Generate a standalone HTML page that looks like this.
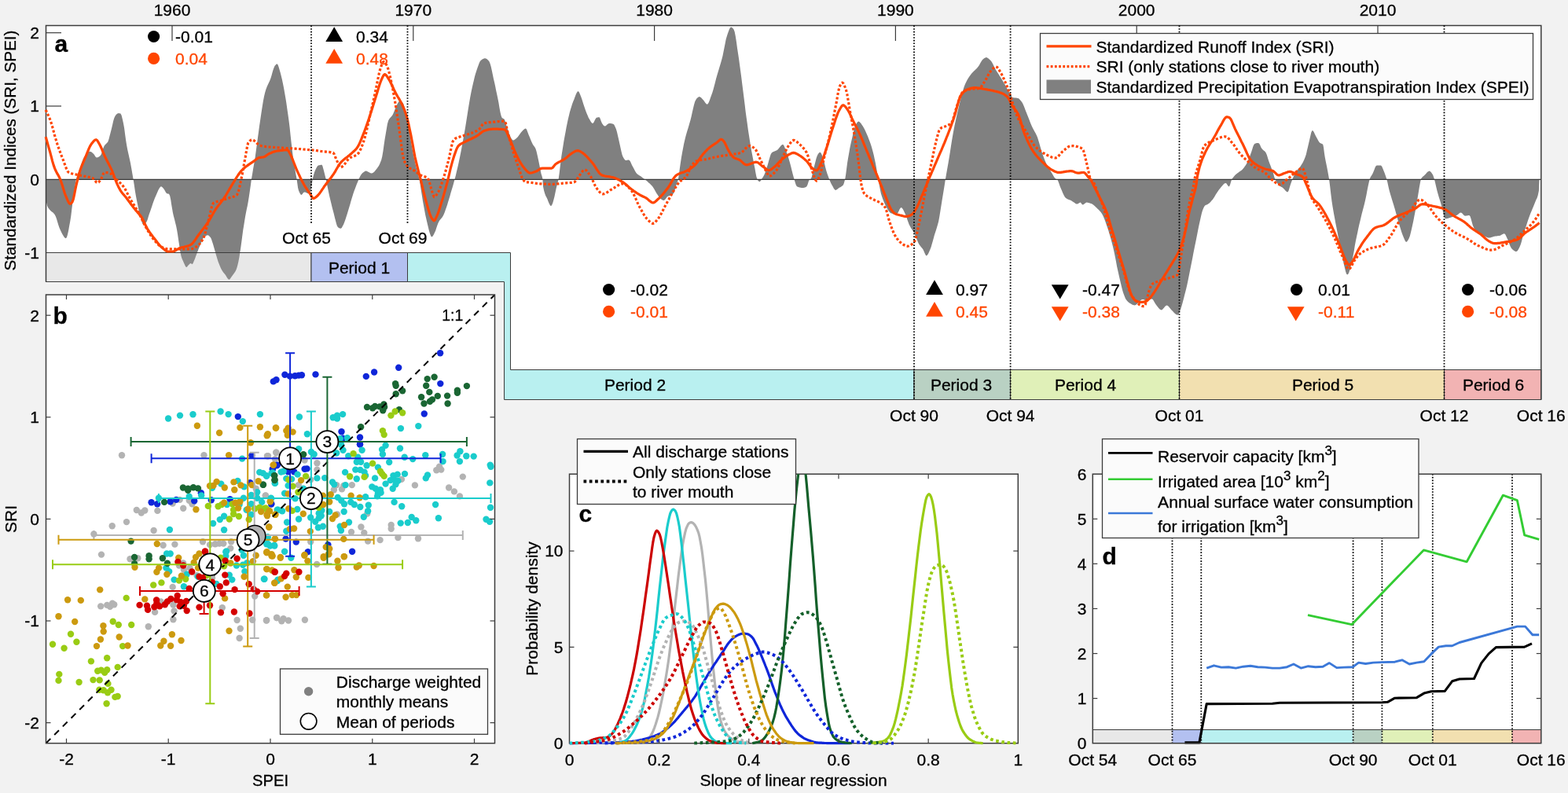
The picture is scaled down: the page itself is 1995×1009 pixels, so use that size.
<!DOCTYPE html>
<html lang="en">
<head>
<meta charset="utf-8">
<title>Standardized indices (SRI, SPEI) figure</title>
<style>
html,body{margin:0;padding:0;background:#f2f2f2;}
body{width:1995px;height:1009px;overflow:hidden;font-family:"Liberation Sans", "DejaVu Sans", sans-serif;}
svg text{white-space:pre;fill:#000;stroke:#000;stroke-width:0.3px;}
svg text.o{fill:#ff4500;stroke:#ff4500;}
</style>
</head>
<body>
<svg width="1995" height="1009" viewBox="0 0 1995 1009" font-family='"Liberation Sans", "DejaVu Sans", sans-serif' style="display:block">
<rect x="0" y="0" width="1995" height="1009" fill="#f2f2f2" stroke="none" stroke-width="1"/>
<g id="panel-a">
<polygon points="58.5,32.5 1960.8,32.5 1960.8,470.5 649.5,470.5 649.5,321.5 58.5,321.5" fill="#fff"/>
<polygon points="58.5,228.3 58.2,227.6 58.9,256.9 60.1,261.9 61.2,264.2 62.4,265.8 63.6,267.3 64.8,268.5 66.0,269.4 67.2,270.3 68.4,271.4 69.6,272.9 70.8,275.3 72.0,278.5 73.1,282.3 74.3,286.2 75.5,289.7 76.7,292.6 77.9,295.0 79.1,297.4 80.3,299.6 81.5,301.5 82.7,302.8 83.8,303.3 84.9,301.9 86.0,298.4 87.1,293.5 88.1,287.7 89.2,281.9 90.3,275.0 91.3,266.6 92.4,257.8 93.5,249.7 94.7,241.5 95.9,233.7 97.0,227.6 98.2,223.5 99.4,220.1 100.5,217.1 101.7,214.1 102.8,210.9 103.8,207.7 104.9,204.5 106.0,201.8 107.0,199.8 108.2,198.0 109.4,196.4 110.6,194.9 111.8,193.7 113.0,192.9 114.2,192.7 115.3,192.9 116.5,193.6 117.6,194.5 118.8,195.5 119.9,196.8 120.9,198.4 122.0,199.9 123.1,200.5 124.2,200.3 125.4,199.8 126.6,199.0 127.7,198.0 128.7,196.4 129.7,193.7 130.7,190.6 131.7,187.7 132.7,185.5 133.9,184.0 135.0,183.0 136.2,181.8 137.4,180.2 138.5,176.9 139.7,172.3 140.9,167.7 142.0,163.4 143.1,158.8 144.1,154.2 145.2,150.5 146.3,148.1 147.3,146.6 148.4,145.3 149.5,144.5 150.6,144.1 151.5,144.2 152.5,144.3 153.4,144.5 154.6,146.7 155.8,151.4 157.0,157.0 158.1,163.1 159.1,170.8 160.2,178.7 161.3,185.5 162.4,191.3 163.6,196.4 164.7,201.4 165.9,206.9 167.1,213.4 168.3,220.5 169.5,227.6 170.7,235.1 171.8,242.8 173.0,249.7 174.1,255.4 175.2,260.8 176.2,265.9 177.3,270.6 178.4,274.7 179.6,279.4 180.8,283.6 182.0,285.4 183.1,285.2 184.3,284.5 185.5,283.6 186.6,282.1 187.7,279.4 188.7,276.1 189.8,272.6 190.9,269.4 192.1,266.0 193.3,262.6 194.4,259.1 195.6,255.7 196.8,252.5 198.0,249.7 199.2,247.1 200.4,244.2 201.6,241.6 202.8,239.4 204.0,237.8 205.1,237.3 206.3,237.9 207.5,239.3 208.7,240.8 209.9,242.7 211.1,244.9 212.3,246.2 213.2,246.4 214.2,246.6 215.1,246.9 216.2,249.3 217.3,254.6 218.3,261.2 219.4,267.6 219.8,270.0 220.9,274.9 222.0,279.1 223.0,283.2 224.1,287.5 225.1,292.6 226.1,298.6 227.1,305.4 228.1,312.1 229.2,319.6 230.4,325.6 231.4,328.7 232.4,331.1 233.4,333.2 234.3,335.3 235.3,337.5 236.2,339.2 237.1,339.9 238.1,339.4 239.1,338.1 240.2,336.9 241.3,335.7 242.4,335.0 243.5,335.6 244.7,336.2 245.8,334.5 246.9,331.7 247.9,329.4 248.8,326.9 249.7,324.4 250.7,321.9 251.8,319.0 252.9,316.1 254.1,313.2 255.2,310.6 256.3,308.0 257.4,305.3 258.6,303.0 259.7,301.6 260.8,300.7 262.0,300.0 263.1,299.5 264.2,299.3 265.2,299.6 266.1,300.2 267.0,301.2 268.0,302.3 269.0,304.4 270.0,307.4 271.0,310.6 272.0,314.0 273.0,317.6 274.0,321.1 274.9,324.3 275.9,327.4 276.8,330.4 277.7,333.2 278.9,336.2 280.0,339.0 281.1,341.5 282.3,343.7 283.4,345.4 284.5,346.9 285.6,348.3 286.8,349.7 287.9,351.5 289.0,353.5 290.2,355.1 291.3,355.7 292.4,355.2 293.5,353.8 294.7,352.1 295.8,350.5 296.9,349.0 298.0,347.5 299.2,345.8 300.3,343.7 301.3,341.0 302.3,337.4 303.3,333.2 304.3,328.0 305.3,321.8 306.3,315.1 307.3,307.8 308.3,299.9 309.3,292.6 310.3,286.4 311.2,280.7 312.1,275.2 313.1,270.0 314.0,265.6 314.9,261.5 315.7,256.9 316.8,250.2 317.9,242.7 319.0,234.9 320.0,227.6 321.2,220.5 322.3,213.8 323.5,207.0 324.7,199.8 325.7,192.3 326.8,184.3 327.9,176.1 329.0,168.0 330.0,160.6 331.2,152.5 332.4,144.3 333.6,136.4 334.8,129.1 336.0,122.7 337.2,117.7 338.3,114.0 339.5,110.8 340.7,108.1 341.9,105.6 343.1,102.9 344.3,99.9 345.4,96.6 346.4,92.8 347.5,89.1 348.6,85.9 349.6,83.8 350.6,82.7 351.5,81.7 352.5,81.3 353.6,82.5 354.6,85.3 355.7,89.0 356.8,92.8 357.8,96.7 358.9,101.3 360.0,106.4 361.1,112.0 362.1,117.7 363.2,123.9 364.3,130.7 365.3,137.9 366.4,145.5 367.5,153.4 368.6,162.2 369.6,171.9 370.7,181.9 371.8,191.4 372.8,199.8 374.0,207.4 375.2,214.3 376.3,220.9 377.5,227.6 378.3,233.3 379.1,238.9 380.0,242.6 381.2,245.3 382.3,247.2 383.5,248.0 384.7,247.0 385.9,245.3 387.1,244.4 388.2,244.6 389.2,245.0 390.3,245.5 391.4,246.0 392.5,246.2 393.4,245.7 394.4,244.4 395.3,242.6 396.1,238.7 397.0,232.7 397.8,227.6 399.0,222.8 400.2,218.8 401.4,215.9 402.6,213.5 403.8,211.5 404.9,210.5 406.1,210.2 407.3,210.0 408.4,209.8 409.6,209.8 410.4,211.2 411.2,214.3 412.1,217.6 412.9,220.7 413.7,224.1 414.6,227.6 415.7,232.9 416.9,238.7 418.1,244.4 419.2,249.7 420.3,254.3 421.4,258.8 422.4,263.1 423.5,267.2 424.6,271.2 425.6,275.4 426.7,279.8 427.8,283.9 428.8,287.2 429.9,289.0 431.1,289.9 432.3,290.5 433.5,290.8 434.7,289.9 435.9,287.8 437.1,285.4 438.2,282.8 439.4,279.5 440.6,275.8 441.8,271.9 443.0,267.9 444.2,264.0 445.3,260.5 446.3,256.8 447.4,253.1 448.5,249.5 449.5,246.2 450.6,243.1 451.7,240.2 452.8,237.3 453.8,234.6 454.9,231.9 455.8,229.7 456.7,227.6 457.9,225.1 459.1,222.8 460.2,221.2 461.3,220.1 462.4,219.2 463.5,218.4 464.5,217.8 465.6,217.6 466.8,217.8 468.0,218.4 469.2,219.1 470.4,219.7 471.5,220.3 472.7,220.5 473.9,220.2 475.1,219.5 476.3,218.4 477.5,217.1 478.7,215.6 479.9,214.1 480.9,212.6 482.0,210.9 483.1,208.8 484.1,206.3 485.2,203.4 486.3,198.9 487.4,192.5 488.4,185.2 489.5,177.8 490.6,171.3 491.8,164.3 492.9,157.8 494.1,153.4 495.2,151.5 496.3,150.1 497.3,149.0 498.4,147.8 499.5,146.3 500.6,144.1 501.6,141.5 502.7,138.7 503.8,136.0 504.8,133.8 506.0,131.5 507.2,129.4 508.4,128.4 509.6,128.7 510.8,129.3 512.0,130.2 513.2,132.1 514.4,135.3 515.5,139.1 516.7,144.1 517.9,150.4 519.1,157.0 520.2,163.1 521.3,169.8 522.3,176.5 523.4,183.1 524.5,189.1 525.5,194.6 526.6,199.8 527.7,204.8 528.7,209.5 529.8,214.1 531.0,218.5 532.2,222.7 533.4,227.6 534.6,234.3 535.8,242.2 537.0,249.7 538.0,256.0 539.1,262.1 540.2,268.1 541.2,273.5 542.3,278.3 543.5,283.4 544.7,288.6 545.9,293.5 547.1,297.6 548.3,300.4 549.4,301.5 550.6,300.6 551.8,298.5 553.0,296.1 554.1,293.7 555.1,290.6 556.2,287.3 557.3,284.2 558.4,281.9 559.4,280.2 560.5,278.9 561.6,277.7 562.6,276.4 563.7,274.7 564.8,272.5 565.9,269.8 566.9,266.8 568.0,263.7 569.1,260.4 570.1,257.1 571.2,253.6 572.3,250.0 573.3,246.3 574.4,242.6 575.5,239.0 576.6,235.3 577.6,231.6 578.7,227.6 579.8,223.4 580.8,219.1 581.9,214.5 583.0,209.8 584.0,204.9 585.1,199.8 586.3,193.8 587.5,187.5 588.7,181.0 589.9,174.2 591.1,167.4 592.3,160.6 593.4,153.4 594.6,145.9 595.8,138.3 597.0,130.9 598.2,123.9 599.4,117.7 600.6,112.1 601.8,106.8 603.0,101.8 604.1,97.1 605.3,92.9 606.5,89.2 607.6,86.0 608.7,83.0 609.7,80.2 610.8,78.0 611.9,76.7 612.9,75.9 614.0,75.2 615.1,74.7 616.2,74.3 617.2,74.2 618.3,74.4 619.4,75.0 620.4,76.0 621.5,77.1 622.6,78.5 623.6,80.9 624.7,84.8 625.8,89.7 626.9,94.9 627.9,99.9 629.0,104.6 630.1,109.6 631.1,114.7 632.2,119.8 633.3,124.9 634.4,130.5 635.4,136.7 636.5,142.7 637.6,147.3 638.6,149.8 639.6,150.5 640.5,151.0 641.5,151.6 642.6,153.7 643.6,157.1 644.7,160.9 645.8,164.1 647.0,167.2 648.1,170.4 649.3,173.4 650.5,176.0 651.7,177.7 652.9,178.4 654.0,178.2 655.0,177.6 656.1,176.8 657.2,175.8 658.3,174.8 659.3,173.6 660.4,172.1 661.5,170.5 662.5,169.0 663.6,167.7 664.7,166.6 665.7,165.4 666.8,164.4 667.9,163.7 669.0,163.4 670.1,164.8 671.3,168.0 672.5,171.3 673.6,173.8 674.7,176.5 675.7,179.1 676.8,181.6 677.9,183.7 679.1,185.5 680.3,187.0 681.4,189.1 682.6,192.8 683.8,197.9 685.0,203.4 686.2,209.3 687.4,215.6 688.6,221.2 689.5,223.9 690.4,227.6 691.0,237.3 692.1,242.6 693.2,246.3 694.2,248.9 695.3,251.1 696.4,253.3 697.5,256.2 698.7,259.1 699.9,261.3 701.0,262.2 702.1,261.1 703.2,258.4 704.2,255.1 705.4,250.5 706.6,244.7 707.8,239.0 708.7,235.4 709.7,231.9 710.7,227.6 711.8,219.5 713.0,209.2 714.2,199.8 715.3,192.7 716.4,185.9 717.4,179.5 718.5,173.5 719.6,167.7 720.6,162.1 721.7,156.7 722.8,151.6 723.9,146.9 724.9,142.7 726.0,139.0 727.1,135.5 728.1,132.3 729.2,129.3 730.3,126.7 731.3,123.9 732.4,121.0 733.5,118.5 734.6,116.7 735.6,116.0 736.8,117.2 738.0,120.0 739.2,123.1 740.3,125.9 741.3,129.2 742.4,132.7 743.5,136.1 744.5,139.1 745.6,142.0 746.7,144.7 747.8,147.3 748.8,149.7 749.9,151.6 751.0,153.4 752.0,155.2 753.1,156.5 754.2,157.0 755.3,155.9 756.5,153.6 757.7,151.2 758.8,149.8 760.0,149.5 761.2,149.2 762.4,149.1 763.6,150.8 764.8,154.2 766.0,157.0 767.1,158.6 768.3,160.0 769.5,160.6 770.6,160.2 771.7,159.3 772.7,158.2 773.8,157.4 774.9,157.0 775.9,157.0 777.0,157.1 778.1,157.2 779.2,157.4 780.2,157.7 781.4,158.8 782.6,161.2 783.8,164.1 785.0,168.1 786.2,173.2 787.4,178.4 788.4,183.1 789.5,188.1 790.6,192.9 791.6,197.0 792.7,199.8 793.9,201.8 795.1,203.4 796.3,204.1 797.5,203.9 798.7,203.5 799.8,203.4 800.9,204.0 802.0,205.6 803.1,207.9 804.1,210.2 805.2,212.3 806.3,214.2 807.3,216.2 808.4,218.2 809.5,219.9 810.6,221.2 811.6,222.1 812.7,222.8 813.8,223.4 814.8,224.1 815.9,224.8 817.1,225.7 818.3,226.7 819.5,227.6 820.5,228.5 821.6,229.3 822.7,230.1 823.8,231.0 824.8,231.9 825.9,232.9 827.0,233.8 828.0,234.9 829.1,236.0 830.2,237.3 831.2,238.8 832.3,240.6 833.4,242.5 834.5,244.4 835.5,246.2 836.6,247.8 837.7,249.5 838.7,251.0 839.8,252.3 840.9,253.3 842.1,254.1 843.3,254.8 844.4,255.1 845.5,254.6 846.6,253.4 847.7,252.0 848.7,250.6 849.8,249.7 851.0,249.3 852.2,249.1 853.4,248.7 854.6,248.1 855.7,247.3 856.9,246.2 858.1,243.6 859.3,239.6 860.5,235.5 861.3,233.1 862.2,230.7 863.0,227.6 863.9,221.7 864.9,214.0 865.9,206.9 866.9,200.4 868.0,194.3 869.1,188.5 870.1,183.2 871.2,178.4 872.4,173.6 873.6,169.3 874.8,165.3 876.0,161.5 877.1,157.6 878.3,153.4 879.5,148.7 880.7,143.3 881.9,138.0 883.1,133.0 884.3,129.1 885.5,126.7 886.5,125.3 887.6,124.2 888.7,123.4 889.8,123.1 890.9,123.4 892.1,124.3 893.2,125.5 894.4,126.7 895.5,127.9 896.5,129.5 897.6,131.1 898.7,132.2 899.7,132.7 900.8,132.0 901.9,130.0 903.0,127.3 904.0,124.3 905.1,121.3 906.3,117.9 907.5,113.9 908.7,109.6 909.9,105.1 911.0,100.6 912.2,96.3 913.4,92.3 914.6,88.3 915.8,84.3 917.0,80.2 918.2,76.0 919.4,71.4 920.4,66.5 921.5,61.0 922.6,55.4 923.6,50.3 924.7,46.4 925.8,43.1 926.9,39.9 927.9,37.2 929.0,35.3 930.1,34.6 931.3,35.0 932.4,36.0 933.6,37.5 934.7,40.4 935.8,45.9 936.9,52.9 937.9,60.5 939.0,67.8 940.1,74.9 941.1,82.6 942.2,90.6 943.3,98.8 944.3,107.0 945.4,115.5 946.5,124.3 947.6,133.1 948.6,141.7 949.7,149.8 950.8,157.5 951.8,165.0 952.9,172.1 954.0,179.0 955.0,185.5 956.1,191.7 957.2,197.6 958.3,203.2 959.3,208.7 960.4,214.1 961.3,219.3 962.3,224.4 963.3,227.6 964.3,229.4 965.4,230.7 966.5,231.2 967.4,230.6 968.4,229.2 969.3,227.6 970.5,225.8 971.7,223.7 972.9,221.2 974.1,218.0 975.3,214.3 976.5,210.5 977.5,206.9 978.6,203.0 979.7,199.2 980.7,196.2 981.8,194.4 983.0,193.6 984.2,192.9 985.4,192.5 986.6,192.0 987.8,191.5 988.9,190.9 990.1,189.8 991.3,188.3 992.5,186.7 993.7,185.2 994.9,184.2 996.1,183.7 997.3,185.0 998.5,187.8 999.6,190.9 1000.7,193.6 1001.8,196.6 1002.9,199.8 1003.9,203.3 1005.0,206.9 1006.2,211.5 1007.4,216.4 1008.6,221.2 1009.5,224.6 1010.3,227.6 1011.5,231.6 1012.7,235.3 1013.9,237.3 1015.1,237.8 1016.3,238.3 1017.5,238.6 1018.7,238.8 1019.9,239.0 1021.0,239.0 1022.1,239.0 1023.2,238.7 1024.3,238.4 1025.3,237.9 1026.4,237.3 1027.6,234.8 1028.8,230.8 1030.0,228.3 1030.9,228.0 1031.8,227.6 1032.9,224.7 1034.1,219.3 1035.3,214.1 1036.4,210.0 1037.5,205.7 1038.5,201.7 1039.6,198.4 1040.7,196.2 1041.6,195.0 1042.6,194.1 1043.5,193.7 1044.6,194.7 1045.7,197.0 1046.7,200.1 1047.8,203.4 1049.0,207.7 1050.2,213.0 1051.4,217.6 1052.6,221.3 1053.8,224.6 1054.9,227.6 1056.1,230.5 1057.3,233.2 1058.5,235.5 1059.7,237.6 1060.8,239.7 1062.0,241.3 1063.1,241.9 1064.2,241.6 1065.3,240.8 1066.4,239.9 1067.4,239.0 1068.5,238.4 1069.6,237.9 1070.6,237.3 1071.7,236.5 1072.8,235.5 1073.6,233.8 1074.4,231.0 1075.3,227.6 1076.2,221.7 1077.2,214.0 1078.1,206.9 1079.2,200.4 1080.3,194.3 1081.3,188.6 1082.4,183.3 1083.5,178.4 1084.6,173.7 1085.6,169.0 1086.7,164.8 1087.8,161.3 1088.8,158.8 1090.0,156.7 1091.2,155.1 1092.4,154.5 1093.5,154.9 1094.5,155.9 1095.6,157.3 1096.7,158.9 1097.8,160.6 1098.8,162.3 1099.9,164.3 1101.0,166.5 1102.0,168.8 1103.1,171.3 1104.2,173.8 1105.2,176.4 1106.3,179.2 1107.4,182.2 1108.5,185.5 1109.5,189.1 1110.6,193.1 1111.7,197.3 1112.7,202.0 1113.8,206.9 1115.0,213.4 1116.2,220.6 1117.4,227.6 1118.6,234.4 1119.8,240.9 1120.9,246.2 1122.0,249.8 1123.1,253.0 1124.2,255.8 1125.2,258.2 1126.3,260.4 1127.5,262.8 1128.7,265.1 1129.9,267.2 1131.1,269.0 1132.2,270.3 1133.4,271.2 1134.6,271.6 1135.8,272.1 1137.0,272.4 1138.2,272.7 1139.4,272.9 1140.6,272.9 1141.6,272.3 1142.6,270.6 1143.6,268.5 1144.6,266.3 1145.6,264.7 1146.6,264.0 1147.8,264.7 1149.0,266.5 1150.1,268.8 1151.3,271.2 1152.3,273.6 1153.4,276.6 1154.5,279.8 1155.6,282.8 1156.6,285.4 1157.8,287.8 1159.0,289.9 1160.2,291.8 1161.4,293.7 1162.6,295.7 1163.8,297.9 1164.8,300.3 1165.9,303.0 1167.0,305.7 1168.0,308.3 1169.1,310.4 1170.2,312.0 1171.3,313.4 1172.3,314.7 1173.4,316.0 1174.5,317.5 1175.5,319.7 1176.6,322.3 1177.7,324.5 1178.7,325.4 1179.9,324.6 1181.1,322.7 1182.2,320.2 1183.4,317.5 1184.5,314.7 1185.5,311.2 1186.6,307.4 1187.7,303.5 1188.7,299.7 1189.8,296.3 1190.9,293.1 1191.9,289.8 1193.0,286.1 1194.1,281.9 1195.3,275.6 1196.5,268.0 1197.7,260.4 1198.8,253.4 1200.0,246.3 1201.2,239.0 1202.1,233.3 1203.0,227.6 1204.2,220.6 1205.4,213.8 1206.6,206.9 1207.8,199.7 1209.0,192.3 1210.1,184.9 1211.3,177.5 1212.5,170.6 1213.7,164.1 1214.9,158.1 1216.1,152.4 1217.3,147.0 1218.5,141.8 1219.7,136.8 1220.8,132.0 1222.0,127.3 1223.2,122.5 1224.4,118.0 1225.6,113.8 1226.8,110.1 1228.0,107.0 1229.1,104.7 1230.2,102.5 1231.3,100.6 1232.4,98.8 1233.6,97.1 1234.7,95.6 1235.8,94.1 1236.9,92.8 1238.1,91.4 1239.3,90.3 1240.5,89.2 1241.7,88.1 1242.8,86.9 1244.0,85.6 1245.2,84.0 1246.4,82.0 1247.6,79.8 1248.8,77.8 1250.0,76.1 1251.2,74.9 1252.4,74.1 1253.6,73.4 1254.7,73.1 1255.8,73.3 1256.9,73.9 1258.0,74.7 1259.0,75.7 1260.1,76.7 1261.3,78.1 1262.5,80.1 1263.7,82.3 1264.8,84.7 1266.0,87.0 1267.2,89.2 1268.3,91.0 1269.5,92.8 1270.6,94.6 1271.7,96.3 1272.8,98.1 1273.9,99.8 1275.0,101.6 1276.1,103.5 1277.3,105.5 1278.5,107.6 1279.7,109.7 1280.9,111.9 1282.1,114.0 1283.3,116.0 1284.4,117.9 1285.4,120.0 1286.5,121.9 1287.6,123.4 1288.6,124.2 1289.7,124.3 1290.8,124.4 1291.8,124.5 1292.9,124.6 1293.9,124.7 1295.0,124.9 1296.1,125.3 1297.1,126.2 1298.2,127.4 1299.3,128.7 1300.4,130.2 1301.4,132.1 1302.5,134.5 1303.6,137.2 1304.6,140.0 1305.7,142.7 1306.9,145.7 1308.1,148.7 1309.3,151.8 1310.5,154.9 1311.6,157.8 1312.8,160.6 1314.0,163.0 1315.2,165.3 1316.4,167.4 1317.6,169.6 1318.8,172.0 1320.0,174.8 1321.0,177.9 1322.1,181.5 1323.2,185.4 1324.3,189.2 1325.3,192.7 1326.4,195.8 1327.5,198.9 1328.5,201.8 1329.6,204.5 1330.7,206.9 1331.9,209.4 1333.1,211.6 1334.2,213.6 1335.4,215.6 1336.6,217.5 1337.8,219.4 1338.9,221.3 1340.0,223.3 1341.0,225.1 1342.1,226.6 1343.2,227.6 1344.0,228.0 1344.9,228.3 1345.9,229.6 1346.8,231.8 1347.8,234.5 1348.8,237.4 1349.8,239.8 1351.0,242.5 1352.2,245.4 1353.4,248.0 1354.6,250.3 1355.8,251.7 1356.9,252.5 1358.0,253.2 1359.2,253.7 1360.3,254.2 1361.4,254.6 1362.6,255.1 1363.7,255.7 1364.8,256.4 1366.0,257.2 1367.2,258.1 1368.3,258.9 1369.5,259.4 1370.6,259.6 1371.6,259.3 1372.6,258.6 1373.6,258.0 1374.6,257.6 1375.6,258.4 1376.6,259.9 1377.6,260.6 1378.5,260.3 1379.5,259.6 1380.5,258.7 1381.5,258.0 1382.5,257.6 1383.7,257.7 1384.8,257.9 1386.0,258.3 1387.1,258.7 1388.3,259.1 1389.4,259.6 1390.6,260.3 1391.8,261.2 1393.0,262.3 1394.2,263.4 1395.4,264.6 1396.5,265.7 1397.7,266.8 1398.9,268.0 1400.0,269.3 1401.2,270.8 1402.3,272.5 1403.5,274.7 1404.7,277.5 1405.9,280.6 1407.1,284.0 1408.3,287.4 1409.3,290.2 1410.3,293.3 1411.2,296.4 1412.2,299.8 1413.2,303.2 1414.2,306.9 1415.2,310.7 1416.2,314.8 1417.2,319.1 1418.2,323.8 1419.2,328.8 1420.2,334.0 1421.1,338.9 1422.1,343.5 1423.1,348.1 1424.1,352.5 1425.1,356.7 1426.1,361.0 1427.1,365.3 1428.1,369.3 1429.1,372.6 1430.1,375.3 1431.1,377.8 1432.0,379.9 1433.0,381.5 1434.0,382.7 1435.0,383.8 1436.0,384.7 1437.0,385.4 1438.0,386.1 1439.2,386.7 1440.4,387.4 1441.6,387.9 1442.7,388.3 1443.9,388.4 1444.9,388.1 1445.9,387.4 1446.9,386.4 1447.9,385.4 1448.9,384.5 1449.9,383.6 1450.9,382.7 1451.9,381.8 1452.9,381.1 1453.8,380.9 1454.8,381.1 1455.8,381.5 1456.8,381.9 1457.8,382.3 1458.8,382.5 1460.0,382.3 1461.1,382.0 1462.3,381.5 1463.4,381.0 1464.6,380.6 1465.7,380.5 1466.7,381.0 1467.7,382.4 1468.7,384.2 1469.7,386.0 1470.7,387.4 1471.8,388.9 1473.0,390.4 1474.2,391.9 1475.3,393.2 1476.5,394.0 1477.6,394.4 1478.8,393.9 1479.9,392.8 1481.1,391.4 1482.2,390.0 1483.4,388.9 1484.6,388.4 1485.7,388.9 1486.9,390.0 1488.1,391.5 1489.3,393.1 1490.5,394.4 1491.6,395.5 1492.8,396.7 1493.9,397.9 1495.0,399.0 1496.2,399.9 1497.3,400.5 1498.4,400.7 1499.4,399.9 1500.4,397.9 1501.4,395.2 1502.4,392.4 1503.4,389.5 1504.4,386.0 1505.4,382.3 1506.4,378.5 1507.3,374.8 1508.3,370.9 1509.3,366.9 1510.3,362.7 1511.3,358.0 1512.3,353.0 1513.3,347.9 1514.3,342.9 1515.3,337.9 1516.3,332.9 1517.3,328.0 1518.2,323.0 1519.2,318.1 1520.2,313.1 1521.2,308.2 1522.2,303.2 1523.2,298.2 1524.2,293.0 1525.2,288.1 1526.2,283.4 1527.2,278.9 1528.2,274.6 1529.1,270.7 1530.1,267.6 1531.1,265.0 1532.1,262.9 1533.1,261.6 1534.1,261.0 1535.1,260.5 1536.1,260.2 1537.1,259.6 1538.3,258.8 1539.4,257.7 1540.6,256.5 1541.8,255.1 1543.0,253.7 1544.0,252.3 1545.0,250.7 1546.0,249.0 1547.0,247.3 1548.0,245.8 1549.2,244.0 1550.3,242.3 1551.5,240.7 1552.7,239.2 1553.9,237.8 1555.0,236.6 1556.1,235.2 1557.2,234.1 1558.3,233.2 1559.5,232.9 1560.5,233.6 1561.6,235.2 1562.7,236.7 1563.8,237.4 1564.9,235.5 1566.1,231.5 1567.2,228.3 1568.2,226.7 1569.2,225.4 1570.2,224.2 1571.3,223.1 1572.3,222.1 1573.3,221.2 1574.5,220.2 1575.7,219.4 1576.9,218.6 1578.0,217.8 1579.2,216.9 1580.4,215.9 1581.5,214.7 1582.6,213.5 1583.6,212.0 1584.7,210.5 1585.8,208.7 1586.8,206.7 1587.9,204.3 1589.0,201.6 1590.1,198.9 1591.1,196.2 1592.2,193.2 1593.3,189.7 1594.3,186.4 1595.4,183.9 1596.5,182.7 1597.6,182.4 1598.8,182.1 1600.0,182.0 1601.1,182.0 1602.2,182.8 1603.3,184.8 1604.3,187.2 1605.4,189.1 1606.5,190.2 1607.5,191.2 1608.6,192.0 1609.7,193.0 1610.7,194.4 1611.9,197.3 1613.1,201.3 1614.3,205.1 1615.4,208.1 1616.5,210.8 1617.5,213.6 1618.6,216.4 1619.7,219.4 1620.5,222.2 1621.3,225.2 1622.2,227.6 1623.3,230.1 1624.5,232.3 1625.6,234.1 1626.8,235.5 1627.9,236.4 1628.9,237.1 1630.0,237.7 1631.1,238.3 1632.2,239.0 1633.2,240.0 1634.2,241.1 1635.2,242.3 1636.2,243.3 1637.2,244.1 1638.2,244.4 1639.4,243.0 1640.5,239.6 1641.7,235.5 1642.9,231.9 1643.8,229.7 1644.6,227.6 1645.8,224.7 1647.0,221.8 1648.2,219.4 1649.4,217.6 1650.6,216.2 1651.8,214.9 1653.0,213.6 1654.2,212.2 1655.3,210.5 1656.4,208.8 1657.5,206.9 1658.6,204.8 1659.6,202.5 1660.7,199.8 1661.8,196.4 1662.8,192.1 1663.9,187.4 1665.0,182.7 1666.0,178.4 1667.2,173.2 1668.4,168.2 1669.6,165.9 1670.7,166.6 1671.8,168.2 1672.8,170.5 1673.9,172.8 1675.0,174.8 1676.1,176.8 1677.3,178.9 1678.4,180.7 1679.6,182.0 1680.8,182.6 1682.0,183.0 1683.2,183.7 1684.0,187.2 1684.8,193.7 1685.7,199.8 1686.9,206.0 1688.1,211.7 1689.2,217.6 1690.1,222.4 1691.0,227.6 1692.2,236.9 1693.4,247.5 1694.6,256.9 1695.8,264.5 1697.0,271.4 1698.2,277.8 1699.3,284.0 1700.5,290.0 1701.7,296.1 1702.9,302.4 1704.1,308.8 1705.3,315.1 1706.5,321.1 1707.7,326.8 1708.9,331.8 1709.9,336.4 1711.0,341.1 1712.1,345.4 1713.1,348.5 1714.2,349.6 1715.3,348.8 1716.4,346.4 1717.4,343.1 1718.5,339.3 1719.6,335.4 1720.6,330.8 1721.7,325.1 1722.8,318.9 1723.8,312.6 1724.9,306.8 1726.0,301.6 1727.1,296.4 1728.1,291.4 1729.2,286.6 1730.3,281.9 1731.5,276.9 1732.6,272.3 1733.8,267.7 1735.0,263.2 1736.2,258.4 1737.4,253.3 1738.5,248.1 1739.5,242.5 1740.6,237.0 1741.7,231.9 1742.8,227.6 1743.9,225.1 1745.1,223.2 1746.3,221.2 1747.4,218.8 1748.5,216.0 1749.5,213.3 1750.6,211.3 1751.7,210.5 1752.7,210.5 1753.8,210.5 1754.9,210.5 1756.0,210.5 1757.0,210.5 1758.2,211.7 1759.4,214.6 1760.6,217.6 1761.8,220.6 1763.0,223.9 1764.2,227.6 1765.4,232.3 1766.5,237.6 1767.7,242.6 1768.8,246.4 1769.9,250.0 1770.9,253.5 1772.0,256.9 1773.1,260.4 1774.3,264.6 1775.5,268.8 1776.7,273.1 1777.8,277.3 1779.0,281.5 1780.2,285.4 1781.3,288.9 1782.4,292.4 1783.4,295.8 1784.5,298.8 1785.6,301.5 1786.8,304.3 1787.9,306.8 1789.1,307.9 1790.3,307.2 1791.5,305.5 1792.7,303.3 1793.8,300.5 1794.8,296.6 1795.9,291.9 1797.0,286.9 1798.1,281.9 1799.1,276.7 1800.2,271.2 1801.3,265.4 1802.3,259.4 1803.4,253.3 1804.6,246.0 1805.8,238.4 1807.0,231.9 1808.0,227.6 1809.1,225.9 1810.2,224.8 1811.3,223.9 1812.3,223.0 1813.4,221.9 1814.5,220.7 1815.5,219.5 1816.6,218.6 1817.7,217.9 1818.8,217.6 1819.9,218.2 1821.1,219.5 1822.3,221.2 1823.2,222.8 1824.0,225.1 1824.8,227.6 1826.0,232.2 1827.2,237.6 1828.4,242.6 1829.5,246.5 1830.5,250.1 1831.6,253.5 1832.7,257.0 1833.7,260.4 1834.8,264.6 1835.9,269.3 1836.9,273.7 1838.0,277.0 1839.1,278.3 1840.3,278.2 1841.5,278.0 1842.7,277.7 1843.8,277.3 1845.0,276.9 1846.2,276.5 1847.4,276.2 1848.6,275.8 1849.8,275.4 1851.0,275.0 1852.2,274.5 1853.4,274.0 1854.4,273.3 1855.5,272.4 1856.6,271.5 1857.6,270.7 1858.7,270.4 1859.8,270.9 1860.9,271.9 1861.9,273.2 1863.0,274.3 1864.1,274.7 1865.1,274.6 1866.2,274.5 1867.3,274.3 1868.3,274.1 1869.4,274.0 1870.5,275.3 1871.6,278.4 1872.6,282.3 1873.7,286.2 1874.8,289.0 1875.8,290.8 1876.9,292.5 1878.0,294.0 1879.0,295.2 1880.1,296.1 1881.3,296.9 1882.5,297.6 1883.7,298.2 1884.9,298.7 1886.1,299.2 1887.3,299.7 1888.4,300.3 1889.6,300.9 1890.8,301.5 1892.0,302.0 1893.2,302.4 1894.4,302.5 1895.6,302.4 1896.8,302.2 1898.0,301.8 1899.1,301.4 1900.3,301.1 1901.5,300.8 1902.7,300.6 1903.9,300.4 1905.1,300.3 1906.3,300.1 1907.5,299.9 1908.7,299.7 1909.7,299.3 1910.8,298.6 1911.9,298.0 1912.9,297.4 1914.0,297.2 1915.2,298.3 1916.4,300.7 1917.6,303.3 1918.6,305.7 1919.7,308.6 1920.8,311.5 1921.9,314.1 1922.9,315.7 1924.0,316.9 1925.1,317.9 1926.1,318.7 1927.2,319.4 1928.3,319.9 1929.4,320.0 1930.4,319.5 1931.5,318.0 1932.6,316.1 1933.6,314.0 1934.7,311.3 1935.8,307.8 1936.8,303.8 1937.9,299.8 1939.0,296.1 1940.2,292.4 1941.4,288.7 1942.6,285.0 1943.7,281.5 1944.9,278.0 1946.1,274.7 1947.3,271.6 1948.5,268.7 1949.7,265.8 1950.9,263.0 1952.1,260.0 1953.3,256.9 1954.4,254.3 1955.6,251.9 1956.7,248.5 1957.9,242.6 1958.6,227.6 1959.8,228.3" fill="#808080"/>
<rect x="58.5" y="321.5" width="337.5" height="37.0" fill="#e8e8e8" stroke="none" stroke-width="1"/>
<clipPath id="clipbar"><rect x="58.5" y="321.5" width="337.5" height="37.0"/></clipPath>
<polygon points="58.5,228.3 58.2,227.6 58.9,256.9 60.1,261.9 61.2,264.2 62.4,265.8 63.6,267.3 64.8,268.5 66.0,269.4 67.2,270.3 68.4,271.4 69.6,272.9 70.8,275.3 72.0,278.5 73.1,282.3 74.3,286.2 75.5,289.7 76.7,292.6 77.9,295.0 79.1,297.4 80.3,299.6 81.5,301.5 82.7,302.8 83.8,303.3 84.9,301.9 86.0,298.4 87.1,293.5 88.1,287.7 89.2,281.9 90.3,275.0 91.3,266.6 92.4,257.8 93.5,249.7 94.7,241.5 95.9,233.7 97.0,227.6 98.2,223.5 99.4,220.1 100.5,217.1 101.7,214.1 102.8,210.9 103.8,207.7 104.9,204.5 106.0,201.8 107.0,199.8 108.2,198.0 109.4,196.4 110.6,194.9 111.8,193.7 113.0,192.9 114.2,192.7 115.3,192.9 116.5,193.6 117.6,194.5 118.8,195.5 119.9,196.8 120.9,198.4 122.0,199.9 123.1,200.5 124.2,200.3 125.4,199.8 126.6,199.0 127.7,198.0 128.7,196.4 129.7,193.7 130.7,190.6 131.7,187.7 132.7,185.5 133.9,184.0 135.0,183.0 136.2,181.8 137.4,180.2 138.5,176.9 139.7,172.3 140.9,167.7 142.0,163.4 143.1,158.8 144.1,154.2 145.2,150.5 146.3,148.1 147.3,146.6 148.4,145.3 149.5,144.5 150.6,144.1 151.5,144.2 152.5,144.3 153.4,144.5 154.6,146.7 155.8,151.4 157.0,157.0 158.1,163.1 159.1,170.8 160.2,178.7 161.3,185.5 162.4,191.3 163.6,196.4 164.7,201.4 165.9,206.9 167.1,213.4 168.3,220.5 169.5,227.6 170.7,235.1 171.8,242.8 173.0,249.7 174.1,255.4 175.2,260.8 176.2,265.9 177.3,270.6 178.4,274.7 179.6,279.4 180.8,283.6 182.0,285.4 183.1,285.2 184.3,284.5 185.5,283.6 186.6,282.1 187.7,279.4 188.7,276.1 189.8,272.6 190.9,269.4 192.1,266.0 193.3,262.6 194.4,259.1 195.6,255.7 196.8,252.5 198.0,249.7 199.2,247.1 200.4,244.2 201.6,241.6 202.8,239.4 204.0,237.8 205.1,237.3 206.3,237.9 207.5,239.3 208.7,240.8 209.9,242.7 211.1,244.9 212.3,246.2 213.2,246.4 214.2,246.6 215.1,246.9 216.2,249.3 217.3,254.6 218.3,261.2 219.4,267.6 219.8,270.0 220.9,274.9 222.0,279.1 223.0,283.2 224.1,287.5 225.1,292.6 226.1,298.6 227.1,305.4 228.1,312.1 229.2,319.6 230.4,325.6 231.4,328.7 232.4,331.1 233.4,333.2 234.3,335.3 235.3,337.5 236.2,339.2 237.1,339.9 238.1,339.4 239.1,338.1 240.2,336.9 241.3,335.7 242.4,335.0 243.5,335.6 244.7,336.2 245.8,334.5 246.9,331.7 247.9,329.4 248.8,326.9 249.7,324.4 250.7,321.9 251.8,319.0 252.9,316.1 254.1,313.2 255.2,310.6 256.3,308.0 257.4,305.3 258.6,303.0 259.7,301.6 260.8,300.7 262.0,300.0 263.1,299.5 264.2,299.3 265.2,299.6 266.1,300.2 267.0,301.2 268.0,302.3 269.0,304.4 270.0,307.4 271.0,310.6 272.0,314.0 273.0,317.6 274.0,321.1 274.9,324.3 275.9,327.4 276.8,330.4 277.7,333.2 278.9,336.2 280.0,339.0 281.1,341.5 282.3,343.7 283.4,345.4 284.5,346.9 285.6,348.3 286.8,349.7 287.9,351.5 289.0,353.5 290.2,355.1 291.3,355.7 292.4,355.2 293.5,353.8 294.7,352.1 295.8,350.5 296.9,349.0 298.0,347.5 299.2,345.8 300.3,343.7 301.3,341.0 302.3,337.4 303.3,333.2 304.3,328.0 305.3,321.8 306.3,315.1 307.3,307.8 308.3,299.9 309.3,292.6 310.3,286.4 311.2,280.7 312.1,275.2 313.1,270.0 314.0,265.6 314.9,261.5 315.7,256.9 316.8,250.2 317.9,242.7 319.0,234.9 320.0,227.6 321.2,220.5 322.3,213.8 323.5,207.0 324.7,199.8 325.7,192.3 326.8,184.3 327.9,176.1 329.0,168.0 330.0,160.6 331.2,152.5 332.4,144.3 333.6,136.4 334.8,129.1 336.0,122.7 337.2,117.7 338.3,114.0 339.5,110.8 340.7,108.1 341.9,105.6 343.1,102.9 344.3,99.9 345.4,96.6 346.4,92.8 347.5,89.1 348.6,85.9 349.6,83.8 350.6,82.7 351.5,81.7 352.5,81.3 353.6,82.5 354.6,85.3 355.7,89.0 356.8,92.8 357.8,96.7 358.9,101.3 360.0,106.4 361.1,112.0 362.1,117.7 363.2,123.9 364.3,130.7 365.3,137.9 366.4,145.5 367.5,153.4 368.6,162.2 369.6,171.9 370.7,181.9 371.8,191.4 372.8,199.8 374.0,207.4 375.2,214.3 376.3,220.9 377.5,227.6 378.3,233.3 379.1,238.9 380.0,242.6 381.2,245.3 382.3,247.2 383.5,248.0 384.7,247.0 385.9,245.3 387.1,244.4 388.2,244.6 389.2,245.0 390.3,245.5 391.4,246.0 392.5,246.2 393.4,245.7 394.4,244.4 395.3,242.6 396.1,238.7 397.0,232.7 397.8,227.6 399.0,222.8 400.2,218.8 401.4,215.9 402.6,213.5 403.8,211.5 404.9,210.5 406.1,210.2 407.3,210.0 408.4,209.8 409.6,209.8 410.4,211.2 411.2,214.3 412.1,217.6 412.9,220.7 413.7,224.1 414.6,227.6 415.7,232.9 416.9,238.7 418.1,244.4 419.2,249.7 420.3,254.3 421.4,258.8 422.4,263.1 423.5,267.2 424.6,271.2 425.6,275.4 426.7,279.8 427.8,283.9 428.8,287.2 429.9,289.0 431.1,289.9 432.3,290.5 433.5,290.8 434.7,289.9 435.9,287.8 437.1,285.4 438.2,282.8 439.4,279.5 440.6,275.8 441.8,271.9 443.0,267.9 444.2,264.0 445.3,260.5 446.3,256.8 447.4,253.1 448.5,249.5 449.5,246.2 450.6,243.1 451.7,240.2 452.8,237.3 453.8,234.6 454.9,231.9 455.8,229.7 456.7,227.6 457.9,225.1 459.1,222.8 460.2,221.2 461.3,220.1 462.4,219.2 463.5,218.4 464.5,217.8 465.6,217.6 466.8,217.8 468.0,218.4 469.2,219.1 470.4,219.7 471.5,220.3 472.7,220.5 473.9,220.2 475.1,219.5 476.3,218.4 477.5,217.1 478.7,215.6 479.9,214.1 480.9,212.6 482.0,210.9 483.1,208.8 484.1,206.3 485.2,203.4 486.3,198.9 487.4,192.5 488.4,185.2 489.5,177.8 490.6,171.3 491.8,164.3 492.9,157.8 494.1,153.4 495.2,151.5 496.3,150.1 497.3,149.0 498.4,147.8 499.5,146.3 500.6,144.1 501.6,141.5 502.7,138.7 503.8,136.0 504.8,133.8 506.0,131.5 507.2,129.4 508.4,128.4 509.6,128.7 510.8,129.3 512.0,130.2 513.2,132.1 514.4,135.3 515.5,139.1 516.7,144.1 517.9,150.4 519.1,157.0 520.2,163.1 521.3,169.8 522.3,176.5 523.4,183.1 524.5,189.1 525.5,194.6 526.6,199.8 527.7,204.8 528.7,209.5 529.8,214.1 531.0,218.5 532.2,222.7 533.4,227.6 534.6,234.3 535.8,242.2 537.0,249.7 538.0,256.0 539.1,262.1 540.2,268.1 541.2,273.5 542.3,278.3 543.5,283.4 544.7,288.6 545.9,293.5 547.1,297.6 548.3,300.4 549.4,301.5 550.6,300.6 551.8,298.5 553.0,296.1 554.1,293.7 555.1,290.6 556.2,287.3 557.3,284.2 558.4,281.9 559.4,280.2 560.5,278.9 561.6,277.7 562.6,276.4 563.7,274.7 564.8,272.5 565.9,269.8 566.9,266.8 568.0,263.7 569.1,260.4 570.1,257.1 571.2,253.6 572.3,250.0 573.3,246.3 574.4,242.6 575.5,239.0 576.6,235.3 577.6,231.6 578.7,227.6 579.8,223.4 580.8,219.1 581.9,214.5 583.0,209.8 584.0,204.9 585.1,199.8 586.3,193.8 587.5,187.5 588.7,181.0 589.9,174.2 591.1,167.4 592.3,160.6 593.4,153.4 594.6,145.9 595.8,138.3 597.0,130.9 598.2,123.9 599.4,117.7 600.6,112.1 601.8,106.8 603.0,101.8 604.1,97.1 605.3,92.9 606.5,89.2 607.6,86.0 608.7,83.0 609.7,80.2 610.8,78.0 611.9,76.7 612.9,75.9 614.0,75.2 615.1,74.7 616.2,74.3 617.2,74.2 618.3,74.4 619.4,75.0 620.4,76.0 621.5,77.1 622.6,78.5 623.6,80.9 624.7,84.8 625.8,89.7 626.9,94.9 627.9,99.9 629.0,104.6 630.1,109.6 631.1,114.7 632.2,119.8 633.3,124.9 634.4,130.5 635.4,136.7 636.5,142.7 637.6,147.3 638.6,149.8 639.6,150.5 640.5,151.0 641.5,151.6 642.6,153.7 643.6,157.1 644.7,160.9 645.8,164.1 647.0,167.2 648.1,170.4 649.3,173.4 650.5,176.0 651.7,177.7 652.9,178.4 654.0,178.2 655.0,177.6 656.1,176.8 657.2,175.8 658.3,174.8 659.3,173.6 660.4,172.1 661.5,170.5 662.5,169.0 663.6,167.7 664.7,166.6 665.7,165.4 666.8,164.4 667.9,163.7 669.0,163.4 670.1,164.8 671.3,168.0 672.5,171.3 673.6,173.8 674.7,176.5 675.7,179.1 676.8,181.6 677.9,183.7 679.1,185.5 680.3,187.0 681.4,189.1 682.6,192.8 683.8,197.9 685.0,203.4 686.2,209.3 687.4,215.6 688.6,221.2 689.5,223.9 690.4,227.6 691.0,237.3 692.1,242.6 693.2,246.3 694.2,248.9 695.3,251.1 696.4,253.3 697.5,256.2 698.7,259.1 699.9,261.3 701.0,262.2 702.1,261.1 703.2,258.4 704.2,255.1 705.4,250.5 706.6,244.7 707.8,239.0 708.7,235.4 709.7,231.9 710.7,227.6 711.8,219.5 713.0,209.2 714.2,199.8 715.3,192.7 716.4,185.9 717.4,179.5 718.5,173.5 719.6,167.7 720.6,162.1 721.7,156.7 722.8,151.6 723.9,146.9 724.9,142.7 726.0,139.0 727.1,135.5 728.1,132.3 729.2,129.3 730.3,126.7 731.3,123.9 732.4,121.0 733.5,118.5 734.6,116.7 735.6,116.0 736.8,117.2 738.0,120.0 739.2,123.1 740.3,125.9 741.3,129.2 742.4,132.7 743.5,136.1 744.5,139.1 745.6,142.0 746.7,144.7 747.8,147.3 748.8,149.7 749.9,151.6 751.0,153.4 752.0,155.2 753.1,156.5 754.2,157.0 755.3,155.9 756.5,153.6 757.7,151.2 758.8,149.8 760.0,149.5 761.2,149.2 762.4,149.1 763.6,150.8 764.8,154.2 766.0,157.0 767.1,158.6 768.3,160.0 769.5,160.6 770.6,160.2 771.7,159.3 772.7,158.2 773.8,157.4 774.9,157.0 775.9,157.0 777.0,157.1 778.1,157.2 779.2,157.4 780.2,157.7 781.4,158.8 782.6,161.2 783.8,164.1 785.0,168.1 786.2,173.2 787.4,178.4 788.4,183.1 789.5,188.1 790.6,192.9 791.6,197.0 792.7,199.8 793.9,201.8 795.1,203.4 796.3,204.1 797.5,203.9 798.7,203.5 799.8,203.4 800.9,204.0 802.0,205.6 803.1,207.9 804.1,210.2 805.2,212.3 806.3,214.2 807.3,216.2 808.4,218.2 809.5,219.9 810.6,221.2 811.6,222.1 812.7,222.8 813.8,223.4 814.8,224.1 815.9,224.8 817.1,225.7 818.3,226.7 819.5,227.6 820.5,228.5 821.6,229.3 822.7,230.1 823.8,231.0 824.8,231.9 825.9,232.9 827.0,233.8 828.0,234.9 829.1,236.0 830.2,237.3 831.2,238.8 832.3,240.6 833.4,242.5 834.5,244.4 835.5,246.2 836.6,247.8 837.7,249.5 838.7,251.0 839.8,252.3 840.9,253.3 842.1,254.1 843.3,254.8 844.4,255.1 845.5,254.6 846.6,253.4 847.7,252.0 848.7,250.6 849.8,249.7 851.0,249.3 852.2,249.1 853.4,248.7 854.6,248.1 855.7,247.3 856.9,246.2 858.1,243.6 859.3,239.6 860.5,235.5 861.3,233.1 862.2,230.7 863.0,227.6 863.9,221.7 864.9,214.0 865.9,206.9 866.9,200.4 868.0,194.3 869.1,188.5 870.1,183.2 871.2,178.4 872.4,173.6 873.6,169.3 874.8,165.3 876.0,161.5 877.1,157.6 878.3,153.4 879.5,148.7 880.7,143.3 881.9,138.0 883.1,133.0 884.3,129.1 885.5,126.7 886.5,125.3 887.6,124.2 888.7,123.4 889.8,123.1 890.9,123.4 892.1,124.3 893.2,125.5 894.4,126.7 895.5,127.9 896.5,129.5 897.6,131.1 898.7,132.2 899.7,132.7 900.8,132.0 901.9,130.0 903.0,127.3 904.0,124.3 905.1,121.3 906.3,117.9 907.5,113.9 908.7,109.6 909.9,105.1 911.0,100.6 912.2,96.3 913.4,92.3 914.6,88.3 915.8,84.3 917.0,80.2 918.2,76.0 919.4,71.4 920.4,66.5 921.5,61.0 922.6,55.4 923.6,50.3 924.7,46.4 925.8,43.1 926.9,39.9 927.9,37.2 929.0,35.3 930.1,34.6 931.3,35.0 932.4,36.0 933.6,37.5 934.7,40.4 935.8,45.9 936.9,52.9 937.9,60.5 939.0,67.8 940.1,74.9 941.1,82.6 942.2,90.6 943.3,98.8 944.3,107.0 945.4,115.5 946.5,124.3 947.6,133.1 948.6,141.7 949.7,149.8 950.8,157.5 951.8,165.0 952.9,172.1 954.0,179.0 955.0,185.5 956.1,191.7 957.2,197.6 958.3,203.2 959.3,208.7 960.4,214.1 961.3,219.3 962.3,224.4 963.3,227.6 964.3,229.4 965.4,230.7 966.5,231.2 967.4,230.6 968.4,229.2 969.3,227.6 970.5,225.8 971.7,223.7 972.9,221.2 974.1,218.0 975.3,214.3 976.5,210.5 977.5,206.9 978.6,203.0 979.7,199.2 980.7,196.2 981.8,194.4 983.0,193.6 984.2,192.9 985.4,192.5 986.6,192.0 987.8,191.5 988.9,190.9 990.1,189.8 991.3,188.3 992.5,186.7 993.7,185.2 994.9,184.2 996.1,183.7 997.3,185.0 998.5,187.8 999.6,190.9 1000.7,193.6 1001.8,196.6 1002.9,199.8 1003.9,203.3 1005.0,206.9 1006.2,211.5 1007.4,216.4 1008.6,221.2 1009.5,224.6 1010.3,227.6 1011.5,231.6 1012.7,235.3 1013.9,237.3 1015.1,237.8 1016.3,238.3 1017.5,238.6 1018.7,238.8 1019.9,239.0 1021.0,239.0 1022.1,239.0 1023.2,238.7 1024.3,238.4 1025.3,237.9 1026.4,237.3 1027.6,234.8 1028.8,230.8 1030.0,228.3 1030.9,228.0 1031.8,227.6 1032.9,224.7 1034.1,219.3 1035.3,214.1 1036.4,210.0 1037.5,205.7 1038.5,201.7 1039.6,198.4 1040.7,196.2 1041.6,195.0 1042.6,194.1 1043.5,193.7 1044.6,194.7 1045.7,197.0 1046.7,200.1 1047.8,203.4 1049.0,207.7 1050.2,213.0 1051.4,217.6 1052.6,221.3 1053.8,224.6 1054.9,227.6 1056.1,230.5 1057.3,233.2 1058.5,235.5 1059.7,237.6 1060.8,239.7 1062.0,241.3 1063.1,241.9 1064.2,241.6 1065.3,240.8 1066.4,239.9 1067.4,239.0 1068.5,238.4 1069.6,237.9 1070.6,237.3 1071.7,236.5 1072.8,235.5 1073.6,233.8 1074.4,231.0 1075.3,227.6 1076.2,221.7 1077.2,214.0 1078.1,206.9 1079.2,200.4 1080.3,194.3 1081.3,188.6 1082.4,183.3 1083.5,178.4 1084.6,173.7 1085.6,169.0 1086.7,164.8 1087.8,161.3 1088.8,158.8 1090.0,156.7 1091.2,155.1 1092.4,154.5 1093.5,154.9 1094.5,155.9 1095.6,157.3 1096.7,158.9 1097.8,160.6 1098.8,162.3 1099.9,164.3 1101.0,166.5 1102.0,168.8 1103.1,171.3 1104.2,173.8 1105.2,176.4 1106.3,179.2 1107.4,182.2 1108.5,185.5 1109.5,189.1 1110.6,193.1 1111.7,197.3 1112.7,202.0 1113.8,206.9 1115.0,213.4 1116.2,220.6 1117.4,227.6 1118.6,234.4 1119.8,240.9 1120.9,246.2 1122.0,249.8 1123.1,253.0 1124.2,255.8 1125.2,258.2 1126.3,260.4 1127.5,262.8 1128.7,265.1 1129.9,267.2 1131.1,269.0 1132.2,270.3 1133.4,271.2 1134.6,271.6 1135.8,272.1 1137.0,272.4 1138.2,272.7 1139.4,272.9 1140.6,272.9 1141.6,272.3 1142.6,270.6 1143.6,268.5 1144.6,266.3 1145.6,264.7 1146.6,264.0 1147.8,264.7 1149.0,266.5 1150.1,268.8 1151.3,271.2 1152.3,273.6 1153.4,276.6 1154.5,279.8 1155.6,282.8 1156.6,285.4 1157.8,287.8 1159.0,289.9 1160.2,291.8 1161.4,293.7 1162.6,295.7 1163.8,297.9 1164.8,300.3 1165.9,303.0 1167.0,305.7 1168.0,308.3 1169.1,310.4 1170.2,312.0 1171.3,313.4 1172.3,314.7 1173.4,316.0 1174.5,317.5 1175.5,319.7 1176.6,322.3 1177.7,324.5 1178.7,325.4 1179.9,324.6 1181.1,322.7 1182.2,320.2 1183.4,317.5 1184.5,314.7 1185.5,311.2 1186.6,307.4 1187.7,303.5 1188.7,299.7 1189.8,296.3 1190.9,293.1 1191.9,289.8 1193.0,286.1 1194.1,281.9 1195.3,275.6 1196.5,268.0 1197.7,260.4 1198.8,253.4 1200.0,246.3 1201.2,239.0 1202.1,233.3 1203.0,227.6 1204.2,220.6 1205.4,213.8 1206.6,206.9 1207.8,199.7 1209.0,192.3 1210.1,184.9 1211.3,177.5 1212.5,170.6 1213.7,164.1 1214.9,158.1 1216.1,152.4 1217.3,147.0 1218.5,141.8 1219.7,136.8 1220.8,132.0 1222.0,127.3 1223.2,122.5 1224.4,118.0 1225.6,113.8 1226.8,110.1 1228.0,107.0 1229.1,104.7 1230.2,102.5 1231.3,100.6 1232.4,98.8 1233.6,97.1 1234.7,95.6 1235.8,94.1 1236.9,92.8 1238.1,91.4 1239.3,90.3 1240.5,89.2 1241.7,88.1 1242.8,86.9 1244.0,85.6 1245.2,84.0 1246.4,82.0 1247.6,79.8 1248.8,77.8 1250.0,76.1 1251.2,74.9 1252.4,74.1 1253.6,73.4 1254.7,73.1 1255.8,73.3 1256.9,73.9 1258.0,74.7 1259.0,75.7 1260.1,76.7 1261.3,78.1 1262.5,80.1 1263.7,82.3 1264.8,84.7 1266.0,87.0 1267.2,89.2 1268.3,91.0 1269.5,92.8 1270.6,94.6 1271.7,96.3 1272.8,98.1 1273.9,99.8 1275.0,101.6 1276.1,103.5 1277.3,105.5 1278.5,107.6 1279.7,109.7 1280.9,111.9 1282.1,114.0 1283.3,116.0 1284.4,117.9 1285.4,120.0 1286.5,121.9 1287.6,123.4 1288.6,124.2 1289.7,124.3 1290.8,124.4 1291.8,124.5 1292.9,124.6 1293.9,124.7 1295.0,124.9 1296.1,125.3 1297.1,126.2 1298.2,127.4 1299.3,128.7 1300.4,130.2 1301.4,132.1 1302.5,134.5 1303.6,137.2 1304.6,140.0 1305.7,142.7 1306.9,145.7 1308.1,148.7 1309.3,151.8 1310.5,154.9 1311.6,157.8 1312.8,160.6 1314.0,163.0 1315.2,165.3 1316.4,167.4 1317.6,169.6 1318.8,172.0 1320.0,174.8 1321.0,177.9 1322.1,181.5 1323.2,185.4 1324.3,189.2 1325.3,192.7 1326.4,195.8 1327.5,198.9 1328.5,201.8 1329.6,204.5 1330.7,206.9 1331.9,209.4 1333.1,211.6 1334.2,213.6 1335.4,215.6 1336.6,217.5 1337.8,219.4 1338.9,221.3 1340.0,223.3 1341.0,225.1 1342.1,226.6 1343.2,227.6 1344.0,228.0 1344.9,228.3 1345.9,229.6 1346.8,231.8 1347.8,234.5 1348.8,237.4 1349.8,239.8 1351.0,242.5 1352.2,245.4 1353.4,248.0 1354.6,250.3 1355.8,251.7 1356.9,252.5 1358.0,253.2 1359.2,253.7 1360.3,254.2 1361.4,254.6 1362.6,255.1 1363.7,255.7 1364.8,256.4 1366.0,257.2 1367.2,258.1 1368.3,258.9 1369.5,259.4 1370.6,259.6 1371.6,259.3 1372.6,258.6 1373.6,258.0 1374.6,257.6 1375.6,258.4 1376.6,259.9 1377.6,260.6 1378.5,260.3 1379.5,259.6 1380.5,258.7 1381.5,258.0 1382.5,257.6 1383.7,257.7 1384.8,257.9 1386.0,258.3 1387.1,258.7 1388.3,259.1 1389.4,259.6 1390.6,260.3 1391.8,261.2 1393.0,262.3 1394.2,263.4 1395.4,264.6 1396.5,265.7 1397.7,266.8 1398.9,268.0 1400.0,269.3 1401.2,270.8 1402.3,272.5 1403.5,274.7 1404.7,277.5 1405.9,280.6 1407.1,284.0 1408.3,287.4 1409.3,290.2 1410.3,293.3 1411.2,296.4 1412.2,299.8 1413.2,303.2 1414.2,306.9 1415.2,310.7 1416.2,314.8 1417.2,319.1 1418.2,323.8 1419.2,328.8 1420.2,334.0 1421.1,338.9 1422.1,343.5 1423.1,348.1 1424.1,352.5 1425.1,356.7 1426.1,361.0 1427.1,365.3 1428.1,369.3 1429.1,372.6 1430.1,375.3 1431.1,377.8 1432.0,379.9 1433.0,381.5 1434.0,382.7 1435.0,383.8 1436.0,384.7 1437.0,385.4 1438.0,386.1 1439.2,386.7 1440.4,387.4 1441.6,387.9 1442.7,388.3 1443.9,388.4 1444.9,388.1 1445.9,387.4 1446.9,386.4 1447.9,385.4 1448.9,384.5 1449.9,383.6 1450.9,382.7 1451.9,381.8 1452.9,381.1 1453.8,380.9 1454.8,381.1 1455.8,381.5 1456.8,381.9 1457.8,382.3 1458.8,382.5 1460.0,382.3 1461.1,382.0 1462.3,381.5 1463.4,381.0 1464.6,380.6 1465.7,380.5 1466.7,381.0 1467.7,382.4 1468.7,384.2 1469.7,386.0 1470.7,387.4 1471.8,388.9 1473.0,390.4 1474.2,391.9 1475.3,393.2 1476.5,394.0 1477.6,394.4 1478.8,393.9 1479.9,392.8 1481.1,391.4 1482.2,390.0 1483.4,388.9 1484.6,388.4 1485.7,388.9 1486.9,390.0 1488.1,391.5 1489.3,393.1 1490.5,394.4 1491.6,395.5 1492.8,396.7 1493.9,397.9 1495.0,399.0 1496.2,399.9 1497.3,400.5 1498.4,400.7 1499.4,399.9 1500.4,397.9 1501.4,395.2 1502.4,392.4 1503.4,389.5 1504.4,386.0 1505.4,382.3 1506.4,378.5 1507.3,374.8 1508.3,370.9 1509.3,366.9 1510.3,362.7 1511.3,358.0 1512.3,353.0 1513.3,347.9 1514.3,342.9 1515.3,337.9 1516.3,332.9 1517.3,328.0 1518.2,323.0 1519.2,318.1 1520.2,313.1 1521.2,308.2 1522.2,303.2 1523.2,298.2 1524.2,293.0 1525.2,288.1 1526.2,283.4 1527.2,278.9 1528.2,274.6 1529.1,270.7 1530.1,267.6 1531.1,265.0 1532.1,262.9 1533.1,261.6 1534.1,261.0 1535.1,260.5 1536.1,260.2 1537.1,259.6 1538.3,258.8 1539.4,257.7 1540.6,256.5 1541.8,255.1 1543.0,253.7 1544.0,252.3 1545.0,250.7 1546.0,249.0 1547.0,247.3 1548.0,245.8 1549.2,244.0 1550.3,242.3 1551.5,240.7 1552.7,239.2 1553.9,237.8 1555.0,236.6 1556.1,235.2 1557.2,234.1 1558.3,233.2 1559.5,232.9 1560.5,233.6 1561.6,235.2 1562.7,236.7 1563.8,237.4 1564.9,235.5 1566.1,231.5 1567.2,228.3 1568.2,226.7 1569.2,225.4 1570.2,224.2 1571.3,223.1 1572.3,222.1 1573.3,221.2 1574.5,220.2 1575.7,219.4 1576.9,218.6 1578.0,217.8 1579.2,216.9 1580.4,215.9 1581.5,214.7 1582.6,213.5 1583.6,212.0 1584.7,210.5 1585.8,208.7 1586.8,206.7 1587.9,204.3 1589.0,201.6 1590.1,198.9 1591.1,196.2 1592.2,193.2 1593.3,189.7 1594.3,186.4 1595.4,183.9 1596.5,182.7 1597.6,182.4 1598.8,182.1 1600.0,182.0 1601.1,182.0 1602.2,182.8 1603.3,184.8 1604.3,187.2 1605.4,189.1 1606.5,190.2 1607.5,191.2 1608.6,192.0 1609.7,193.0 1610.7,194.4 1611.9,197.3 1613.1,201.3 1614.3,205.1 1615.4,208.1 1616.5,210.8 1617.5,213.6 1618.6,216.4 1619.7,219.4 1620.5,222.2 1621.3,225.2 1622.2,227.6 1623.3,230.1 1624.5,232.3 1625.6,234.1 1626.8,235.5 1627.9,236.4 1628.9,237.1 1630.0,237.7 1631.1,238.3 1632.2,239.0 1633.2,240.0 1634.2,241.1 1635.2,242.3 1636.2,243.3 1637.2,244.1 1638.2,244.4 1639.4,243.0 1640.5,239.6 1641.7,235.5 1642.9,231.9 1643.8,229.7 1644.6,227.6 1645.8,224.7 1647.0,221.8 1648.2,219.4 1649.4,217.6 1650.6,216.2 1651.8,214.9 1653.0,213.6 1654.2,212.2 1655.3,210.5 1656.4,208.8 1657.5,206.9 1658.6,204.8 1659.6,202.5 1660.7,199.8 1661.8,196.4 1662.8,192.1 1663.9,187.4 1665.0,182.7 1666.0,178.4 1667.2,173.2 1668.4,168.2 1669.6,165.9 1670.7,166.6 1671.8,168.2 1672.8,170.5 1673.9,172.8 1675.0,174.8 1676.1,176.8 1677.3,178.9 1678.4,180.7 1679.6,182.0 1680.8,182.6 1682.0,183.0 1683.2,183.7 1684.0,187.2 1684.8,193.7 1685.7,199.8 1686.9,206.0 1688.1,211.7 1689.2,217.6 1690.1,222.4 1691.0,227.6 1692.2,236.9 1693.4,247.5 1694.6,256.9 1695.8,264.5 1697.0,271.4 1698.2,277.8 1699.3,284.0 1700.5,290.0 1701.7,296.1 1702.9,302.4 1704.1,308.8 1705.3,315.1 1706.5,321.1 1707.7,326.8 1708.9,331.8 1709.9,336.4 1711.0,341.1 1712.1,345.4 1713.1,348.5 1714.2,349.6 1715.3,348.8 1716.4,346.4 1717.4,343.1 1718.5,339.3 1719.6,335.4 1720.6,330.8 1721.7,325.1 1722.8,318.9 1723.8,312.6 1724.9,306.8 1726.0,301.6 1727.1,296.4 1728.1,291.4 1729.2,286.6 1730.3,281.9 1731.5,276.9 1732.6,272.3 1733.8,267.7 1735.0,263.2 1736.2,258.4 1737.4,253.3 1738.5,248.1 1739.5,242.5 1740.6,237.0 1741.7,231.9 1742.8,227.6 1743.9,225.1 1745.1,223.2 1746.3,221.2 1747.4,218.8 1748.5,216.0 1749.5,213.3 1750.6,211.3 1751.7,210.5 1752.7,210.5 1753.8,210.5 1754.9,210.5 1756.0,210.5 1757.0,210.5 1758.2,211.7 1759.4,214.6 1760.6,217.6 1761.8,220.6 1763.0,223.9 1764.2,227.6 1765.4,232.3 1766.5,237.6 1767.7,242.6 1768.8,246.4 1769.9,250.0 1770.9,253.5 1772.0,256.9 1773.1,260.4 1774.3,264.6 1775.5,268.8 1776.7,273.1 1777.8,277.3 1779.0,281.5 1780.2,285.4 1781.3,288.9 1782.4,292.4 1783.4,295.8 1784.5,298.8 1785.6,301.5 1786.8,304.3 1787.9,306.8 1789.1,307.9 1790.3,307.2 1791.5,305.5 1792.7,303.3 1793.8,300.5 1794.8,296.6 1795.9,291.9 1797.0,286.9 1798.1,281.9 1799.1,276.7 1800.2,271.2 1801.3,265.4 1802.3,259.4 1803.4,253.3 1804.6,246.0 1805.8,238.4 1807.0,231.9 1808.0,227.6 1809.1,225.9 1810.2,224.8 1811.3,223.9 1812.3,223.0 1813.4,221.9 1814.5,220.7 1815.5,219.5 1816.6,218.6 1817.7,217.9 1818.8,217.6 1819.9,218.2 1821.1,219.5 1822.3,221.2 1823.2,222.8 1824.0,225.1 1824.8,227.6 1826.0,232.2 1827.2,237.6 1828.4,242.6 1829.5,246.5 1830.5,250.1 1831.6,253.5 1832.7,257.0 1833.7,260.4 1834.8,264.6 1835.9,269.3 1836.9,273.7 1838.0,277.0 1839.1,278.3 1840.3,278.2 1841.5,278.0 1842.7,277.7 1843.8,277.3 1845.0,276.9 1846.2,276.5 1847.4,276.2 1848.6,275.8 1849.8,275.4 1851.0,275.0 1852.2,274.5 1853.4,274.0 1854.4,273.3 1855.5,272.4 1856.6,271.5 1857.6,270.7 1858.7,270.4 1859.8,270.9 1860.9,271.9 1861.9,273.2 1863.0,274.3 1864.1,274.7 1865.1,274.6 1866.2,274.5 1867.3,274.3 1868.3,274.1 1869.4,274.0 1870.5,275.3 1871.6,278.4 1872.6,282.3 1873.7,286.2 1874.8,289.0 1875.8,290.8 1876.9,292.5 1878.0,294.0 1879.0,295.2 1880.1,296.1 1881.3,296.9 1882.5,297.6 1883.7,298.2 1884.9,298.7 1886.1,299.2 1887.3,299.7 1888.4,300.3 1889.6,300.9 1890.8,301.5 1892.0,302.0 1893.2,302.4 1894.4,302.5 1895.6,302.4 1896.8,302.2 1898.0,301.8 1899.1,301.4 1900.3,301.1 1901.5,300.8 1902.7,300.6 1903.9,300.4 1905.1,300.3 1906.3,300.1 1907.5,299.9 1908.7,299.7 1909.7,299.3 1910.8,298.6 1911.9,298.0 1912.9,297.4 1914.0,297.2 1915.2,298.3 1916.4,300.7 1917.6,303.3 1918.6,305.7 1919.7,308.6 1920.8,311.5 1921.9,314.1 1922.9,315.7 1924.0,316.9 1925.1,317.9 1926.1,318.7 1927.2,319.4 1928.3,319.9 1929.4,320.0 1930.4,319.5 1931.5,318.0 1932.6,316.1 1933.6,314.0 1934.7,311.3 1935.8,307.8 1936.8,303.8 1937.9,299.8 1939.0,296.1 1940.2,292.4 1941.4,288.7 1942.6,285.0 1943.7,281.5 1944.9,278.0 1946.1,274.7 1947.3,271.6 1948.5,268.7 1949.7,265.8 1950.9,263.0 1952.1,260.0 1953.3,256.9 1954.4,254.3 1955.6,251.9 1956.7,248.5 1957.9,242.6 1958.6,227.6 1959.8,228.3" fill="#8b8b8b" clip-path="url(#clipbar)"/>
<rect x="58.5" y="321.5" width="337.5" height="37.0" fill="none" stroke="#3c3c3c" stroke-width="1"/>
<rect x="396.0" y="321.5" width="122.5" height="37.0" fill="#b3c0f0" stroke="#3c3c3c" stroke-width="1"/>
<polygon points="518.5,321.5 649.5,321.5 649.5,470.5 1163.0,470.5 1163.0,508.5 641.5,508.5 641.5,358.5 518.5,358.5" fill="#b9f0f0" stroke="#3c3c3c" stroke-width="1"/>
<rect x="1163.0" y="470.5" width="122.59999999999991" height="38.0" fill="#b9d1c3" stroke="#3c3c3c" stroke-width="1"/>
<rect x="1285.6" y="470.5" width="214.9000000000001" height="38.0" fill="#e0f0b8" stroke="#3c3c3c" stroke-width="1"/>
<rect x="1500.5" y="470.5" width="337.0" height="38.0" fill="#f2e0b0" stroke="#3c3c3c" stroke-width="1"/>
<rect x="1837.5" y="470.5" width="123.29999999999995" height="38.0" fill="#f2b3b3" stroke="#3c3c3c" stroke-width="1"/>
<line x1="58.5" y1="228.3" x2="1960.8" y2="228.3" stroke="#3c3c3c" stroke-width="1.2"/>
<polyline points="58.5,358.5 58.5,32.5 1960.8,32.5 1960.8,508.5" fill="none" stroke="#3c3c3c" stroke-width="1.5"/>
<line x1="58.5" y1="41.70000000000002" x2="78.0" y2="41.70000000000002" stroke="#3c3c3c" stroke-width="1.2"/>
<line x1="58.5" y1="135.0" x2="78.0" y2="135.0" stroke="#3c3c3c" stroke-width="1.2"/>
<line x1="219.0" y1="32.5" x2="219.0" y2="52.0" stroke="#3c3c3c" stroke-width="1.2"/>
<text x="219.0" y="19.8" font-size="21" text-anchor="middle">1960</text>
<line x1="525.8" y1="32.5" x2="525.8" y2="52.0" stroke="#3c3c3c" stroke-width="1.2"/>
<text x="525.8" y="19.8" font-size="21" text-anchor="middle">1970</text>
<line x1="832.6" y1="32.5" x2="832.6" y2="52.0" stroke="#3c3c3c" stroke-width="1.2"/>
<text x="832.6" y="19.8" font-size="21" text-anchor="middle">1980</text>
<line x1="1139.4" y1="32.5" x2="1139.4" y2="52.0" stroke="#3c3c3c" stroke-width="1.2"/>
<text x="1139.4" y="19.8" font-size="21" text-anchor="middle">1990</text>
<line x1="1446.2" y1="32.5" x2="1446.2" y2="52.0" stroke="#3c3c3c" stroke-width="1.2"/>
<text x="1446.2" y="19.8" font-size="21" text-anchor="middle">2000</text>
<line x1="1753.0" y1="32.5" x2="1753.0" y2="52.0" stroke="#3c3c3c" stroke-width="1.2"/>
<text x="1753.0" y="19.8" font-size="21" text-anchor="middle">2010</text>
<text x="50" y="48.90000000000002" font-size="21" text-anchor="end">2</text>
<text x="50" y="142.2" font-size="21" text-anchor="end">1</text>
<text x="50" y="235.5" font-size="21" text-anchor="end">0</text>
<text x="50" y="328.8" font-size="21" text-anchor="end">-1</text>
<text transform="translate(19.6,191.5) rotate(-90)" font-size="21" text-anchor="middle" textLength="306" lengthAdjust="spacingAndGlyphs">Standardized Indices (SRI, SPEI)</text>
<polyline points="58.2,139.9 59.4,142.5 60.6,145.0 61.8,147.6 63.0,150.3 64.2,153.4 65.6,157.8 67.1,162.9 68.5,168.2 69.9,173.6 71.4,178.4 72.8,183.0 74.3,187.4 75.8,191.6 77.3,195.7 78.8,199.6 80.3,203.4 81.7,207.2 83.1,211.2 84.6,214.9 86.0,217.8 87.4,219.4 88.9,220.1 90.4,220.6 91.9,221.0 93.4,221.3 94.8,221.6 96.3,221.9 97.7,222.2 99.0,222.5 100.3,222.8 101.7,223.0 103.0,223.3 104.4,223.5 105.7,223.8 107.0,224.1 108.4,224.3 109.7,224.6 111.0,224.8 112.4,225.1 113.7,225.3 115.1,225.7 116.4,226.1 117.7,226.6 119.0,227.5 120.3,229.1 121.6,230.7 122.9,232.1 124.2,232.6 125.4,232.0 126.7,230.5 127.9,228.6 129.2,226.6 130.3,223.9 131.5,220.9 132.7,219.4 134.0,219.5 135.3,219.6 136.6,219.7 137.9,219.9 139.1,220.1 140.6,220.7 142.1,221.9 143.6,223.4 145.1,225.1 146.6,226.8 148.1,228.3 149.5,229.7 151.0,231.1 152.5,232.4 154.0,233.9 155.5,235.5 157.0,237.3 158.5,239.4 160.0,242.0 161.4,244.8 162.9,247.7 164.4,250.6 165.9,253.3 167.2,255.6 168.6,257.8 169.9,260.0 171.3,262.1 172.6,264.3 173.9,266.5 175.3,268.8 176.6,271.2 178.1,274.0 179.6,277.0 181.1,280.1 182.6,283.2 184.0,286.2 185.5,289.0 187.0,291.6 188.5,294.2 190.0,296.7 191.5,299.1 193.0,301.3 194.4,303.3 195.8,304.9 197.1,306.6 198.5,308.1 199.8,309.6 201.1,311.0 202.5,312.2 203.8,313.2 205.1,314.0 206.6,314.7 208.1,315.3 209.6,315.9 211.1,316.4 212.6,316.7 214.1,316.8 215.5,316.8 216.9,316.8 218.3,316.8 219.8,316.8 221.2,316.8 222.6,316.8 224.1,316.8 225.5,316.8 226.9,316.8 228.3,316.8 229.8,316.8 231.2,316.8 232.6,316.8 234.0,316.8 235.5,316.8 236.9,316.8 238.3,316.8 239.8,316.8 241.2,316.8 242.6,316.8 244.0,316.7 245.5,316.2 246.9,315.6 248.3,314.8 249.7,314.0 251.2,312.9 252.7,311.6 254.2,310.0 255.7,308.1 257.2,305.8 258.7,303.3 260.1,299.8 261.5,295.1 262.9,289.5 264.4,283.7 265.8,278.3 267.1,272.7 268.5,266.5 269.8,261.3 271.2,258.7 272.5,257.9 273.8,257.3 275.2,256.8 276.5,256.4 277.8,256.1 279.2,255.8 280.5,255.5 281.9,255.1 283.2,254.7 284.5,254.2 285.9,253.8 287.2,253.4 288.5,252.9 289.9,252.5 291.2,252.0 292.6,251.5 294.0,251.0 295.5,250.6 297.0,250.2 298.5,249.7 300.0,248.9 301.5,248.0 302.8,245.4 304.2,240.5 305.5,234.5 306.8,228.3 308.2,221.9 309.5,214.6 310.8,207.0 312.2,199.8 313.4,192.8 314.6,186.0 315.7,182.0 317.1,180.2 318.4,178.8 319.8,178.0 321.1,177.7 322.4,178.2 323.8,179.3 325.1,180.7 326.5,182.0 327.8,183.0 329.1,184.1 330.5,185.0 331.8,185.5 333.1,185.8 334.5,186.1 335.8,186.3 337.2,186.4 338.5,186.6 339.8,186.7 341.2,186.8 342.5,187.0 343.9,187.1 345.4,187.2 346.8,187.3 348.2,187.4 349.6,187.5 351.1,187.6 352.5,187.7 353.9,187.8 355.4,187.9 356.8,188.0 358.3,188.1 359.8,188.2 361.2,188.3 362.7,188.4 364.2,188.5 365.7,188.6 367.2,188.6 368.7,188.7 370.2,188.8 371.6,188.9 373.1,189.0 374.6,189.1 376.0,189.2 377.5,189.3 378.9,189.4 380.3,189.5 381.8,189.6 383.2,189.7 384.6,189.8 386.0,190.0 387.5,190.1 388.9,190.2 390.3,190.3 391.7,190.5 393.2,190.6 394.6,190.7 396.0,190.9 397.5,191.0 398.9,191.2 400.3,191.4 401.7,191.5 403.2,191.7 404.6,191.9 406.0,192.1 407.4,192.3 408.9,192.5 410.3,192.7 411.7,192.8 413.0,192.9 414.4,193.1 415.7,193.2 417.1,193.3 418.4,193.4 419.8,193.6 421.1,193.8 422.5,194.1 423.9,194.4 425.3,196.3 426.7,199.9 428.1,203.4 429.5,206.3 430.8,209.5 432.1,212.0 433.5,213.0 434.7,212.6 435.9,211.6 437.1,210.5 438.5,208.9 439.9,207.0 441.3,204.9 442.8,203.0 444.2,201.6 445.5,200.7 446.9,200.1 448.2,199.5 449.5,199.0 450.9,198.5 452.2,197.9 453.6,197.2 454.9,196.2 456.3,194.6 457.7,192.2 459.2,189.1 460.6,185.7 462.0,182.0 463.5,177.5 465.0,172.0 466.5,165.9 468.0,159.4 469.5,152.8 470.9,146.3 472.4,140.1 473.8,133.8 475.2,127.3 476.7,120.7 478.1,114.2 479.4,107.6 480.8,100.7 482.1,94.3 483.4,89.2 484.6,85.5 485.8,82.1 486.9,79.5 488.1,78.5 489.5,79.3 490.9,81.3 492.4,83.8 493.7,87.2 495.0,92.0 496.4,97.6 497.7,103.5 499.0,109.7 500.4,116.7 501.7,124.2 503.1,132.0 504.4,140.4 505.7,149.4 507.1,158.6 508.4,167.7 509.7,177.6 511.1,188.2 512.4,197.5 513.8,203.4 515.1,206.5 516.4,209.0 517.8,210.9 519.1,212.3 520.6,213.5 522.1,214.4 523.6,215.2 525.1,216.0 526.5,216.7 528.0,217.6 529.5,218.7 530.9,219.8 532.3,221.0 533.7,222.1 535.2,223.0 536.7,223.6 538.1,224.1 539.6,224.5 541.1,225.0 542.6,225.6 544.1,226.6 545.4,228.9 546.8,233.2 548.1,238.1 549.4,242.6 550.9,247.6 552.3,250.5 553.7,249.8 555.1,248.2 556.6,246.2 558.0,243.7 559.4,240.5 560.9,236.7 562.3,232.5 563.7,228.3 565.1,223.9 566.6,219.1 568.0,214.0 569.4,208.7 570.8,203.4 572.1,197.8 573.4,191.4 574.7,185.2 576.0,180.3 577.3,177.7 578.6,176.7 579.9,176.0 581.2,175.4 582.5,175.0 583.8,174.6 585.1,174.1 586.5,173.6 588.0,173.1 589.4,172.7 590.8,172.2 592.3,171.8 593.7,171.4 595.1,171.0 596.5,170.5 598.0,170.0 599.4,169.5 600.7,168.9 602.1,168.4 603.4,167.9 604.7,167.3 606.1,166.6 607.4,165.9 608.8,165.1 610.1,164.1 611.4,162.5 612.8,160.2 614.1,158.1 615.4,157.0 616.8,156.6 618.2,156.3 619.6,156.1 621.0,155.9 622.4,155.7 623.8,155.6 625.2,155.5 626.5,155.3 627.9,155.2 629.4,155.1 630.8,154.9 632.2,154.8 633.6,154.6 635.1,154.5 636.5,154.4 637.9,154.3 639.3,154.2 640.8,154.1 642.2,154.1 643.4,156.7 644.6,162.2 645.8,167.7 647.2,172.9 648.6,178.0 650.1,183.1 651.5,187.9 652.9,192.7 654.3,197.2 655.8,201.6 657.2,205.9 658.6,210.0 660.0,214.1 661.4,218.1 662.7,222.2 664.1,225.9 665.4,228.3 666.8,230.1 668.2,231.4 669.6,231.9 670.7,231.9 672.2,231.9 673.7,232.1 675.2,232.2 676.7,232.4 678.2,232.7 679.7,232.9 681.2,233.2 682.7,233.4 684.2,233.6 685.7,233.7 687.1,233.8 688.6,233.9 690.1,234.0 691.5,234.1 693.0,234.1 694.4,234.2 695.9,234.3 697.4,234.3 698.8,234.4 700.3,234.4 701.7,234.4 703.2,234.4 704.7,234.3 706.1,234.2 707.6,234.1 709.0,233.9 710.5,233.8 711.9,233.6 713.4,233.4 714.9,233.3 716.3,233.1 717.8,233.0 719.2,232.9 720.6,232.8 722.0,232.7 723.3,232.6 724.7,232.5 726.1,232.4 727.5,232.3 728.9,232.1 730.3,231.9 731.7,231.1 733.1,229.4 734.6,227.2 736.0,224.9 737.4,223.0 738.7,221.3 740.0,219.4 741.3,217.6 742.5,216.4 743.8,215.9 745.1,216.2 746.4,217.3 747.8,218.9 749.1,220.8 750.4,222.8 751.7,224.8 753.1,227.3 754.5,230.4 756.0,233.7 757.4,236.7 758.8,239.0 760.2,240.9 761.6,242.7 762.9,244.3 764.3,245.6 765.7,246.6 767.0,246.9 768.5,246.7 769.9,246.2 771.3,245.5 772.7,244.6 774.2,243.6 775.6,242.6 777.0,241.6 778.4,240.8 779.9,240.0 781.3,239.1 782.7,238.2 784.1,237.3 785.6,236.3 787.0,235.5 788.4,234.8 789.9,234.2 791.3,233.8 792.7,233.7 794.0,233.9 795.4,234.5 796.7,235.4 798.1,236.6 799.4,237.9 800.7,239.4 802.1,241.0 803.4,242.6 804.8,244.5 806.1,246.8 807.4,249.6 808.8,252.5 810.1,255.6 811.4,258.6 812.8,261.5 814.1,264.0 815.6,266.7 817.1,269.4 818.6,272.0 820.1,274.4 821.6,276.5 823.0,278.3 824.3,279.7 825.7,281.1 827.0,282.3 828.3,283.4 829.6,284.1 830.9,284.4 832.2,284.0 833.5,283.0 834.7,281.5 836.0,279.9 837.3,278.3 838.8,276.2 840.3,273.7 841.8,270.9 843.3,268.0 844.7,265.0 846.2,262.2 847.7,259.5 849.2,256.8 850.7,254.1 852.2,251.4 853.7,248.7 855.1,246.2 856.6,243.6 858.1,240.9 859.6,238.3 861.1,235.9 862.6,233.7 864.1,231.9 865.6,230.5 867.0,229.4 868.5,228.4 870.0,227.5 871.5,226.3 873.0,224.8 874.4,222.5 875.8,219.5 877.3,216.1 878.7,212.9 880.1,210.5 881.5,208.8 882.8,207.2 884.1,205.9 885.5,205.1 886.9,204.7 888.3,204.3 889.8,203.9 891.2,203.7 892.6,203.4 894.0,203.2 895.5,203.0 896.9,202.8 898.3,202.6 899.7,202.3 901.2,202.0 902.6,201.7 904.0,201.3 905.5,201.0 906.9,200.6 908.3,200.3 909.7,200.0 911.2,199.6 912.6,199.4 914.0,199.1 915.4,198.8 916.9,198.6 918.3,198.4 919.7,198.2 921.2,198.0 922.6,197.8 924.0,197.6 925.4,197.4 926.9,197.2 928.3,196.9 929.7,196.7 931.1,196.5 932.6,196.3 934.0,196.1 935.4,195.9 936.9,195.7 938.3,195.5 939.7,195.2 941.1,194.8 942.6,194.4 943.9,193.8 945.2,192.6 946.6,191.2 947.9,189.6 949.2,188.1 950.6,186.8 951.9,185.9 953.3,185.5 954.7,185.7 956.1,186.2 957.5,187.0 959.0,188.0 960.4,189.1 961.8,190.9 963.3,193.6 964.7,196.8 966.1,200.2 967.5,203.4 969.0,206.3 970.4,209.3 971.8,212.2 973.2,215.1 974.7,217.6 976.1,220.4 977.5,222.9 979.0,224.1 980.3,223.8 981.7,223.1 983.1,222.0 984.4,220.7 985.8,219.2 987.2,217.6 988.6,215.6 990.1,212.9 991.6,209.7 993.1,206.3 994.6,203.0 996.1,199.8 997.5,196.8 998.9,193.7 1000.4,190.6 1001.8,187.9 1003.2,185.5 1004.5,183.6 1005.8,181.7 1007.1,180.0 1008.3,178.8 1009.6,178.4 1010.9,178.6 1012.2,179.3 1013.6,180.2 1014.9,181.3 1016.2,182.6 1017.5,183.7 1019.0,185.1 1020.5,186.5 1021.9,188.1 1023.4,189.9 1024.9,192.0 1026.4,194.4 1027.8,197.9 1029.3,202.6 1030.7,207.9 1032.1,213.2 1033.5,217.6 1034.9,221.6 1036.2,225.7 1037.6,228.8 1038.9,230.1 1040.1,229.3 1041.3,227.3 1042.5,224.8 1043.9,220.8 1045.3,215.3 1046.7,209.0 1048.2,202.4 1049.6,196.2 1051.0,190.6 1052.4,185.1 1053.9,179.6 1055.3,173.8 1056.7,167.7 1058.2,161.1 1059.6,154.0 1061.0,146.7 1062.4,139.3 1063.9,132.0 1065.3,124.0 1066.7,116.0 1068.1,110.6 1069.3,108.0 1070.5,106.0 1071.7,105.2 1072.9,106.0 1074.0,108.1 1075.2,111.0 1076.4,114.2 1077.7,119.4 1079.0,126.7 1080.4,134.9 1081.7,142.7 1083.0,149.7 1084.4,156.6 1085.7,163.7 1087.1,171.3 1088.4,179.5 1089.7,188.2 1091.1,197.3 1092.4,206.9 1093.6,217.0 1094.8,227.7 1096.0,235.5 1097.2,240.2 1098.4,243.9 1099.5,246.2 1100.9,247.7 1102.2,248.8 1103.6,249.8 1104.9,250.6 1106.2,251.3 1107.6,252.0 1108.9,252.6 1110.2,253.3 1111.6,254.0 1112.9,254.7 1114.3,255.3 1115.6,255.8 1116.9,256.4 1118.3,257.1 1119.6,257.8 1120.9,258.7 1122.3,259.6 1123.6,260.8 1125.0,262.2 1126.3,264.0 1127.6,267.2 1129.0,272.0 1130.3,277.3 1131.7,281.9 1133.1,286.0 1134.5,289.9 1135.9,293.7 1137.4,297.0 1138.8,299.7 1140.2,302.0 1141.6,304.0 1143.1,305.8 1144.5,307.4 1145.9,308.6 1147.4,309.7 1148.9,310.8 1150.4,311.8 1151.9,312.5 1153.4,313.1 1154.8,313.3 1156.3,313.0 1157.8,312.4 1159.3,311.5 1160.8,310.2 1162.3,308.6 1163.8,306.8 1165.1,303.6 1166.4,298.2 1167.8,291.8 1169.1,285.4 1170.5,278.8 1172.0,271.7 1173.4,264.3 1174.8,256.9 1176.2,249.7 1177.7,242.5 1179.2,235.2 1180.7,228.0 1182.2,220.9 1183.7,213.9 1185.2,206.9 1186.6,200.2 1188.0,193.3 1189.4,186.6 1190.9,180.3 1192.3,174.8 1193.5,170.4 1194.7,166.5 1195.9,164.1 1197.3,163.0 1198.7,162.2 1200.2,161.7 1201.6,161.2 1203.0,160.6 1204.4,159.9 1205.9,159.4 1207.3,158.8 1208.7,158.0 1210.1,157.0 1211.6,154.6 1213.0,150.4 1214.4,145.3 1215.9,140.1 1217.3,135.6 1218.7,131.4 1220.1,127.0 1221.6,122.9 1223.0,119.6 1224.4,117.7 1225.8,116.8 1227.1,116.1 1228.4,115.4 1229.8,114.8 1231.1,114.4 1232.4,114.0 1233.8,113.7 1235.1,113.5 1236.5,113.3 1237.8,113.1 1239.1,113.1 1240.5,113.0 1241.8,112.9 1243.1,112.8 1244.5,112.6 1245.8,112.4 1247.2,111.6 1248.7,110.0 1250.1,108.0 1251.5,105.7 1253.0,103.5 1254.4,101.1 1255.8,98.4 1257.2,95.6 1258.7,93.0 1260.1,91.0 1261.5,89.3 1262.9,87.7 1264.4,86.3 1265.8,85.3 1267.2,84.9 1268.7,85.5 1270.1,87.1 1271.5,89.4 1272.9,92.0 1274.4,94.5 1275.8,97.2 1277.2,100.2 1278.6,103.5 1280.1,107.0 1281.5,110.6 1282.9,114.5 1284.4,118.8 1285.8,123.3 1287.2,127.7 1288.6,132.0 1289.9,135.8 1291.2,139.6 1292.5,143.4 1293.7,146.8 1295.0,149.8 1296.3,152.6 1297.7,155.0 1299.0,157.3 1300.4,159.4 1301.7,161.4 1303.0,163.5 1304.4,165.5 1305.7,167.7 1307.0,170.0 1308.4,172.4 1309.7,174.9 1311.1,177.4 1312.4,179.7 1313.7,181.9 1315.1,183.9 1316.4,185.5 1317.8,187.0 1319.2,188.4 1320.6,189.7 1322.0,190.9 1323.3,192.0 1324.7,193.0 1326.1,193.9 1327.5,194.8 1328.9,195.5 1330.3,196.3 1331.7,197.0 1333.2,197.8 1334.6,198.5 1336.0,199.1 1337.5,199.7 1338.9,200.2 1340.3,200.5 1341.7,200.8 1343.2,200.9 1344.7,200.4 1346.1,199.3 1347.6,197.6 1349.1,195.8 1350.6,194.1 1352.1,192.7 1353.4,191.6 1354.8,190.4 1356.1,189.2 1357.4,188.1 1358.8,187.1 1360.1,186.3 1361.5,185.7 1362.8,185.5 1364.2,185.6 1365.6,185.7 1367.1,185.8 1368.5,186.0 1369.9,186.4 1371.4,186.7 1372.8,187.2 1374.2,187.7 1375.6,188.4 1377.1,189.1 1378.4,191.4 1379.7,195.9 1381.1,201.5 1382.4,206.9 1383.7,212.6 1385.1,219.1 1386.4,224.8 1387.8,228.3 1389.0,229.7 1390.2,230.6 1391.4,231.9 1392.9,234.8 1394.4,239.0 1395.9,243.6 1397.4,247.7 1398.9,251.2 1400.3,254.4 1401.8,257.8 1403.3,261.6 1404.6,265.8 1406.0,270.7 1407.3,275.5 1408.6,280.2 1409.9,284.9 1411.2,289.4 1412.7,294.0 1414.2,298.5 1415.7,302.8 1417.2,307.2 1418.7,311.6 1420.2,316.1 1421.6,320.6 1423.1,325.0 1424.6,329.4 1426.1,333.7 1427.6,338.2 1429.1,342.9 1430.3,347.2 1431.6,351.9 1432.8,356.5 1434.0,360.7 1435.3,364.6 1436.5,368.4 1437.7,371.8 1439.0,374.6 1440.5,377.0 1442.0,379.0 1443.4,380.8 1444.9,382.5 1446.4,384.2 1447.9,386.0 1449.4,387.5 1450.9,388.4 1452.1,388.9 1453.3,389.4 1454.6,389.7 1455.8,389.8 1457.3,387.3 1458.8,382.5 1460.3,376.5 1461.8,370.6 1463.1,366.8 1464.4,363.6 1465.7,361.7 1467.1,360.7 1468.5,359.9 1469.9,359.3 1471.3,358.8 1472.7,358.3 1474.0,357.8 1475.3,357.4 1476.6,356.9 1478.0,356.5 1479.3,356.1 1480.6,355.7 1482.0,355.3 1483.4,354.9 1484.8,354.5 1486.3,354.1 1487.7,353.7 1489.1,353.2 1490.5,352.8 1491.8,352.4 1493.0,352.1 1494.3,351.7 1495.5,351.3 1496.8,350.7 1498.0,349.8 1499.2,346.5 1500.4,340.9 1501.4,334.3 1502.4,327.0 1503.9,318.0 1505.4,309.2 1506.8,299.4 1508.3,289.4 1509.8,279.2 1511.3,269.5 1512.8,261.1 1514.3,253.7 1515.6,248.3 1516.9,243.5 1518.2,237.8 1519.0,233.0 1519.8,228.3 1521.2,222.2 1522.6,217.0 1524.1,212.4 1525.5,208.0 1526.9,203.4 1528.2,198.3 1529.6,192.9 1530.9,188.3 1532.3,185.5 1533.6,184.2 1535.0,183.0 1536.4,182.1 1537.8,181.3 1539.2,180.6 1540.6,180.0 1542.0,179.5 1543.4,178.9 1544.7,178.4 1546.2,177.8 1547.6,177.1 1549.0,176.5 1550.5,175.9 1551.9,175.3 1553.3,174.8 1554.7,174.4 1556.2,174.0 1557.6,173.8 1559.0,173.8 1560.5,174.1 1562.0,175.1 1563.5,176.6 1565.0,178.4 1566.4,180.2 1567.9,182.0 1569.4,183.8 1570.9,185.9 1572.4,188.1 1573.9,190.4 1575.4,192.5 1576.9,194.4 1578.2,196.0 1579.6,197.6 1581.0,199.0 1582.4,200.5 1583.8,201.8 1585.2,203.1 1586.6,204.4 1588.0,205.7 1589.3,206.9 1590.8,208.2 1592.3,209.5 1593.8,210.8 1595.3,212.0 1596.8,213.1 1598.3,214.1 1599.6,214.8 1600.9,215.5 1602.3,216.1 1603.6,216.7 1605.0,217.3 1606.3,217.9 1607.6,218.6 1609.0,219.4 1610.5,220.6 1611.9,222.1 1613.4,223.8 1614.9,225.5 1616.4,227.0 1617.9,228.3 1619.2,229.4 1620.6,230.5 1621.9,231.6 1623.2,232.6 1624.6,233.4 1625.9,234.1 1627.3,234.6 1628.6,234.8 1630.1,234.4 1631.6,233.6 1633.0,232.4 1634.5,231.0 1636.0,229.6 1637.5,228.3 1638.8,227.3 1640.2,226.1 1641.5,225.0 1642.9,223.8 1644.2,222.6 1645.5,221.5 1646.9,220.4 1648.2,219.4 1649.7,218.3 1651.2,217.1 1652.7,216.0 1654.2,215.0 1655.6,214.3 1657.1,214.1 1658.5,215.5 1659.8,219.1 1661.1,223.7 1662.5,228.3 1663.8,233.5 1665.2,239.6 1666.5,245.4 1667.8,249.7 1669.3,252.9 1670.8,255.5 1672.3,257.7 1673.8,259.7 1675.3,261.8 1676.8,264.0 1678.1,266.2 1679.4,268.3 1680.8,270.5 1682.1,272.7 1683.4,274.9 1684.8,277.1 1686.1,279.5 1687.5,281.9 1688.8,284.3 1690.1,286.9 1691.5,289.5 1692.8,292.1 1694.1,294.8 1695.5,297.6 1696.8,300.4 1698.2,303.3 1699.5,306.2 1700.8,309.3 1702.2,312.5 1703.5,315.8 1704.8,319.0 1706.2,322.2 1707.5,325.3 1708.9,328.2 1710.3,331.7 1711.7,335.5 1713.1,339.0 1714.6,341.5 1716.0,342.5 1717.4,341.7 1718.9,339.7 1720.3,337.0 1721.7,334.2 1723.1,331.8 1724.6,329.8 1726.0,327.8 1727.4,325.9 1728.8,324.2 1730.3,322.9 1731.7,321.9 1733.1,320.9 1734.6,320.1 1736.0,319.3 1737.4,318.6 1738.8,317.9 1740.3,317.3 1741.7,316.8 1743.1,316.2 1744.5,315.7 1746.0,315.3 1747.4,315.0 1748.8,314.7 1750.2,314.4 1751.7,314.1 1753.1,313.9 1754.5,313.5 1756.0,313.2 1757.4,312.7 1758.8,312.2 1760.2,311.4 1761.5,310.3 1762.8,308.9 1764.2,307.2 1765.5,305.4 1766.8,303.5 1768.2,301.6 1769.5,299.7 1770.9,297.7 1772.2,295.5 1773.5,293.1 1774.9,290.6 1776.2,288.2 1777.5,285.9 1778.9,283.7 1780.2,281.9 1781.6,280.1 1783.1,278.5 1784.5,277.1 1785.9,275.7 1787.4,274.3 1788.8,273.0 1790.2,271.7 1791.6,270.4 1793.1,269.0 1794.5,267.6 1795.9,266.0 1797.3,264.1 1798.7,262.1 1800.0,260.1 1801.4,258.3 1802.8,256.6 1804.2,255.2 1805.6,254.3 1807.0,254.0 1808.5,254.3 1810.0,255.1 1811.4,256.2 1812.9,257.6 1814.4,259.0 1815.9,260.4 1817.2,261.8 1818.6,263.5 1819.9,265.3 1821.2,267.3 1822.6,269.3 1823.9,271.2 1825.3,273.1 1826.6,274.7 1827.9,276.2 1829.3,277.7 1830.6,279.1 1832.0,280.4 1833.3,281.8 1834.6,283.0 1836.0,284.2 1837.3,285.4 1838.7,286.6 1840.2,287.8 1841.6,289.0 1843.0,290.1 1844.4,291.2 1845.9,292.3 1847.3,293.3 1848.7,294.3 1850.1,295.2 1851.6,296.1 1853.0,296.9 1854.4,297.7 1855.9,298.4 1857.3,299.1 1858.7,299.8 1860.1,300.4 1861.6,301.1 1863.0,301.8 1864.4,302.5 1865.8,303.3 1867.3,304.1 1868.7,305.0 1870.1,306.0 1871.6,306.9 1873.0,307.9 1874.4,308.9 1875.8,309.8 1877.3,310.7 1878.7,311.5 1880.1,312.2 1881.6,312.9 1883.1,313.6 1884.6,314.2 1886.1,314.9 1887.6,315.6 1889.0,316.2 1890.5,316.8 1892.0,317.3 1893.5,317.7 1895.0,318.0 1896.5,318.2 1898.0,318.2 1899.4,318.1 1900.8,317.8 1902.2,317.3 1903.7,316.7 1905.1,316.0 1906.5,315.3 1907.9,314.5 1909.4,313.7 1910.8,312.9 1912.2,312.2 1913.7,311.5 1915.1,310.9 1916.5,310.2 1917.9,309.6 1919.4,308.9 1920.8,308.2 1922.2,307.5 1923.6,306.7 1925.1,305.9 1926.5,305.0 1927.9,304.1 1929.4,303.0 1930.8,301.9 1932.2,300.6 1933.6,299.3 1935.1,298.0 1936.5,296.6 1937.9,295.3 1939.3,293.9 1940.8,292.6 1942.1,291.3 1943.4,290.1 1944.8,288.8 1946.1,287.6 1947.5,286.3 1948.8,284.9 1950.1,283.4 1951.5,281.9 1952.9,280.0 1954.3,277.9 1955.8,275.6 1957.2,273.4 1958.6,271.2" fill="none" stroke="#ff4500" stroke-width="3.2" stroke-dasharray="3.1 2.4" stroke-linejoin="round"/>
<polyline points="58.2,174.1 59.6,179.1 61.0,184.1 62.4,189.1 63.9,194.3 65.3,199.7 66.7,205.1 68.1,209.9 69.6,214.1 71.0,217.3 72.4,220.1 73.9,222.6 75.3,225.2 76.7,228.3 78.1,232.2 79.6,236.8 81.0,241.6 82.4,246.0 83.8,249.7 85.2,252.9 86.5,256.0 87.9,258.4 89.2,259.4 90.6,258.6 92.0,256.9 93.3,253.5 94.5,247.9 95.8,241.3 97.0,235.5 98.2,230.7 99.4,226.0 100.5,221.5 101.7,217.6 103.1,213.5 104.5,209.8 106.0,206.4 107.4,203.1 108.8,199.8 110.2,196.3 111.7,192.6 113.1,189.1 114.5,186.1 116.0,183.7 117.2,182.0 118.5,180.4 119.8,179.0 121.1,178.0 122.4,177.7 123.8,178.7 125.2,181.1 126.7,183.7 128.1,186.5 129.5,189.7 130.9,193.1 132.4,196.6 133.8,199.8 135.3,202.8 136.8,205.7 138.3,208.5 139.7,211.4 141.2,214.4 142.7,217.6 144.0,221.0 145.4,224.8 146.7,228.5 148.1,231.9 149.4,234.9 150.7,237.7 152.1,240.3 153.4,242.6 154.8,244.7 156.3,246.5 157.7,248.1 159.1,249.8 160.6,251.5 161.9,253.3 163.2,255.1 164.6,256.9 165.9,258.7 167.2,260.5 168.6,262.3 169.9,264.1 171.3,265.8 172.7,267.6 174.2,269.2 175.7,270.9 177.2,272.6 178.7,274.4 180.2,276.5 181.6,279.0 183.0,281.9 184.5,285.1 185.9,288.1 187.3,290.8 188.8,293.1 190.3,295.4 191.8,297.4 193.3,299.4 194.7,301.4 196.2,303.3 197.6,305.0 198.9,306.7 200.2,308.5 201.6,310.2 202.9,311.8 204.3,313.3 205.6,314.6 206.9,315.7 208.4,316.9 209.8,318.1 211.2,319.1 212.6,319.8 214.1,320.0 215.4,320.0 216.7,320.0 218.1,320.0 219.4,320.0 220.9,319.8 222.4,319.2 223.9,318.3 225.4,317.4 226.9,316.5 228.3,315.7 229.8,315.3 231.2,314.8 232.6,314.5 234.0,314.2 235.5,313.8 236.9,313.5 238.3,313.1 239.8,312.7 241.2,312.1 242.6,311.5 243.9,310.6 245.3,309.2 246.6,307.6 248.0,305.8 249.3,303.8 250.6,301.7 252.0,299.8 253.3,297.9 254.7,296.2 256.0,294.5 257.3,292.8 258.7,291.0 260.0,289.3 261.3,287.4 262.7,285.6 264.0,283.6 265.4,281.6 266.7,279.4 268.0,277.1 269.4,274.7 270.7,272.4 272.0,270.1 273.4,267.9 274.7,265.8 276.1,263.9 277.4,262.1 278.7,260.4 280.1,258.7 281.4,257.0 282.7,255.2 284.1,253.4 285.4,251.5 286.8,249.5 288.1,247.3 289.4,245.0 290.8,242.7 292.1,240.4 293.5,238.1 294.8,235.9 296.1,233.7 297.5,231.5 298.8,229.4 300.1,227.2 301.5,225.0 302.8,223.0 304.2,221.0 305.5,219.2 306.8,217.6 308.3,216.1 309.7,214.8 311.1,213.5 312.5,212.3 314.0,211.2 315.5,210.1 316.9,209.1 318.4,208.1 319.9,207.1 321.4,206.1 322.9,205.1 324.3,204.1 325.7,203.0 327.2,201.9 328.6,201.0 330.0,200.5 331.4,200.3 332.7,200.2 334.0,200.0 335.4,199.8 336.8,199.3 338.2,198.4 339.7,197.3 341.1,196.3 342.5,195.5 343.8,194.9 345.2,194.4 346.5,193.8 347.9,193.3 349.2,192.9 350.5,192.5 351.9,192.2 353.2,191.9 354.6,191.8 356.0,191.6 357.4,191.4 358.8,191.3 360.1,191.1 361.5,191.0 362.9,190.9 364.3,190.9 365.7,190.9 366.9,191.8 368.1,193.9 369.3,196.2 370.8,199.2 372.2,202.7 373.7,206.5 375.2,210.4 376.7,214.2 378.2,217.6 379.7,220.9 381.2,224.0 382.6,227.1 384.1,230.0 385.6,232.8 387.1,235.5 388.5,237.8 390.0,240.0 391.4,242.1 392.8,244.1 394.2,246.2 395.4,248.1 396.6,250.2 397.7,251.9 398.9,252.6 400.3,252.1 401.7,251.0 403.2,249.7 404.5,248.5 405.8,246.9 407.2,245.2 408.5,243.3 409.8,241.3 411.2,239.3 412.5,237.3 413.9,235.5 415.2,233.7 416.5,232.0 417.9,230.2 419.2,228.5 420.6,226.8 421.9,225.0 423.2,223.1 424.6,221.2 426.1,218.9 427.5,216.3 429.0,213.7 430.5,211.2 432.0,208.9 433.5,206.9 434.9,205.4 436.3,204.1 437.6,202.9 439.0,201.8 440.4,200.7 441.8,199.7 443.2,198.6 444.6,197.5 446.0,196.2 447.5,194.9 448.9,193.6 450.4,192.3 451.9,190.9 453.4,189.2 454.9,187.3 456.3,184.9 457.7,181.9 459.2,178.5 460.6,174.9 462.0,171.3 463.5,167.5 465.0,163.5 466.5,159.3 468.0,155.1 469.5,150.7 470.9,146.3 472.4,141.7 473.9,137.0 475.4,132.1 476.9,127.2 478.4,122.4 479.9,117.7 481.2,113.4 482.5,109.1 483.9,105.0 485.2,101.7 486.6,98.5 488.1,95.7 489.5,94.5 490.7,95.1 491.8,96.4 493.0,98.1 494.1,99.9 495.6,102.3 497.1,105.2 498.6,108.3 500.1,111.5 501.6,114.8 503.1,117.7 504.5,120.4 506.0,123.0 507.5,125.4 509.0,128.0 510.5,130.7 512.0,133.8 513.3,136.8 514.7,140.2 516.0,143.9 517.3,148.1 518.7,153.0 520.0,158.7 521.3,164.9 522.7,171.3 524.0,178.2 525.4,185.6 526.7,193.1 528.0,199.8 529.5,206.1 530.9,211.8 532.3,217.3 533.7,222.8 535.2,228.3 536.6,234.2 538.0,240.1 539.4,246.0 540.9,251.7 542.3,256.9 543.6,261.4 544.9,266.0 546.2,270.2 547.4,273.8 548.7,276.5 549.9,278.5 551.1,280.1 552.3,280.8 553.5,279.8 554.7,277.4 555.9,274.7 557.1,271.8 558.3,268.5 559.5,264.7 560.7,260.8 561.9,256.9 563.4,252.2 564.8,247.4 566.2,242.3 567.6,237.2 569.1,231.9 570.5,226.2 571.9,220.1 573.3,214.0 574.8,208.3 576.2,203.4 577.6,198.9 579.1,194.6 580.5,190.7 581.9,187.6 583.3,185.5 584.8,184.2 586.3,183.2 587.8,182.4 589.3,181.6 590.8,180.9 592.3,180.2 593.7,179.4 595.1,178.7 596.5,178.0 598.0,177.3 599.4,176.7 600.8,176.0 602.2,175.3 603.7,174.6 605.1,173.8 606.5,173.0 607.9,172.2 609.2,171.2 610.5,170.1 611.9,169.1 613.2,168.0 614.6,167.1 615.9,166.4 617.2,165.9 618.6,165.6 619.9,165.2 621.2,164.9 622.6,164.7 623.9,164.4 625.3,164.3 626.6,164.2 627.9,164.1 629.4,164.1 630.8,164.1 632.2,164.2 633.6,164.2 635.1,164.3 636.5,164.3 637.9,164.4 639.3,164.5 640.8,164.7 642.2,164.8 643.5,166.0 644.9,168.5 646.2,171.7 647.6,174.8 648.9,177.7 650.2,180.9 651.6,184.2 652.9,187.5 654.2,190.9 655.6,194.1 656.9,197.1 658.3,199.8 659.7,202.6 661.2,205.3 662.7,207.8 664.2,210.2 665.7,212.3 667.2,214.1 668.6,215.7 670.0,217.3 671.5,218.7 672.9,219.8 674.3,220.1 675.7,220.0 677.2,219.7 678.6,219.3 680.0,218.8 681.4,218.3 682.9,217.7 684.3,216.8 685.7,215.9 687.1,215.0 688.5,214.3 690.0,214.1 690.4,214.1 691.8,214.1 693.2,214.1 694.6,214.1 696.0,214.1 697.5,214.1 698.9,214.1 700.3,214.1 701.7,214.1 703.1,213.4 704.4,211.9 705.7,210.1 707.1,208.7 708.4,207.8 709.8,207.0 711.1,206.2 712.4,205.6 713.8,204.9 715.1,204.2 716.5,203.5 717.8,202.7 719.1,201.7 720.5,200.7 721.8,199.6 723.1,198.4 724.5,197.3 725.8,196.2 727.2,195.3 728.5,194.4 729.8,193.7 731.1,192.9 732.3,192.3 733.6,191.8 734.9,191.6 736.1,191.8 737.3,192.2 738.6,192.9 739.8,193.7 741.0,194.4 742.4,195.4 743.8,196.5 745.1,197.8 746.5,199.2 747.9,200.6 749.3,202.2 750.7,203.8 752.1,205.4 753.5,206.9 754.9,208.7 756.2,210.7 757.6,212.8 759.0,215.1 760.4,217.2 761.8,219.2 763.2,220.9 764.6,222.2 766.0,223.0 767.4,223.4 768.8,223.8 770.2,224.1 771.7,224.3 773.1,224.5 774.5,224.7 775.9,224.9 777.4,225.2 778.8,225.5 780.2,225.8 781.6,226.3 783.0,226.8 784.4,227.4 785.8,228.0 787.2,228.7 788.5,229.5 789.9,230.2 791.3,231.1 792.7,231.9 794.0,232.8 795.4,233.9 796.7,235.0 798.1,236.2 799.4,237.4 800.7,238.6 802.1,239.8 803.4,240.8 804.8,241.8 806.1,242.8 807.4,243.7 808.8,244.6 810.1,245.5 811.4,246.3 812.8,247.2 814.1,248.0 815.6,248.8 817.1,249.5 818.6,250.2 820.1,250.9 821.6,251.7 823.0,252.6 824.5,253.8 825.9,255.1 827.1,256.0 828.4,257.0 829.6,257.7 830.9,258.0 832.2,257.6 833.5,256.9 834.7,255.7 836.0,254.5 837.3,253.3 838.7,252.1 840.1,250.7 841.5,249.2 842.9,247.7 844.2,246.0 845.6,244.4 847.0,242.6 848.4,240.8 849.8,239.0 851.1,237.1 852.5,234.9 853.8,232.6 855.1,230.2 856.5,227.9 857.8,225.9 859.2,224.2 860.5,223.0 861.9,222.1 863.3,221.4 864.7,220.8 866.0,220.3 867.4,219.8 868.8,219.4 870.2,218.9 871.6,218.3 873.0,217.6 874.3,216.9 875.7,216.2 877.0,215.4 878.3,214.6 879.7,213.7 881.0,212.7 882.4,211.6 883.7,210.5 885.0,209.1 886.4,207.5 887.7,205.7 889.0,203.7 890.4,201.7 891.7,199.7 893.1,197.9 894.4,196.2 895.9,194.6 897.4,192.9 898.9,191.4 900.3,189.9 901.8,188.6 903.3,187.3 904.8,186.2 906.3,185.1 907.8,184.2 909.3,183.2 910.7,182.3 912.2,181.2 913.6,180.1 914.9,178.8 916.2,177.8 917.6,177.3 918.8,177.8 920.0,178.8 921.2,180.2 922.5,182.3 923.8,185.2 925.2,188.3 926.5,190.9 927.9,193.2 929.4,195.5 930.8,197.6 932.2,199.3 933.6,200.5 935.1,201.3 936.5,201.8 937.9,202.3 939.3,202.7 940.8,203.4 942.3,204.4 943.7,205.7 945.2,207.1 946.7,208.5 948.2,209.4 949.7,209.8 951.1,209.7 952.5,209.3 953.9,208.9 955.2,208.3 956.6,207.7 958.0,207.1 959.4,206.7 960.8,206.3 962.2,206.2 963.7,206.5 965.2,207.4 966.6,208.5 968.1,209.9 969.6,211.2 971.1,212.3 972.5,213.3 974.0,214.4 975.4,215.5 976.8,216.3 978.2,216.6 979.7,216.3 981.1,215.6 982.5,214.6 983.9,213.4 985.4,212.3 986.9,211.0 988.3,209.5 989.8,207.9 991.3,206.3 992.8,204.7 994.3,203.4 995.8,202.1 997.3,200.9 998.8,199.8 1000.2,198.7 1001.7,197.8 1003.2,196.9 1004.5,196.3 1005.8,195.6 1007.1,195.0 1008.3,194.6 1009.6,194.4 1010.9,194.6 1012.2,195.0 1013.6,195.7 1014.9,196.4 1016.2,197.2 1017.5,198.0 1019.0,198.9 1020.5,200.0 1021.9,201.1 1023.4,202.4 1024.9,203.7 1026.4,205.1 1027.8,206.8 1029.3,208.8 1030.7,210.8 1032.1,212.7 1033.5,214.1 1034.9,215.1 1036.2,216.0 1037.6,216.7 1038.9,216.9 1040.2,216.1 1041.6,214.1 1042.9,211.5 1044.2,208.7 1045.7,205.6 1047.1,201.8 1048.5,197.7 1049.9,193.4 1051.4,189.1 1052.9,184.5 1054.3,179.7 1055.8,174.8 1057.3,169.9 1058.8,165.1 1060.3,160.6 1061.7,156.2 1063.1,151.8 1064.6,147.6 1066.0,143.9 1067.4,140.9 1068.8,138.5 1070.1,136.2 1071.4,134.5 1072.8,133.8 1074.1,134.3 1075.5,135.6 1076.8,137.3 1078.1,139.1 1079.6,141.4 1081.0,144.1 1082.4,147.2 1083.8,150.4 1085.3,153.4 1086.8,156.4 1088.2,159.2 1089.7,162.1 1091.2,165.1 1092.7,168.1 1094.2,171.3 1095.7,174.6 1097.2,178.1 1098.6,181.7 1100.1,185.4 1101.6,189.0 1103.1,192.7 1104.6,196.2 1106.1,199.8 1107.6,203.4 1109.1,206.9 1110.5,210.5 1112.0,214.1 1113.5,217.6 1115.0,221.2 1116.5,224.7 1118.0,228.3 1119.5,231.9 1120.9,235.5 1122.4,239.0 1123.8,242.6 1125.2,246.2 1126.7,249.8 1128.1,253.3 1129.4,256.7 1130.8,260.1 1132.1,263.3 1133.4,265.8 1134.8,267.8 1136.1,269.5 1137.4,270.9 1138.8,271.9 1140.2,272.5 1141.6,273.0 1143.1,273.3 1144.5,273.7 1145.9,274.0 1147.3,274.4 1148.8,274.8 1150.2,275.1 1151.6,275.3 1153.1,275.4 1154.5,275.3 1155.9,274.9 1157.3,274.4 1158.8,273.7 1160.2,272.9 1161.5,271.8 1162.9,270.1 1164.2,268.0 1165.5,265.8 1167.0,263.1 1168.4,260.0 1169.8,256.6 1171.3,253.2 1172.7,249.7 1174.2,246.3 1175.7,242.7 1177.1,239.1 1178.6,235.5 1180.1,231.9 1181.6,228.3 1182.9,225.2 1184.3,222.0 1185.6,218.9 1187.0,215.8 1188.3,212.7 1189.6,209.6 1191.0,206.5 1192.3,203.4 1193.6,200.3 1195.0,197.2 1196.3,194.1 1197.7,191.1 1199.0,188.0 1200.3,184.9 1201.7,181.7 1203.0,178.4 1204.3,175.0 1205.7,171.6 1207.0,168.2 1208.4,164.7 1209.7,161.1 1211.0,157.4 1212.4,153.7 1213.7,149.8 1215.2,145.0 1216.7,139.6 1218.2,134.0 1219.7,128.8 1221.1,124.4 1222.6,121.3 1224.1,119.3 1225.5,117.5 1226.9,116.1 1228.3,114.9 1229.8,114.2 1231.1,113.7 1232.4,113.2 1233.8,112.8 1235.1,112.4 1236.5,112.1 1237.8,111.9 1239.1,111.7 1240.5,111.7 1241.9,111.7 1243.2,111.8 1244.6,112.0 1246.0,112.2 1247.4,112.4 1248.8,112.7 1250.2,113.0 1251.6,113.2 1253.0,113.5 1254.3,113.7 1255.7,113.9 1257.1,114.2 1258.5,114.5 1259.9,114.7 1261.3,115.0 1262.7,115.3 1264.1,115.6 1265.4,116.0 1266.9,116.3 1268.4,116.6 1269.9,117.0 1271.4,117.4 1272.9,117.9 1274.4,118.5 1275.8,119.1 1277.2,119.8 1278.6,120.8 1280.1,121.8 1281.5,123.1 1282.9,124.9 1284.4,127.4 1285.8,130.2 1287.2,133.1 1288.6,135.6 1289.9,137.4 1291.2,139.0 1292.5,140.6 1293.7,142.4 1295.0,144.5 1296.5,147.9 1298.0,152.3 1299.5,157.3 1300.9,162.4 1302.4,167.2 1303.9,171.3 1305.3,174.4 1306.6,177.5 1307.9,180.4 1309.3,183.2 1310.6,185.9 1311.9,188.3 1313.3,190.6 1314.6,192.7 1316.0,194.6 1317.4,196.5 1318.8,198.2 1320.2,199.8 1321.6,201.3 1322.9,202.8 1324.3,204.2 1325.7,205.6 1327.1,206.9 1328.4,208.2 1329.8,209.5 1331.1,210.8 1332.5,212.0 1333.8,213.1 1335.1,214.1 1336.5,215.1 1337.8,215.9 1339.3,216.7 1340.8,217.5 1342.3,218.2 1343.8,218.8 1345.2,219.3 1346.7,219.4 1348.2,219.4 1349.7,219.3 1351.1,219.1 1352.6,218.9 1354.0,218.6 1355.5,218.4 1356.9,218.2 1358.4,218.0 1359.9,217.8 1361.3,217.7 1362.8,217.6 1364.3,217.8 1365.8,218.3 1367.2,218.9 1368.7,219.5 1370.2,219.9 1371.7,220.1 1373.1,220.1 1374.6,219.9 1376.0,219.7 1377.4,219.5 1378.8,219.4 1380.2,220.0 1381.5,221.4 1382.9,223.1 1384.2,224.8 1385.3,225.9 1386.4,227.0 1387.5,228.3 1388.9,230.7 1390.4,233.6 1391.9,236.8 1393.4,239.8 1394.9,242.8 1396.4,245.7 1397.9,248.7 1399.4,251.7 1400.8,254.6 1402.3,257.5 1403.8,260.4 1405.3,263.6 1406.6,266.6 1407.9,269.9 1409.3,273.5 1410.6,277.8 1411.9,282.6 1413.2,287.4 1414.7,292.4 1416.2,297.3 1417.7,302.3 1419.2,307.2 1420.7,312.1 1422.1,317.1 1423.6,322.0 1425.1,327.0 1426.6,331.9 1428.1,336.8 1429.6,341.8 1431.1,346.8 1432.3,351.3 1433.5,355.9 1434.8,360.4 1436.0,364.6 1437.3,369.1 1438.7,373.4 1440.0,376.5 1441.2,378.6 1442.5,380.3 1443.7,381.6 1444.9,382.5 1446.4,383.2 1447.9,383.9 1449.4,384.3 1450.9,384.5 1452.4,384.4 1453.8,384.3 1455.3,384.1 1456.8,383.9 1458.3,383.3 1459.8,382.3 1461.3,380.9 1462.8,379.5 1464.2,377.9 1465.7,375.9 1467.2,373.8 1468.7,371.6 1470.0,369.6 1471.3,367.5 1472.7,365.3 1474.0,363.1 1475.3,360.9 1476.6,358.7 1478.0,356.6 1479.3,354.4 1480.6,352.3 1481.9,350.1 1483.2,348.0 1484.6,345.8 1485.9,343.7 1487.2,341.6 1488.5,339.4 1489.8,337.3 1491.2,335.1 1492.5,332.9 1493.9,330.7 1495.3,328.5 1496.6,326.2 1498.0,323.8 1499.4,321.1 1500.7,318.1 1502.1,314.8 1503.4,311.1 1504.6,307.3 1505.9,303.0 1507.1,298.4 1508.3,293.3 1509.7,287.0 1511.0,280.0 1512.3,273.5 1513.5,268.2 1514.8,263.3 1516.0,258.5 1517.3,253.7 1518.5,249.1 1519.7,244.9 1521.0,240.0 1522.2,233.9 1523.3,224.8 1524.7,218.6 1526.0,213.3 1527.4,208.8 1528.7,204.9 1530.0,201.5 1531.4,198.4 1532.7,195.5 1534.0,192.7 1535.4,190.0 1536.7,187.5 1538.1,185.3 1539.4,183.2 1540.7,181.2 1542.1,179.1 1543.4,177.0 1544.7,174.8 1546.2,172.2 1547.7,169.4 1549.2,166.6 1550.7,163.9 1552.2,161.2 1553.7,158.8 1555.1,156.3 1556.5,153.6 1557.9,151.2 1559.4,149.5 1560.8,148.8 1562.0,148.9 1563.2,149.3 1564.4,149.8 1565.8,151.3 1567.2,154.0 1568.6,157.4 1570.1,160.9 1571.5,164.1 1572.8,166.8 1574.2,169.5 1575.5,172.1 1576.9,174.8 1578.2,177.5 1579.5,180.2 1580.9,182.8 1582.2,185.5 1583.7,188.7 1585.2,192.0 1586.7,195.4 1588.2,198.5 1589.6,201.2 1591.1,203.4 1592.6,204.9 1594.0,206.3 1595.4,207.4 1596.8,208.5 1598.3,209.4 1599.6,210.3 1600.9,211.1 1602.3,211.8 1603.6,212.5 1605.0,213.1 1606.3,213.7 1607.6,214.3 1609.0,214.8 1610.3,215.2 1611.6,215.5 1613.0,215.8 1614.3,216.1 1615.7,216.4 1617.0,216.8 1618.3,217.1 1619.7,217.6 1621.1,218.6 1622.5,219.9 1624.0,221.4 1625.4,222.5 1626.8,223.0 1628.2,222.8 1629.7,222.3 1631.1,221.7 1632.5,221.0 1633.9,220.5 1635.4,220.0 1636.8,219.4 1638.2,218.9 1639.6,218.5 1641.1,218.3 1642.5,218.6 1643.9,219.1 1645.4,219.8 1646.8,220.5 1648.2,221.2 1649.7,221.7 1651.2,222.2 1652.7,222.6 1654.2,223.2 1655.6,223.9 1657.1,224.8 1658.5,226.4 1659.8,229.2 1661.1,232.4 1662.5,235.5 1663.9,238.8 1665.3,242.3 1666.8,245.9 1668.2,249.1 1669.6,251.5 1671.1,253.4 1672.6,254.9 1674.1,256.2 1675.6,257.4 1677.1,258.8 1678.5,260.4 1680.0,262.4 1681.5,264.6 1683.0,267.0 1684.5,269.5 1686.0,272.1 1687.5,274.7 1688.9,277.4 1690.4,280.3 1691.9,283.2 1693.4,286.2 1694.9,289.4 1696.4,292.6 1697.9,295.9 1699.3,299.4 1700.8,303.0 1702.3,306.6 1703.8,310.3 1705.3,314.0 1706.7,317.7 1708.1,321.7 1709.6,325.5 1711.0,329.0 1712.4,331.8 1713.9,334.2 1715.3,336.3 1716.7,337.2 1717.9,336.6 1719.0,335.3 1720.2,333.6 1721.4,331.8 1722.8,329.4 1724.2,326.5 1725.6,323.4 1727.1,320.3 1728.5,317.5 1729.8,315.3 1731.2,313.1 1732.5,310.9 1733.8,308.9 1735.2,306.9 1736.5,305.0 1737.9,303.2 1739.2,301.5 1740.5,299.7 1741.9,298.0 1743.2,296.2 1744.5,294.5 1745.9,293.0 1747.2,291.6 1748.6,290.5 1749.9,289.7 1751.2,289.1 1752.6,288.7 1753.9,288.3 1755.2,288.0 1756.6,287.7 1757.9,287.4 1759.3,287.0 1760.6,286.5 1762.0,285.8 1763.5,284.9 1764.9,283.9 1766.3,282.9 1767.7,281.7 1769.2,280.5 1770.6,279.4 1772.0,278.3 1773.4,277.3 1774.9,276.5 1776.3,275.8 1777.6,275.1 1779.0,274.5 1780.4,274.0 1781.8,273.4 1783.2,272.8 1784.6,272.3 1786.0,271.7 1787.4,271.2 1788.7,270.6 1790.1,270.0 1791.5,269.4 1792.9,268.9 1794.3,268.3 1795.7,267.7 1797.1,267.1 1798.5,266.5 1799.8,265.8 1801.3,264.9 1802.7,263.9 1804.1,262.7 1805.6,261.6 1807.0,260.6 1808.4,260.0 1809.8,259.7 1811.3,259.8 1812.8,259.9 1814.2,260.2 1815.7,260.5 1817.2,260.8 1818.6,261.2 1820.1,261.5 1821.6,261.9 1823.0,262.2 1824.5,262.5 1825.9,262.8 1827.3,263.1 1828.7,263.4 1830.2,263.7 1831.6,264.1 1833.0,264.4 1834.4,264.8 1835.9,265.3 1837.3,265.8 1838.7,266.4 1840.1,267.2 1841.5,268.2 1842.9,269.3 1844.2,270.4 1845.6,271.6 1847.0,272.7 1848.4,273.8 1849.8,274.7 1851.2,275.6 1852.6,276.4 1854.0,277.1 1855.3,277.8 1856.7,278.6 1858.1,279.3 1859.5,280.1 1860.9,281.0 1862.3,281.9 1863.6,282.8 1865.0,283.9 1866.3,285.0 1867.6,286.2 1869.0,287.4 1870.3,288.6 1871.6,289.7 1873.0,290.8 1874.3,291.7 1875.7,292.6 1877.0,293.5 1878.3,294.3 1879.7,295.2 1881.0,296.1 1882.3,297.0 1883.7,297.9 1885.0,299.0 1886.4,300.2 1887.7,301.4 1889.0,302.7 1890.4,303.9 1891.7,305.0 1893.1,306.0 1894.4,306.8 1895.8,307.6 1897.2,308.4 1898.7,309.0 1900.1,309.5 1901.5,309.7 1903.0,309.7 1904.4,309.6 1905.8,309.4 1907.2,309.3 1908.7,309.1 1910.1,308.8 1911.5,308.6 1912.9,308.4 1914.4,308.1 1915.8,307.9 1917.2,307.7 1918.6,307.5 1920.1,307.3 1921.5,307.0 1922.9,306.8 1924.4,306.5 1925.8,306.2 1927.2,305.9 1928.6,305.5 1930.1,305.0 1931.4,304.4 1932.7,303.5 1934.1,302.4 1935.4,301.1 1936.8,299.8 1938.1,298.5 1939.4,297.2 1940.8,296.1 1942.1,295.2 1943.4,294.3 1944.8,293.4 1946.1,292.5 1947.5,291.7 1948.8,290.8 1950.1,289.9 1951.5,289.0 1952.9,288.0 1954.3,286.9 1955.8,285.8 1957.2,284.7 1958.6,283.6" fill="none" stroke="#ff4500" stroke-width="3.2" stroke-linejoin="round"/>
<line x1="396.0" y1="32.5" x2="396.0" y2="285" stroke="#000" stroke-width="1.8" stroke-dasharray="1.6 2.07"/>
<line x1="518.5" y1="32.5" x2="518.5" y2="285" stroke="#000" stroke-width="1.8" stroke-dasharray="1.6 2.07"/>
<line x1="1163.0" y1="32.5" x2="1163.0" y2="508.5" stroke="#000" stroke-width="1.8" stroke-dasharray="1.6 2.07"/>
<line x1="1285.6" y1="32.5" x2="1285.6" y2="508.5" stroke="#000" stroke-width="1.8" stroke-dasharray="1.6 2.07"/>
<line x1="1500.5" y1="32.5" x2="1500.5" y2="508.5" stroke="#000" stroke-width="1.8" stroke-dasharray="1.6 2.07"/>
<line x1="1837.5" y1="32.5" x2="1837.5" y2="508.5" stroke="#000" stroke-width="1.8" stroke-dasharray="1.6 2.07"/>
<text x="69.5" y="66.3" font-size="30" font-weight="bold">a</text>
<text x="390.0" y="309.9" font-size="21" text-anchor="middle">Oct 65</text>
<text x="512.5" y="309.9" font-size="21" text-anchor="middle">Oct 69</text>
<text x="1163.0" y="535.5" font-size="21" text-anchor="middle">Oct 90</text>
<text x="1285.6" y="535.5" font-size="21" text-anchor="middle">Oct 94</text>
<text x="1500.5" y="535.5" font-size="21" text-anchor="middle">Oct 01</text>
<text x="1837.5" y="535.5" font-size="21" text-anchor="middle">Oct 12</text>
<text x="1960.8" y="535.5" font-size="21" text-anchor="middle">Oct 16</text>
<text x="457" y="347.5" font-size="21" text-anchor="middle">Period 1</text>
<text x="808" y="497" font-size="21" text-anchor="middle">Period 2</text>
<text x="1223" y="497" font-size="21" text-anchor="middle">Period 3</text>
<text x="1381" y="497" font-size="21" text-anchor="middle">Period 4</text>
<text x="1683" y="497" font-size="21" text-anchor="middle">Period 5</text>
<text x="1900" y="497" font-size="21" text-anchor="middle">Period 6</text>
<circle cx="195.6" cy="46.5" r="7.6" fill="#000"/>
<circle cx="195.6" cy="74.4" r="7.6" fill="#ff4500"/>
<text x="223" y="54.0" font-size="21">-0.01</text>
<text x="223" y="82.0" font-size="21" class="o">0.04</text>
<polygon points="414.3,52.9 436.09999999999997,52.9 425.2,34.2" fill="#000"/>
<polygon points="414.3,80.80000000000001 436.09999999999997,80.80000000000001 425.2,62.10000000000001" fill="#ff4500"/>
<text x="453" y="54.0" font-size="21">0.34</text>
<text x="453" y="82.0" font-size="21" class="o">0.48</text>
<circle cx="774.6" cy="368.5" r="7.6" fill="#000"/>
<circle cx="774.6" cy="396.4" r="7.6" fill="#ff4500"/>
<text x="802" y="376.0" font-size="21">-0.02</text>
<text x="802" y="404.0" font-size="21" class="o">-0.01</text>
<polygon points="1178.1,374.9 1199.9,374.9 1189.0,356.2" fill="#000"/>
<polygon points="1178.1,402.79999999999995 1199.9,402.79999999999995 1189.0,384.09999999999997" fill="#ff4500"/>
<text x="1216" y="376.0" font-size="21">0.97</text>
<text x="1216" y="404.0" font-size="21" class="o">0.45</text>
<polygon points="1337.8,362.3 1359.6000000000001,362.3 1348.7,380.6" fill="#000"/>
<polygon points="1337.8,390.2 1359.6000000000001,390.2 1348.7,408.5" fill="#ff4500"/>
<text x="1377" y="376.0" font-size="21">-0.47</text>
<text x="1377" y="404.0" font-size="21" class="o">-0.38</text>
<circle cx="1649.6" cy="368.5" r="7.6" fill="#000"/>
<polygon points="1637.8,390.2 1659.6000000000001,390.2 1648.7,408.5" fill="#ff4500"/>
<text x="1677" y="376.0" font-size="21">0.01</text>
<text x="1677" y="404.0" font-size="21" class="o">-0.11</text>
<circle cx="1867.6" cy="368.5" r="7.6" fill="#000"/>
<circle cx="1867.6" cy="396.4" r="7.6" fill="#ff4500"/>
<text x="1895" y="376.0" font-size="21">-0.06</text>
<text x="1895" y="404.0" font-size="21" class="o">-0.08</text>
<rect x="1323.5" y="42.5" width="627" height="84" fill="#fbfbfb" stroke="#3c3c3c" stroke-width="1.3"/>
<line x1="1331.5" y1="58.8" x2="1388.5" y2="58.8" stroke="#ff4500" stroke-width="3.3"/>
<line x1="1331.5" y1="84.6" x2="1388.5" y2="84.6" stroke="#ff4500" stroke-width="3.2" stroke-dasharray="2.8 2.4"/>
<rect x="1331.5" y="101.5" width="56.5" height="17.5" fill="#808080" stroke="none" stroke-width="1"/>
<text x="1394.5" y="66.5" font-size="21">Standardized Runoff Index (SRI)</text>
<text x="1394.5" y="92" font-size="21">SRI (only stations close to river mouth)</text>
<text x="1394.5" y="118" font-size="21">Standardized Precipitation Evapotranspiration Index (SPEI)</text>
</g>
<g id="panel-b">
<rect x="58.5" y="375.0" width="571.0" height="570.7" fill="#fff" stroke="none" stroke-width="1"/>
<clipPath id="clipb"><rect x="58.5" y="375.0" width="571.0" height="570.7"/></clipPath>
<g clip-path="url(#clipb)">
<g fill="#b3b3b3">
<circle cx="155.0" cy="579.2" r="4.2"/><circle cx="259.5" cy="579.2" r="4.2"/><circle cx="340.0" cy="580.3" r="4.2"/><circle cx="351.2" cy="575.8" r="4.2"/><circle cx="173.8" cy="649.0" r="4.2"/><circle cx="179.8" cy="652.5" r="4.2"/><circle cx="184.3" cy="649.5" r="4.2"/><circle cx="200.4" cy="649.9" r="4.2"/><circle cx="233.2" cy="646.8" r="4.2"/><circle cx="219.7" cy="640.5" r="4.2"/><circle cx="228.7" cy="635.9" r="4.2"/><circle cx="240.7" cy="636.7" r="4.2"/><circle cx="244.5" cy="641.2" r="4.2"/><circle cx="161.0" cy="664.1" r="4.2"/><circle cx="142.7" cy="669.3" r="4.2"/><circle cx="195.6" cy="675.0" r="4.2"/><circle cx="119.4" cy="679.5" r="4.2"/><circle cx="337.7" cy="630.7" r="4.2"/><circle cx="258.0" cy="689.3" r="4.2"/><circle cx="267.0" cy="693.1" r="4.2"/><circle cx="273.8" cy="692.3" r="4.2"/><circle cx="279.1" cy="691.6" r="4.2"/><circle cx="284.3" cy="691.6" r="4.2"/><circle cx="294.1" cy="689.3" r="4.2"/><circle cx="207.6" cy="693.8" r="4.2"/><circle cx="222.4" cy="692.6" r="4.2"/><circle cx="293.3" cy="697.6" r="4.2"/><circle cx="325.7" cy="621.7" r="4.2"/><circle cx="351.5" cy="575.8" r="4.2"/><circle cx="341.0" cy="580.3" r="4.2"/><circle cx="350.0" cy="584.1" r="4.2"/><circle cx="387.6" cy="585.6" r="4.2"/><circle cx="403.4" cy="589.3" r="4.2"/><circle cx="403.4" cy="597.6" r="4.2"/><circle cx="559.1" cy="593.8" r="4.2"/><circle cx="555.3" cy="598.3" r="4.2"/><circle cx="561.3" cy="597.6" r="4.2"/><circle cx="588.8" cy="606.6" r="4.2"/><circle cx="510.9" cy="609.9" r="4.2"/><circle cx="527.9" cy="617.4" r="4.2"/><circle cx="428.2" cy="617.1" r="4.2"/><circle cx="447.8" cy="617.1" r="4.2"/><circle cx="437.3" cy="617.9" r="4.2"/><circle cx="424.9" cy="623.2" r="4.2"/><circle cx="435.0" cy="622.4" r="4.2"/><circle cx="571.1" cy="620.5" r="4.2"/><circle cx="577.9" cy="625.4" r="4.2"/><circle cx="584.9" cy="631.4" r="4.2"/><circle cx="395.2" cy="610.4" r="4.2"/><circle cx="379.8" cy="617.1" r="4.2"/><circle cx="338.0" cy="630.4" r="4.2"/><circle cx="429.0" cy="654.4" r="4.2"/><circle cx="467.3" cy="653.5" r="4.2"/><circle cx="459.4" cy="670.5" r="4.2"/><circle cx="447.0" cy="677.0" r="4.2"/><circle cx="463.3" cy="678.0" r="4.2"/><circle cx="497.7" cy="668.0" r="4.2"/><circle cx="497.7" cy="672.8" r="4.2"/><circle cx="468.1" cy="688.6" r="4.2"/><circle cx="483.6" cy="687.1" r="4.2"/><circle cx="506.4" cy="684.1" r="4.2"/><circle cx="532.0" cy="685.3" r="4.2"/><circle cx="395.2" cy="689.3" r="4.2"/><circle cx="129.0" cy="705.6" r="4.2"/><circle cx="165.5" cy="711.3" r="4.2"/><circle cx="175.3" cy="710.2" r="4.2"/><circle cx="233.2" cy="716.5" r="4.2"/><circle cx="227.9" cy="719.5" r="4.2"/><circle cx="233.9" cy="724.8" r="4.2"/><circle cx="241.5" cy="722.6" r="4.2"/><circle cx="250.5" cy="732.3" r="4.2"/><circle cx="270.0" cy="735.3" r="4.2"/><circle cx="219.7" cy="746.9" r="4.2"/><circle cx="204.6" cy="765.4" r="4.2"/><circle cx="128.2" cy="771.4" r="4.2"/><circle cx="136.2" cy="769.9" r="4.2"/><circle cx="140.0" cy="771.9" r="4.2"/><circle cx="143.0" cy="767.7" r="4.2"/><circle cx="145.2" cy="769.2" r="4.2"/><circle cx="220.4" cy="769.5" r="4.2"/><circle cx="221.6" cy="777.4" r="4.2"/><circle cx="197.1" cy="778.9" r="4.2"/><circle cx="220.4" cy="788.3" r="4.2"/><circle cx="188.8" cy="797.3" r="4.2"/><circle cx="282.8" cy="773.2" r="4.2"/><circle cx="324.2" cy="758.6" r="4.2"/><circle cx="301.6" cy="789.0" r="4.2"/><circle cx="321.2" cy="788.7" r="4.2"/><circle cx="338.9" cy="789.5" r="4.2"/><circle cx="352.0" cy="786.0" r="4.2"/><circle cx="305.8" cy="799.7" r="4.2"/><circle cx="304.6" cy="812.0" r="4.2"/><circle cx="403.1" cy="718.0" r="4.2"/><circle cx="339.2" cy="789.2" r="4.2"/><circle cx="352.3" cy="786.0" r="4.2"/><circle cx="360.6" cy="787.2" r="4.2"/><circle cx="358.3" cy="790.2" r="4.2"/><circle cx="367.0" cy="789.5" r="4.2"/><circle cx="387.9" cy="788.7" r="4.2"/>
</g>
<g fill="#0f26d9">
<circle cx="347.8" cy="485.4" r="4.2"/><circle cx="351.5" cy="483.2" r="4.2"/><circle cx="362.4" cy="476.8" r="4.2"/><circle cx="368.8" cy="478.6" r="4.2"/><circle cx="375.3" cy="478.2" r="4.2"/><circle cx="380.1" cy="477.6" r="4.2"/><circle cx="383.9" cy="477.3" r="4.2"/><circle cx="401.5" cy="476.4" r="4.2"/><circle cx="465.8" cy="478.9" r="4.2"/><circle cx="476.1" cy="473.5" r="4.2"/><circle cx="507.2" cy="467.8" r="4.2"/><circle cx="560.1" cy="449.3" r="4.2"/><circle cx="560.3" cy="488.1" r="4.2"/><circle cx="539.8" cy="526.5" r="4.2"/><circle cx="434.5" cy="549.3" r="4.2"/><circle cx="458.0" cy="556.5" r="4.2"/><circle cx="458.0" cy="565.4" r="4.2"/><circle cx="436.1" cy="557.6" r="4.2"/><circle cx="302.8" cy="530.1" r="4.2"/><circle cx="320.4" cy="579.5" r="4.2"/><circle cx="192.6" cy="639.2" r="4.2"/><circle cx="200.1" cy="641.2" r="4.2"/><circle cx="216.7" cy="638.2" r="4.2"/><circle cx="224.2" cy="635.9" r="4.2"/><circle cx="247.2" cy="637.4" r="4.2"/><circle cx="255.8" cy="627.2" r="4.2"/><circle cx="268.8" cy="636.2" r="4.2"/><circle cx="292.6" cy="635.2" r="4.2"/><circle cx="346.7" cy="597.1" r="4.2"/><circle cx="352.0" cy="592.3" r="4.2"/><circle cx="318.2" cy="614.1" r="4.2"/><circle cx="345.2" cy="641.2" r="4.2"/><circle cx="458.0" cy="565.3" r="4.2"/><circle cx="353.0" cy="591.6" r="4.2"/><circle cx="347.0" cy="596.8" r="4.2"/><circle cx="366.6" cy="600.3" r="4.2"/><circle cx="374.1" cy="600.3" r="4.2"/><circle cx="387.6" cy="596.8" r="4.2"/><circle cx="390.6" cy="596.4" r="4.2"/><circle cx="345.2" cy="641.2" r="4.2"/><circle cx="363.6" cy="685.6" r="4.2"/><circle cx="376.8" cy="689.6" r="4.2"/><circle cx="417.4" cy="693.1" r="4.2"/><circle cx="448.1" cy="701.7" r="4.2"/><circle cx="391.8" cy="702.1" r="4.2"/>
</g>
<g fill="#1acccc">
<circle cx="380.9" cy="530.5" r="4.2"/><circle cx="423.7" cy="531.3" r="4.2"/><circle cx="429.0" cy="528.6" r="4.2"/><circle cx="429.0" cy="532.5" r="4.2"/><circle cx="436.1" cy="527.1" r="4.2"/><circle cx="390.9" cy="552.3" r="4.2"/><circle cx="509.9" cy="545.1" r="4.2"/><circle cx="532.3" cy="542.1" r="4.2"/><circle cx="441.8" cy="557.1" r="4.2"/><circle cx="432.7" cy="558.3" r="4.2"/><circle cx="214.1" cy="532.5" r="4.2"/><circle cx="229.0" cy="528.6" r="4.2"/><circle cx="245.5" cy="527.2" r="4.2"/><circle cx="280.6" cy="523.5" r="4.2"/><circle cx="290.6" cy="527.1" r="4.2"/><circle cx="308.8" cy="536.1" r="4.2"/><circle cx="330.9" cy="527.1" r="4.2"/><circle cx="201.9" cy="633.7" r="4.2"/><circle cx="240.7" cy="631.7" r="4.2"/><circle cx="256.2" cy="630.4" r="4.2"/><circle cx="308.1" cy="583.6" r="4.2"/><circle cx="330.2" cy="600.9" r="4.2"/><circle cx="334.7" cy="602.1" r="4.2"/><circle cx="339.2" cy="605.9" r="4.2"/><circle cx="346.7" cy="601.4" r="4.2"/><circle cx="302.4" cy="611.9" r="4.2"/><circle cx="281.3" cy="615.6" r="4.2"/><circle cx="270.0" cy="620.9" r="4.2"/><circle cx="310.6" cy="619.4" r="4.2"/><circle cx="349.7" cy="614.9" r="4.2"/><circle cx="319.7" cy="629.9" r="4.2"/><circle cx="327.2" cy="626.2" r="4.2"/><circle cx="327.2" cy="633.7" r="4.2"/><circle cx="309.9" cy="633.7" r="4.2"/><circle cx="345.2" cy="634.4" r="4.2"/><circle cx="333.2" cy="638.9" r="4.2"/><circle cx="288.8" cy="642.0" r="4.2"/><circle cx="304.6" cy="642.0" r="4.2"/><circle cx="319.7" cy="641.2" r="4.2"/><circle cx="313.6" cy="648.7" r="4.2"/><circle cx="285.1" cy="656.7" r="4.2"/><circle cx="279.8" cy="661.1" r="4.2"/><circle cx="271.1" cy="666.0" r="4.2"/><circle cx="285.1" cy="674.3" r="4.2"/><circle cx="215.9" cy="674.0" r="4.2"/><circle cx="319.7" cy="654.7" r="4.2"/><circle cx="352.7" cy="648.7" r="4.2"/><circle cx="288.1" cy="701.4" r="4.2"/><circle cx="307.6" cy="699.8" r="4.2"/><circle cx="339.2" cy="692.3" r="4.2"/><circle cx="343.7" cy="694.6" r="4.2"/><circle cx="349.0" cy="693.8" r="4.2"/><circle cx="340.7" cy="683.3" r="4.2"/><circle cx="380.1" cy="571.3" r="4.2"/><circle cx="395.9" cy="575.0" r="4.2"/><circle cx="399.7" cy="578.0" r="4.2"/><circle cx="428.2" cy="576.5" r="4.2"/><circle cx="436.5" cy="572.8" r="4.2"/><circle cx="434.2" cy="566.0" r="4.2"/><circle cx="443.3" cy="580.3" r="4.2"/><circle cx="455.3" cy="581.8" r="4.2"/><circle cx="460.6" cy="572.8" r="4.2"/><circle cx="486.1" cy="572.0" r="4.2"/><circle cx="490.6" cy="566.8" r="4.2"/><circle cx="486.9" cy="578.0" r="4.2"/><circle cx="509.0" cy="570.5" r="4.2"/><circle cx="514.7" cy="581.8" r="4.2"/><circle cx="525.2" cy="584.1" r="4.2"/><circle cx="541.3" cy="579.2" r="4.2"/><circle cx="563.1" cy="578.0" r="4.2"/><circle cx="563.6" cy="587.1" r="4.2"/><circle cx="581.6" cy="579.5" r="4.2"/><circle cx="585.4" cy="574.3" r="4.2"/><circle cx="584.9" cy="587.1" r="4.2"/><circle cx="593.3" cy="580.3" r="4.2"/><circle cx="602.7" cy="580.6" r="4.2"/><circle cx="623.7" cy="591.6" r="4.2"/><circle cx="624.5" cy="593.8" r="4.2"/><circle cx="453.8" cy="587.8" r="4.2"/><circle cx="459.1" cy="587.8" r="4.2"/><circle cx="466.6" cy="592.3" r="4.2"/><circle cx="480.9" cy="594.6" r="4.2"/><circle cx="495.2" cy="588.1" r="4.2"/><circle cx="439.1" cy="600.9" r="4.2"/><circle cx="452.3" cy="597.6" r="4.2"/><circle cx="458.3" cy="597.9" r="4.2"/><circle cx="463.6" cy="600.6" r="4.2"/><circle cx="465.1" cy="605.1" r="4.2"/><circle cx="453.8" cy="609.3" r="4.2"/><circle cx="477.1" cy="608.4" r="4.2"/><circle cx="500.4" cy="605.1" r="4.2"/><circle cx="505.7" cy="603.6" r="4.2"/><circle cx="515.0" cy="602.9" r="4.2"/><circle cx="496.7" cy="611.1" r="4.2"/><circle cx="501.9" cy="610.4" r="4.2"/><circle cx="506.4" cy="611.9" r="4.2"/><circle cx="490.6" cy="615.6" r="4.2"/><circle cx="503.4" cy="616.4" r="4.2"/><circle cx="499.7" cy="621.7" r="4.2"/><circle cx="544.0" cy="604.4" r="4.2"/><circle cx="541.8" cy="608.4" r="4.2"/><circle cx="623.3" cy="614.4" r="4.2"/><circle cx="403.4" cy="608.4" r="4.2"/><circle cx="413.2" cy="608.1" r="4.2"/><circle cx="423.0" cy="613.4" r="4.2"/><circle cx="425.2" cy="616.4" r="4.2"/><circle cx="439.5" cy="617.1" r="4.2"/><circle cx="473.3" cy="619.4" r="4.2"/><circle cx="477.9" cy="621.7" r="4.2"/><circle cx="483.9" cy="623.2" r="4.2"/><circle cx="480.9" cy="627.7" r="4.2"/><circle cx="484.6" cy="626.9" r="4.2"/><circle cx="480.1" cy="631.4" r="4.2"/><circle cx="338.8" cy="605.1" r="4.2"/><circle cx="345.5" cy="602.1" r="4.2"/><circle cx="357.6" cy="600.6" r="4.2"/><circle cx="360.6" cy="599.8" r="4.2"/><circle cx="378.6" cy="603.6" r="4.2"/><circle cx="364.3" cy="608.9" r="4.2"/><circle cx="371.1" cy="609.6" r="4.2"/><circle cx="366.6" cy="617.9" r="4.2"/><circle cx="350.0" cy="614.9" r="4.2"/><circle cx="362.1" cy="627.7" r="4.2"/><circle cx="386.1" cy="621.7" r="4.2"/><circle cx="429.7" cy="632.9" r="4.2"/><circle cx="434.2" cy="636.7" r="4.2"/><circle cx="438.0" cy="641.2" r="4.2"/><circle cx="446.3" cy="638.9" r="4.2"/><circle cx="450.8" cy="642.0" r="4.2"/><circle cx="458.3" cy="645.0" r="4.2"/><circle cx="465.1" cy="632.2" r="4.2"/><circle cx="468.8" cy="642.7" r="4.2"/><circle cx="468.1" cy="650.2" r="4.2"/><circle cx="462.8" cy="657.7" r="4.2"/><circle cx="501.6" cy="638.9" r="4.2"/><circle cx="511.2" cy="644.2" r="4.2"/><circle cx="554.1" cy="642.0" r="4.2"/><circle cx="624.0" cy="645.7" r="4.2"/><circle cx="618.5" cy="660.8" r="4.2"/><circle cx="623.0" cy="663.8" r="4.2"/><circle cx="557.9" cy="659.2" r="4.2"/><circle cx="523.7" cy="658.0" r="4.2"/><circle cx="529.3" cy="662.3" r="4.2"/><circle cx="518.8" cy="665.0" r="4.2"/><circle cx="509.7" cy="665.6" r="4.2"/><circle cx="437.7" cy="651.0" r="4.2"/><circle cx="419.2" cy="651.0" r="4.2"/><circle cx="409.4" cy="649.5" r="4.2"/><circle cx="405.7" cy="653.2" r="4.2"/><circle cx="408.7" cy="656.2" r="4.2"/><circle cx="405.7" cy="659.2" r="4.2"/><circle cx="395.2" cy="658.5" r="4.2"/><circle cx="401.2" cy="663.8" r="4.2"/><circle cx="380.1" cy="660.5" r="4.2"/><circle cx="378.3" cy="648.0" r="4.2"/><circle cx="353.8" cy="648.7" r="4.2"/><circle cx="359.1" cy="650.2" r="4.2"/><circle cx="444.0" cy="664.5" r="4.2"/><circle cx="432.7" cy="669.8" r="4.2"/><circle cx="433.9" cy="675.0" r="4.2"/><circle cx="404.9" cy="671.3" r="4.2"/><circle cx="410.9" cy="669.8" r="4.2"/><circle cx="365.1" cy="664.5" r="4.2"/><circle cx="364.3" cy="675.8" r="4.2"/><circle cx="344.8" cy="633.7" r="4.2"/><circle cx="375.6" cy="634.4" r="4.2"/><circle cx="340.3" cy="684.8" r="4.2"/><circle cx="341.0" cy="692.3" r="4.2"/><circle cx="349.3" cy="694.6" r="4.2"/><circle cx="362.1" cy="701.7" r="4.2"/><circle cx="212.1" cy="704.5" r="4.2"/><circle cx="216.7" cy="704.5" r="4.2"/><circle cx="287.3" cy="702.3" r="4.2"/><circle cx="287.3" cy="707.5" r="4.2"/><circle cx="309.9" cy="706.8" r="4.2"/><circle cx="300.9" cy="719.5" r="4.2"/><circle cx="309.1" cy="718.8" r="4.2"/><circle cx="314.4" cy="716.2" r="4.2"/><circle cx="211.4" cy="722.6" r="4.2"/><circle cx="215.2" cy="727.1" r="4.2"/><circle cx="311.4" cy="727.1" r="4.2"/><circle cx="237.7" cy="730.8" r="4.2"/><circle cx="221.6" cy="737.6" r="4.2"/><circle cx="233.9" cy="746.3" r="4.2"/><circle cx="291.8" cy="731.6" r="4.2"/><circle cx="295.3" cy="737.6" r="4.2"/><circle cx="335.9" cy="736.8" r="4.2"/><circle cx="275.3" cy="742.9" r="4.2"/><circle cx="252.0" cy="733.8" r="4.2"/><circle cx="353.5" cy="737.6" r="4.2"/><circle cx="370.3" cy="709.8" r="4.2"/><circle cx="336.5" cy="736.8" r="4.2"/><circle cx="353.0" cy="739.1" r="4.2"/>
</g>
<g fill="#1a6633">
<circle cx="503.1" cy="488.1" r="4.2"/><circle cx="503.7" cy="490.7" r="4.2"/><circle cx="512.1" cy="497.3" r="4.2"/><circle cx="503.7" cy="501.2" r="4.2"/><circle cx="543.7" cy="482.1" r="4.2"/><circle cx="552.6" cy="479.7" r="4.2"/><circle cx="542.2" cy="490.7" r="4.2"/><circle cx="546.3" cy="498.9" r="4.2"/><circle cx="536.1" cy="505.3" r="4.2"/><circle cx="556.8" cy="503.9" r="4.2"/><circle cx="550.0" cy="508.4" r="4.2"/><circle cx="547.0" cy="510.7" r="4.2"/><circle cx="539.5" cy="513.5" r="4.2"/><circle cx="569.1" cy="503.6" r="4.2"/><circle cx="569.6" cy="513.5" r="4.2"/><circle cx="581.9" cy="496.7" r="4.2"/><circle cx="581.9" cy="499.7" r="4.2"/><circle cx="593.9" cy="491.1" r="4.2"/><circle cx="467.0" cy="518.0" r="4.2"/><circle cx="474.1" cy="519.2" r="4.2"/><circle cx="477.1" cy="517.0" r="4.2"/><circle cx="483.1" cy="517.4" r="4.2"/><circle cx="488.4" cy="514.4" r="4.2"/><circle cx="489.1" cy="518.0" r="4.2"/><circle cx="487.2" cy="522.3" r="4.2"/><circle cx="507.9" cy="521.1" r="4.2"/><circle cx="459.1" cy="543.3" r="4.2"/><circle cx="232.9" cy="620.5" r="4.2"/><circle cx="239.2" cy="621.7" r="4.2"/><circle cx="246.0" cy="620.2" r="4.2"/><circle cx="252.0" cy="621.4" r="4.2"/><circle cx="239.2" cy="623.9" r="4.2"/><circle cx="209.1" cy="638.9" r="4.2"/><circle cx="334.7" cy="616.8" r="4.2"/><circle cx="349.0" cy="605.1" r="4.2"/><circle cx="349.4" cy="611.1" r="4.2"/><circle cx="166.6" cy="688.6" r="4.2"/><circle cx="386.1" cy="578.3" r="4.2"/><circle cx="349.3" cy="605.1" r="4.2"/><circle cx="349.6" cy="610.4" r="4.2"/><circle cx="335.0" cy="616.8" r="4.2"/><circle cx="171.1" cy="709.0" r="4.2"/><circle cx="189.6" cy="707.2" r="4.2"/><circle cx="189.6" cy="711.3" r="4.2"/><circle cx="206.9" cy="710.2" r="4.2"/><circle cx="171.1" cy="717.3" r="4.2"/><circle cx="212.9" cy="716.8" r="4.2"/>
</g>
<g fill="#99cc14">
<circle cx="497.4" cy="528.6" r="4.2"/><circle cx="502.7" cy="523.5" r="4.2"/><circle cx="512.1" cy="525.3" r="4.2"/><circle cx="486.9" cy="548.1" r="4.2"/><circle cx="488.7" cy="553.1" r="4.2"/><circle cx="264.8" cy="643.9" r="4.2"/><circle cx="277.6" cy="644.2" r="4.2"/><circle cx="282.1" cy="642.0" r="4.2"/><circle cx="295.6" cy="641.2" r="4.2"/><circle cx="297.1" cy="648.7" r="4.2"/><circle cx="297.1" cy="654.0" r="4.2"/><circle cx="303.9" cy="657.0" r="4.2"/><circle cx="291.8" cy="660.5" r="4.2"/><circle cx="316.7" cy="661.1" r="4.2"/><circle cx="324.2" cy="647.2" r="4.2"/><circle cx="330.2" cy="645.7" r="4.2"/><circle cx="336.2" cy="647.2" r="4.2"/><circle cx="340.7" cy="648.7" r="4.2"/><circle cx="449.6" cy="577.3" r="4.2"/><circle cx="474.1" cy="589.6" r="4.2"/><circle cx="483.9" cy="599.8" r="4.2"/><circle cx="486.1" cy="602.9" r="4.2"/><circle cx="488.7" cy="605.9" r="4.2"/><circle cx="445.1" cy="606.3" r="4.2"/><circle cx="463.6" cy="606.9" r="4.2"/><circle cx="389.1" cy="605.9" r="4.2"/><circle cx="367.3" cy="610.4" r="4.2"/><circle cx="372.6" cy="618.6" r="4.2"/><circle cx="379.4" cy="626.2" r="4.2"/><circle cx="338.0" cy="646.5" r="4.2"/><circle cx="371.8" cy="649.9" r="4.2"/><circle cx="405.7" cy="645.7" r="4.2"/><circle cx="280.6" cy="709.8" r="4.2"/><circle cx="285.1" cy="720.3" r="4.2"/><circle cx="227.9" cy="738.6" r="4.2"/><circle cx="236.2" cy="736.8" r="4.2"/><circle cx="205.4" cy="741.4" r="4.2"/><circle cx="195.2" cy="744.4" r="4.2"/><circle cx="160.7" cy="760.9" r="4.2"/><circle cx="143.7" cy="790.7" r="4.2"/><circle cx="150.8" cy="795.0" r="4.2"/><circle cx="167.2" cy="795.0" r="4.2"/><circle cx="90.0" cy="806.8" r="4.2"/><circle cx="97.4" cy="816.8" r="4.2"/><circle cx="67.0" cy="819.8" r="4.2"/><circle cx="81.6" cy="824.8" r="4.2"/><circle cx="156.1" cy="822.1" r="4.2"/><circle cx="136.2" cy="837.3" r="4.2"/><circle cx="115.9" cy="841.4" r="4.2"/><circle cx="149.7" cy="848.9" r="4.2"/><circle cx="262.5" cy="732.3" r="4.2"/><circle cx="124.2" cy="853.7" r="4.2"/><circle cx="128.7" cy="852.6" r="4.2"/><circle cx="136.2" cy="852.2" r="4.2"/><circle cx="133.2" cy="855.9" r="4.2"/><circle cx="75.3" cy="857.9" r="4.2"/><circle cx="74.5" cy="865.9" r="4.2"/><circle cx="100.6" cy="868.0" r="4.2"/><circle cx="118.5" cy="865.1" r="4.2"/><circle cx="126.7" cy="865.4" r="4.2"/><circle cx="137.4" cy="869.9" r="4.2"/><circle cx="126.4" cy="877.7" r="4.2"/><circle cx="131.7" cy="878.2" r="4.2"/><circle cx="137.0" cy="881.2" r="4.2"/><circle cx="141.5" cy="877.7" r="4.2"/><circle cx="146.4" cy="886.9" r="4.2"/><circle cx="149.7" cy="886.0" r="4.2"/><circle cx="135.6" cy="895.2" r="4.2"/>
</g>
<g fill="#cc9a0f">
<circle cx="350.8" cy="544.5" r="4.2"/><circle cx="340.3" cy="553.5" r="4.2"/><circle cx="364.3" cy="548.1" r="4.2"/><circle cx="366.6" cy="544.8" r="4.2"/><circle cx="372.6" cy="549.6" r="4.2"/><circle cx="365.8" cy="553.8" r="4.2"/><circle cx="250.9" cy="541.8" r="4.2"/><circle cx="279.1" cy="550.8" r="4.2"/><circle cx="305.4" cy="544.1" r="4.2"/><circle cx="330.9" cy="543.3" r="4.2"/><circle cx="351.2" cy="544.5" r="4.2"/><circle cx="339.7" cy="554.3" r="4.2"/><circle cx="340.7" cy="552.3" r="4.2"/><circle cx="318.9" cy="563.2" r="4.2"/><circle cx="291.1" cy="579.2" r="4.2"/><circle cx="347.8" cy="591.6" r="4.2"/><circle cx="275.6" cy="612.9" r="4.2"/><circle cx="267.0" cy="618.3" r="4.2"/><circle cx="271.5" cy="617.9" r="4.2"/><circle cx="285.8" cy="620.5" r="4.2"/><circle cx="297.4" cy="613.4" r="4.2"/><circle cx="298.3" cy="623.2" r="4.2"/><circle cx="306.4" cy="617.4" r="4.2"/><circle cx="320.4" cy="617.1" r="4.2"/><circle cx="328.7" cy="612.2" r="4.2"/><circle cx="285.1" cy="639.7" r="4.2"/><circle cx="299.4" cy="639.7" r="4.2"/><circle cx="305.4" cy="638.2" r="4.2"/><circle cx="303.1" cy="646.5" r="4.2"/><circle cx="249.4" cy="648.3" r="4.2"/><circle cx="343.7" cy="638.2" r="4.2"/><circle cx="315.6" cy="647.7" r="4.2"/><circle cx="332.1" cy="651.0" r="4.2"/><circle cx="343.0" cy="650.2" r="4.2"/><circle cx="340.0" cy="656.2" r="4.2"/><circle cx="350.5" cy="654.7" r="4.2"/><circle cx="342.2" cy="670.8" r="4.2"/><circle cx="199.8" cy="692.0" r="4.2"/><circle cx="349.7" cy="685.6" r="4.2"/><circle cx="347.8" cy="591.6" r="4.2"/><circle cx="383.1" cy="611.1" r="4.2"/><circle cx="366.6" cy="628.4" r="4.2"/><circle cx="420.7" cy="629.2" r="4.2"/><circle cx="410.9" cy="630.7" r="4.2"/><circle cx="446.6" cy="630.7" r="4.2"/><circle cx="457.6" cy="633.2" r="4.2"/><circle cx="344.0" cy="637.9" r="4.2"/><circle cx="419.2" cy="638.5" r="4.2"/><circle cx="411.4" cy="642.0" r="4.2"/><circle cx="367.3" cy="647.2" r="4.2"/><circle cx="342.5" cy="650.2" r="4.2"/><circle cx="339.5" cy="654.7" r="4.2"/><circle cx="350.0" cy="654.7" r="4.2"/><circle cx="385.8" cy="653.7" r="4.2"/><circle cx="426.7" cy="655.5" r="4.2"/><circle cx="423.0" cy="660.0" r="4.2"/><circle cx="438.0" cy="668.0" r="4.2"/><circle cx="342.2" cy="670.5" r="4.2"/><circle cx="368.8" cy="673.1" r="4.2"/><circle cx="374.1" cy="672.5" r="4.2"/><circle cx="394.8" cy="676.1" r="4.2"/><circle cx="350.0" cy="685.6" r="4.2"/><circle cx="437.3" cy="685.9" r="4.2"/><circle cx="414.7" cy="696.1" r="4.2"/><circle cx="419.2" cy="698.3" r="4.2"/><circle cx="339.5" cy="702.1" r="4.2"/><circle cx="345.5" cy="705.1" r="4.2"/><circle cx="387.6" cy="705.9" r="4.2"/><circle cx="356.8" cy="708.9" r="4.2"/><circle cx="418.5" cy="705.1" r="4.2"/><circle cx="411.7" cy="708.1" r="4.2"/><circle cx="438.0" cy="708.1" r="4.2"/><circle cx="227.2" cy="709.8" r="4.2"/><circle cx="249.0" cy="709.0" r="4.2"/><circle cx="253.5" cy="704.5" r="4.2"/><circle cx="246.7" cy="715.8" r="4.2"/><circle cx="171.5" cy="721.8" r="4.2"/><circle cx="202.1" cy="722.6" r="4.2"/><circle cx="199.4" cy="727.8" r="4.2"/><circle cx="212.4" cy="730.8" r="4.2"/><circle cx="230.9" cy="732.8" r="4.2"/><circle cx="252.0" cy="722.6" r="4.2"/><circle cx="293.3" cy="716.5" r="4.2"/><circle cx="325.7" cy="706.8" r="4.2"/><circle cx="321.9" cy="714.3" r="4.2"/><circle cx="339.2" cy="703.0" r="4.2"/><circle cx="346.7" cy="707.5" r="4.2"/><circle cx="339.2" cy="724.1" r="4.2"/><circle cx="346.0" cy="725.6" r="4.2"/><circle cx="310.6" cy="733.8" r="4.2"/><circle cx="349.3" cy="741.8" r="4.2"/><circle cx="338.9" cy="757.4" r="4.2"/><circle cx="286.1" cy="761.4" r="4.2"/><circle cx="127.2" cy="750.4" r="4.2"/><circle cx="86.1" cy="763.2" r="4.2"/><circle cx="102.8" cy="763.9" r="4.2"/><circle cx="184.3" cy="762.4" r="4.2"/><circle cx="74.5" cy="784.2" r="4.2"/><circle cx="95.2" cy="791.0" r="4.2"/><circle cx="131.4" cy="796.2" r="4.2"/><circle cx="131.7" cy="803.5" r="4.2"/><circle cx="127.9" cy="813.5" r="4.2"/><circle cx="123.0" cy="822.1" r="4.2"/><circle cx="151.7" cy="810.5" r="4.2"/><circle cx="162.5" cy="821.5" r="4.2"/><circle cx="218.9" cy="807.2" r="4.2"/><circle cx="208.4" cy="815.8" r="4.2"/><circle cx="204.3" cy="821.5" r="4.2"/><circle cx="217.1" cy="821.8" r="4.2"/><circle cx="230.5" cy="815.0" r="4.2"/><circle cx="291.5" cy="802.7" r="4.2"/><circle cx="339.5" cy="703.0" r="4.2"/><circle cx="345.5" cy="707.2" r="4.2"/><circle cx="356.8" cy="709.8" r="4.2"/><circle cx="387.3" cy="706.8" r="4.2"/><circle cx="391.4" cy="713.8" r="4.2"/><circle cx="411.7" cy="709.8" r="4.2"/><circle cx="418.0" cy="705.3" r="4.2"/><circle cx="429.4" cy="713.8" r="4.2"/><circle cx="437.7" cy="708.3" r="4.2"/><circle cx="430.5" cy="722.3" r="4.2"/><circle cx="453.8" cy="721.5" r="4.2"/><circle cx="456.8" cy="719.5" r="4.2"/><circle cx="475.6" cy="720.0" r="4.2"/><circle cx="339.5" cy="724.1" r="4.2"/><circle cx="346.3" cy="725.6" r="4.2"/><circle cx="374.4" cy="725.3" r="4.2"/><circle cx="376.8" cy="734.3" r="4.2"/><circle cx="392.4" cy="734.9" r="4.2"/><circle cx="357.6" cy="736.4" r="4.2"/><circle cx="349.3" cy="741.7" r="4.2"/><circle cx="365.8" cy="746.6" r="4.2"/><circle cx="339.2" cy="757.4" r="4.2"/><circle cx="363.6" cy="759.8" r="4.2"/><circle cx="371.8" cy="757.1" r="4.2"/><circle cx="377.1" cy="757.1" r="4.2"/>
</g>
<g fill="#d40000">
<circle cx="261.0" cy="701.4" r="4.2"/><circle cx="261.0" cy="702.3" r="4.2"/><circle cx="226.4" cy="715.0" r="4.2"/><circle cx="233.2" cy="719.5" r="4.2"/><circle cx="244.2" cy="727.5" r="4.2"/><circle cx="253.5" cy="733.8" r="4.2"/><circle cx="258.0" cy="735.3" r="4.2"/><circle cx="286.6" cy="713.5" r="4.2"/><circle cx="301.6" cy="710.8" r="4.2"/><circle cx="286.3" cy="731.6" r="4.2"/><circle cx="287.8" cy="741.4" r="4.2"/><circle cx="270.0" cy="740.6" r="4.2"/><circle cx="279.8" cy="746.3" r="4.2"/><circle cx="240.7" cy="748.9" r="4.2"/><circle cx="283.6" cy="755.3" r="4.2"/><circle cx="298.6" cy="750.1" r="4.2"/><circle cx="316.7" cy="743.3" r="4.2"/><circle cx="322.7" cy="749.6" r="4.2"/><circle cx="327.2" cy="752.6" r="4.2"/><circle cx="349.7" cy="727.8" r="4.2"/><circle cx="177.6" cy="769.9" r="4.2"/><circle cx="187.0" cy="770.7" r="4.2"/><circle cx="188.1" cy="775.9" r="4.2"/><circle cx="196.4" cy="772.2" r="4.2"/><circle cx="199.1" cy="763.5" r="4.2"/><circle cx="199.4" cy="767.7" r="4.2"/><circle cx="203.1" cy="771.4" r="4.2"/><circle cx="209.9" cy="769.2" r="4.2"/><circle cx="212.9" cy="765.4" r="4.2"/><circle cx="217.4" cy="762.0" r="4.2"/><circle cx="225.7" cy="757.9" r="4.2"/><circle cx="224.9" cy="763.2" r="4.2"/><circle cx="230.2" cy="766.2" r="4.2"/><circle cx="228.7" cy="771.4" r="4.2"/><circle cx="237.0" cy="765.0" r="4.2"/><circle cx="233.9" cy="770.7" r="4.2"/><circle cx="237.7" cy="777.1" r="4.2"/><circle cx="253.5" cy="772.6" r="4.2"/><circle cx="267.0" cy="770.2" r="4.2"/><circle cx="280.9" cy="779.4" r="4.2"/><circle cx="297.9" cy="778.5" r="4.2"/><circle cx="317.4" cy="780.5" r="4.2"/><circle cx="349.7" cy="727.8" r="4.2"/><circle cx="364.3" cy="729.6" r="4.2"/><circle cx="362.1" cy="733.1" r="4.2"/><circle cx="380.4" cy="727.8" r="4.2"/>
</g>
<line x1="58.5" y1="945.7" x2="629.5" y2="375.0" stroke="#000" stroke-width="2" stroke-dasharray="8.2 6.9"/>
<path d="M119.4,681.1H588.8M323.7,575.8V812.0M119.4,675.1v12M588.8,675.1v12M317.7,575.8h12M317.7,812.0h12" stroke="#b3b3b3" stroke-width="2" fill="none"/>
<path d="M192.6,583.3H560.6M369.1,449.3V707.8M192.6,577.3v12M560.6,577.3v12M363.1,449.3h12M363.1,707.8h12" stroke="#0f26d9" stroke-width="2" fill="none"/>
<path d="M201.9,634.1H624.5M395.9,523.5V746.6M201.9,628.1v12M624.5,628.1v12M389.9,523.5h12M389.9,746.6h12" stroke="#1acccc" stroke-width="2" fill="none"/>
<path d="M166.6,562.1H593.9M416.4,479.7V717.7M166.6,556.1v12M593.9,556.1v12M410.4,479.7h12M410.4,717.7h12" stroke="#1a6633" stroke-width="2" fill="none"/>
<path d="M67.0,718.3H512.1M267.3,523.5V895.2M67.0,712.3v12M512.1,712.3v12M261.3,523.5h12M261.3,895.2h12" stroke="#99cc14" stroke-width="2" fill="none"/>
<path d="M74.5,686.8H475.6M315.2,541.8V822.6M74.5,680.8v12M475.6,680.8v12M309.2,541.8h12M309.2,822.6h12" stroke="#cc9a0f" stroke-width="2" fill="none"/>
<path d="M178.0,751.9H380.6M259.6,722.9V780.9M178.0,745.9v12M380.6,745.9v12M253.60000000000002,722.9h12M253.60000000000002,780.9h12" stroke="#d40000" stroke-width="2" fill="none"/>
</g>
<circle cx="324.2" cy="682.1" r="13.6" fill="#b3b3b3" stroke="#000" stroke-width="1.6"/>
<circle cx="369.1" cy="583.3" r="14" fill="#fff" stroke="#000" stroke-width="1.8"/>
<text x="369.1" y="590.5" font-size="21" text-anchor="middle">1</text>
<circle cx="395.9" cy="634.1" r="14" fill="#fff" stroke="#000" stroke-width="1.8"/>
<text x="395.9" y="641.3" font-size="21" text-anchor="middle">2</text>
<circle cx="416.4" cy="562.1" r="14" fill="#fff" stroke="#000" stroke-width="1.8"/>
<text x="416.4" y="569.3" font-size="21" text-anchor="middle">3</text>
<circle cx="259.8" cy="751.9" r="14" fill="#fff" stroke="#000" stroke-width="1.8"/>
<text x="259.8" y="759.1" font-size="21" text-anchor="middle">6</text>
<circle cx="267.3" cy="718.3" r="14" fill="#fff" stroke="#000" stroke-width="1.8"/>
<text x="267.3" y="725.5" font-size="21" text-anchor="middle">4</text>
<circle cx="315.6" cy="687.1" r="14" fill="#fff" stroke="#000" stroke-width="1.8"/>
<text x="315.6" y="694.3" font-size="21" text-anchor="middle">5</text>
<rect x="58.5" y="375.0" width="571.0" height="570.7" fill="none" stroke="#3c3c3c" stroke-width="1.5"/>
<line x1="84.5" y1="945.7" x2="84.5" y2="939.7" stroke="#3c3c3c" stroke-width="1.2"/>
<line x1="84.5" y1="375.0" x2="84.5" y2="381.0" stroke="#3c3c3c" stroke-width="1.2"/>
<text x="84.5" y="973.3" font-size="21" text-anchor="middle">-2</text>
<line x1="58.5" y1="919.6" x2="64.5" y2="919.6" stroke="#3c3c3c" stroke-width="1.2"/>
<line x1="629.5" y1="919.6" x2="623.5" y2="919.6" stroke="#3c3c3c" stroke-width="1.2"/>
<text x="50" y="926.9" font-size="21" text-anchor="end">-2</text>
<line x1="214.2" y1="945.7" x2="214.2" y2="939.7" stroke="#3c3c3c" stroke-width="1.2"/>
<line x1="214.2" y1="375.0" x2="214.2" y2="381.0" stroke="#3c3c3c" stroke-width="1.2"/>
<text x="214.2" y="973.3" font-size="21" text-anchor="middle">-1</text>
<line x1="58.5" y1="790.0" x2="64.5" y2="790.0" stroke="#3c3c3c" stroke-width="1.2"/>
<line x1="629.5" y1="790.0" x2="623.5" y2="790.0" stroke="#3c3c3c" stroke-width="1.2"/>
<text x="50" y="797.3" font-size="21" text-anchor="end">-1</text>
<line x1="344.0" y1="945.7" x2="344.0" y2="939.7" stroke="#3c3c3c" stroke-width="1.2"/>
<line x1="344.0" y1="375.0" x2="344.0" y2="381.0" stroke="#3c3c3c" stroke-width="1.2"/>
<text x="344.0" y="973.3" font-size="21" text-anchor="middle">0</text>
<line x1="58.5" y1="660.4" x2="64.5" y2="660.4" stroke="#3c3c3c" stroke-width="1.2"/>
<line x1="629.5" y1="660.4" x2="623.5" y2="660.4" stroke="#3c3c3c" stroke-width="1.2"/>
<text x="50" y="667.7" font-size="21" text-anchor="end">0</text>
<line x1="473.8" y1="945.7" x2="473.8" y2="939.7" stroke="#3c3c3c" stroke-width="1.2"/>
<line x1="473.8" y1="375.0" x2="473.8" y2="381.0" stroke="#3c3c3c" stroke-width="1.2"/>
<text x="473.8" y="973.3" font-size="21" text-anchor="middle">1</text>
<line x1="58.5" y1="530.8" x2="64.5" y2="530.8" stroke="#3c3c3c" stroke-width="1.2"/>
<line x1="629.5" y1="530.8" x2="623.5" y2="530.8" stroke="#3c3c3c" stroke-width="1.2"/>
<text x="50" y="538.1" font-size="21" text-anchor="end">1</text>
<line x1="603.5" y1="945.7" x2="603.5" y2="939.7" stroke="#3c3c3c" stroke-width="1.2"/>
<line x1="603.5" y1="375.0" x2="603.5" y2="381.0" stroke="#3c3c3c" stroke-width="1.2"/>
<text x="603.5" y="973.3" font-size="21" text-anchor="middle">2</text>
<line x1="58.5" y1="401.2" x2="64.5" y2="401.2" stroke="#3c3c3c" stroke-width="1.2"/>
<line x1="629.5" y1="401.2" x2="623.5" y2="401.2" stroke="#3c3c3c" stroke-width="1.2"/>
<text x="50" y="408.5" font-size="21" text-anchor="end">2</text>
<text transform="translate(20.5,660.5) rotate(-90)" font-size="21" text-anchor="middle">SRI</text>
<text x="344" y="1000.3" font-size="21" text-anchor="middle" textLength="46" lengthAdjust="spacingAndGlyphs">SPEI</text>
<text x="562.3" y="408.4" font-size="21" textLength="27" lengthAdjust="spacingAndGlyphs">1:1</text>
<text x="67.5" y="412.2" font-size="30" font-weight="bold">b</text>
<rect x="356.5" y="851" width="264" height="83.3" fill="#fbfbfb" stroke="#3c3c3c" stroke-width="1.3"/>
<circle cx="392.6" cy="879.7" r="5.7" fill="#808080"/>
<circle cx="392.6" cy="917.8" r="10.3" fill="#fff" stroke="#000" stroke-width="1.6"/>
<text x="427.8" y="874.7" font-size="21">Discharge weighted</text>
<text x="427.8" y="900.1" font-size="21">monthly means</text>
<text x="427.8" y="925.8" font-size="21">Mean of periods</text>
</g>
<g id="panel-c">
<rect x="724.5" y="603.2" width="570.8" height="342.5" fill="#fff" stroke="none" stroke-width="1"/>
<clipPath id="clipc"><rect x="724.5" y="603.2" width="570.8" height="344.5"/></clipPath>
<rect x="724.5" y="603.2" width="570.8" height="342.5" fill="none" stroke="#3c3c3c" stroke-width="1.5"/>
<g clip-path="url(#clipc)" fill="none" stroke-linejoin="round">
<polyline points="810.0,945.7 811.4,945.4 812.7,945.1 814.1,944.8 815.5,944.5 816.9,944.1 818.2,943.8 819.6,943.3 821.0,942.8 822.4,941.9 823.9,940.7 825.4,939.2 826.8,937.4 828.3,935.4 829.8,932.9 831.2,929.6 832.7,925.8 834.2,921.5 835.6,917.0 837.0,912.4 838.4,907.0 839.8,901.2 841.1,895.0 842.5,888.4 843.9,881.2 845.3,873.6 846.6,865.6 848.0,857.2 849.4,848.3 850.8,838.9 852.1,828.8 853.5,817.8 854.9,805.7 856.3,793.3 857.6,781.1 859.0,768.9 860.4,756.7 861.8,744.7 863.1,733.3 864.5,722.3 865.9,711.5 867.3,701.5 868.6,692.9 870.1,684.8 871.6,677.8 873.0,672.7 874.3,669.6 875.5,667.1 876.7,665.7 878.2,664.9 879.6,664.6 880.9,665.0 882.1,665.9 883.3,667.1 884.7,668.9 886.0,671.3 887.4,674.4 888.8,678.2 890.0,682.9 891.2,689.2 892.5,696.5 893.7,705.1 894.9,715.2 896.1,725.9 897.4,737.3 898.6,749.6 899.8,762.7 901.0,776.9 902.2,792.1 903.5,806.8 904.7,820.8 905.9,834.5 907.1,847.2 908.4,859.0 909.6,870.1 910.8,880.3 912.0,889.9 913.2,898.8 914.5,906.0 915.8,912.4 917.2,918.0 918.6,922.7 920.0,926.2 921.4,929.2 922.9,931.8 924.4,934.0 925.8,935.8 927.3,937.2 928.7,938.4 930.0,939.4 931.4,940.4 932.8,941.2 934.2,941.9 935.5,942.6 936.9,943.1 938.3,943.5 939.8,943.8 941.2,944.1 942.7,944.4 944.2,944.6 945.6,944.8 947.1,945.0 948.6,945.1 950.0,945.3 951.5,945.5 953.0,945.7" stroke="#b3b3b3" stroke-width="3.2"/>
<polyline points="724.6,945.7 726.0,945.7 727.5,945.7 729.0,945.6 730.5,945.6 731.9,945.6 733.4,945.6 734.9,945.6 736.4,945.5 737.9,945.5 739.3,945.5 740.8,945.5 742.3,945.5 743.8,945.5 745.2,945.4 746.7,945.4 748.2,945.4 749.7,945.4 751.2,945.4 752.6,945.3 754.1,945.3 755.6,945.3 757.1,945.3 758.5,945.3 760.0,945.2 761.5,945.2 763.0,945.2 764.5,945.2 765.9,945.1 767.4,945.1 768.9,945.1 770.4,945.0 771.8,945.0 773.3,945.0 774.8,944.9 776.3,944.9 777.7,944.8 779.2,944.8 780.7,944.7 782.1,944.7 783.6,944.6 785.1,944.6 786.5,944.5 788.0,944.4 789.5,944.4 790.9,944.3 792.4,944.2 793.8,944.1 795.3,944.0 796.8,943.9 798.2,943.8 799.7,943.7 801.2,943.6 802.6,943.5 804.1,943.4 805.6,943.2 807.0,943.0 808.5,942.8 810.0,942.5 811.4,942.2 812.9,942.0 814.4,941.6 815.8,941.3 817.3,941.0 818.8,940.6 820.2,940.2 821.7,939.9 823.2,939.5 824.6,939.1 826.1,938.7 827.6,938.2 829.0,937.8 830.5,937.3 832.0,936.8 833.4,936.2 834.9,935.6 836.4,935.0 837.8,934.3 839.3,933.6 840.8,932.8 842.2,931.9 843.7,930.9 845.2,929.9 846.6,928.8 848.1,927.6 849.6,926.4 851.0,925.2 852.5,923.9 854.0,922.5 855.4,921.2 856.9,919.7 858.4,918.1 859.8,916.5 861.3,914.8 862.8,913.1 864.2,911.3 865.7,909.5 867.2,907.8 868.6,906.0 870.1,904.3 871.6,902.5 873.0,900.8 874.5,899.1 876.0,897.3 877.4,895.5 878.9,893.6 880.4,891.7 881.8,889.7 883.3,887.6 884.7,885.6 886.0,883.4 887.4,881.1 888.8,878.8 890.2,876.4 891.5,874.0 892.9,871.6 894.3,869.3 895.7,867.0 897.0,864.6 898.4,862.3 899.8,859.9 901.2,857.6 902.5,855.3 903.9,853.1 905.3,850.9 906.8,848.6 908.2,846.4 909.7,844.2 911.2,842.1 912.6,839.9 914.1,837.7 915.6,835.5 917.0,833.2 918.5,831.0 920.0,828.8 921.4,826.6 922.9,824.2 924.4,821.9 925.8,819.7 927.3,817.8 928.8,816.1 930.2,814.4 931.7,812.9 933.2,811.6 934.6,810.5 936.0,809.6 937.4,808.8 938.7,808.1 940.1,807.5 941.5,807.0 942.9,806.5 944.2,806.2 945.6,806.1 947.0,806.1 948.4,806.3 949.7,806.5 951.1,806.8 952.5,807.3 953.9,808.1 955.2,809.2 956.6,810.5 958.0,812.1 959.4,814.4 960.7,817.0 962.1,819.7 963.6,822.6 965.1,825.8 966.5,829.2 968.0,832.7 969.5,836.2 970.9,839.7 972.4,843.3 973.8,847.0 975.3,850.7 976.8,854.6 978.1,858.1 979.4,861.8 980.7,865.6 982.0,869.4 983.3,873.1 984.6,876.8 985.9,880.3 987.3,883.7 988.6,887.0 989.9,890.3 991.2,893.5 992.5,896.6 993.8,899.5 995.1,902.3 996.4,905.0 997.7,907.5 999.0,910.0 1000.3,912.4 1001.7,914.6 1003.0,916.8 1004.3,918.9 1005.7,921.0 1007.0,923.1 1008.4,925.1 1009.8,927.1 1011.2,929.0 1012.5,930.7 1013.9,932.2 1015.3,933.6 1016.6,934.8 1018.0,935.9 1019.4,936.9 1020.8,937.9 1022.1,938.8 1023.5,939.6 1024.9,940.3 1026.3,940.9 1027.7,941.5 1029.2,942.1 1030.7,942.6 1032.1,943.1 1033.6,943.5 1035.1,944.0 1036.5,944.3 1038.0,944.6 1039.5,944.8 1040.9,945.0 1042.3,945.1 1043.8,945.2 1045.2,945.2 1046.6,945.3 1048.0,945.4 1049.4,945.5 1050.8,945.5 1052.2,945.6 1053.6,945.6 1055.0,945.7 1056.4,945.7 1057.9,945.7 1059.3,945.7 1060.7,945.7 1062.1,945.7 1063.5,945.7 1064.9,945.7 1066.4,945.7 1067.8,945.7 1069.2,945.7 1070.6,945.7 1072.0,945.7 1073.5,945.7 1074.9,945.7 1076.3,945.7 1077.7,945.7 1079.1,945.7 1080.6,945.7 1082.0,945.7" stroke="#0f26d9" stroke-width="3.2"/>
<polyline points="784.3,945.7 785.7,945.4 787.1,945.1 788.4,944.8 789.8,944.5 791.2,944.1 792.6,943.8 793.9,943.3 795.3,942.8 796.8,941.9 798.2,940.6 799.7,939.0 801.2,937.3 802.6,935.4 804.1,933.4 805.6,931.0 807.0,928.4 808.5,925.6 810.0,922.5 811.4,919.3 812.9,915.6 814.4,911.7 815.8,907.2 817.3,902.3 818.7,897.0 820.1,890.7 821.4,883.8 822.8,876.6 824.2,869.1 825.6,861.2 826.9,852.7 828.3,843.5 829.7,833.6 831.1,822.7 832.4,811.2 833.8,799.4 835.2,787.0 836.6,774.0 837.9,760.8 839.3,748.0 840.7,735.5 842.1,723.1 843.4,711.2 844.8,700.2 846.2,689.8 847.6,679.7 848.9,670.7 850.3,663.5 851.5,658.1 852.7,653.5 854.0,650.6 855.3,648.8 856.5,648.0 858.0,648.8 859.5,650.6 860.7,653.4 861.9,658.0 863.1,663.5 864.4,670.5 865.6,679.5 866.8,689.2 868.0,699.6 869.2,710.9 870.5,722.3 871.8,735.0 873.2,747.9 874.6,760.8 876.0,773.7 877.3,786.8 878.7,799.9 880.1,812.9 881.5,825.2 882.8,837.0 884.2,848.4 885.6,859.3 887.0,869.3 888.3,878.5 889.7,887.2 891.1,895.2 892.5,902.3 893.8,908.8 895.2,914.8 896.6,920.1 898.0,924.4 899.4,928.2 900.9,931.7 902.4,934.7 903.8,937.2 905.3,939.1 906.8,940.5 908.2,941.8 909.7,942.9 911.2,943.7 912.6,944.2 914.0,944.5 915.4,944.8 916.8,945.1 918.1,945.3 919.5,945.5 920.9,945.6 922.3,945.7 923.6,945.7 925.1,945.7 926.6,945.7 928.0,945.7 929.5,945.7 931.0,945.7" stroke="#1acccc" stroke-width="3.2"/>
<polyline points="957.3,945.7 958.7,945.4 960.1,945.1 961.5,944.8 962.8,944.5 964.2,944.2 965.6,943.8 967.0,943.3 968.3,942.8 969.6,942.0 970.9,940.9 972.3,939.4 973.6,937.8 974.9,935.9 976.2,933.9 977.5,931.7 979.0,929.1 980.4,926.0 981.9,922.3 983.4,918.1 984.8,913.4 986.2,907.7 987.6,900.7 989.0,892.6 990.3,884.0 991.7,874.6 993.1,864.1 994.5,852.5 995.8,839.9 997.2,825.3 998.6,808.9 999.9,791.4 1001.3,773.7 1002.7,755.7 1004.1,737.0 1005.4,718.2 1006.8,700.2 1008.2,682.7 1009.6,665.5 1010.9,649.0 1012.3,634.1 1013.5,622.0 1014.8,610.9 1016.0,601.0 1017.1,592.6 1018.2,586.3 1019.3,582.5 1020.4,580.8 1021.5,582.5 1022.6,586.3 1023.9,593.9 1025.2,604.7 1026.4,616.8 1027.6,630.9 1028.8,645.1 1030.2,660.3 1031.6,675.6 1032.9,691.2 1034.3,707.6 1035.7,725.3 1037.1,744.1 1038.4,763.0 1039.8,781.1 1041.2,798.5 1042.6,815.6 1043.9,832.0 1045.3,847.2 1046.7,861.6 1048.1,875.5 1049.4,888.1 1050.8,898.7 1052.2,907.8 1053.6,916.0 1054.9,923.0 1056.3,928.1 1057.7,931.8 1059.1,934.9 1060.4,937.4 1061.8,939.1 1063.1,940.2 1064.4,941.2 1065.7,942.1 1067.0,942.8 1068.4,943.4 1069.7,943.9 1071.0,944.2 1072.4,944.5 1073.8,944.7 1075.3,944.9 1076.7,945.0 1078.1,945.2 1079.5,945.3 1081.0,945.4 1082.4,945.5 1083.8,945.7" stroke="#14602a" stroke-width="3.2"/>
<polyline points="1104.0,945.7 1105.4,945.5 1106.8,945.4 1108.2,945.3 1109.6,945.1 1111.0,945.0 1112.4,944.9 1113.8,944.8 1115.3,944.6 1116.7,944.4 1118.1,944.3 1119.5,944.0 1120.9,943.8 1122.3,943.5 1123.8,943.0 1125.2,942.4 1126.7,941.5 1128.2,940.4 1129.6,939.1 1131.1,937.3 1132.6,934.8 1134.0,931.8 1135.5,928.2 1137.0,924.4 1138.3,920.0 1139.7,914.6 1141.1,908.6 1142.5,902.3 1143.8,895.8 1145.2,888.7 1146.6,881.1 1148.0,872.9 1149.3,863.9 1150.7,853.9 1152.1,843.4 1153.5,832.5 1154.8,821.2 1156.2,809.3 1157.6,797.1 1159.0,784.7 1160.3,772.1 1161.7,759.0 1163.1,746.0 1164.5,733.3 1165.8,720.8 1167.2,708.4 1168.6,696.5 1170.0,685.5 1171.3,675.3 1172.7,665.6 1174.1,656.7 1175.5,648.8 1176.7,642.1 1177.9,636.1 1179.1,632.2 1180.6,629.7 1182.1,628.6 1183.3,629.7 1184.6,632.2 1185.8,636.1 1187.1,641.9 1188.3,648.8 1189.5,657.0 1190.7,667.1 1192.0,678.2 1193.4,692.9 1194.9,709.3 1196.4,725.9 1197.5,739.6 1198.7,753.5 1199.9,767.5 1201.1,781.1 1202.5,796.5 1203.9,811.8 1205.2,826.5 1206.6,839.9 1208.0,852.3 1209.4,864.2 1210.7,874.9 1212.1,884.0 1213.5,891.6 1214.9,898.5 1216.2,904.5 1217.6,909.7 1219.1,914.7 1220.5,919.3 1222.0,923.5 1223.5,927.0 1224.9,929.9 1226.3,932.0 1227.6,934.0 1228.9,935.8 1230.2,937.4 1231.5,938.8 1232.8,940.0 1234.1,940.9 1235.4,941.7 1236.7,942.5 1238.0,943.2 1239.4,943.8 1240.7,944.3 1242.0,944.7 1243.3,945.0 1244.7,945.2 1246.2,945.3 1247.7,945.4 1249.1,945.6 1250.6,945.7" stroke="#99cc14" stroke-width="3.2"/>
<polyline points="782.5,945.7 783.9,945.7 785.4,945.6 786.8,945.6 788.3,945.6 789.7,945.5 791.2,945.5 792.6,945.5 794.1,945.5 795.5,945.4 797.0,945.4 798.4,945.4 799.8,945.3 801.3,945.3 802.7,945.2 804.2,945.2 805.6,945.1 807.1,945.1 808.5,945.0 810.0,945.0 811.4,944.9 812.8,944.8 814.2,944.6 815.6,944.5 817.0,944.3 818.4,944.1 819.8,943.9 821.3,943.6 822.7,943.3 824.1,943.0 825.5,942.7 826.9,942.4 828.3,942.0 829.8,941.6 831.2,941.1 832.7,940.4 834.2,939.7 835.6,938.9 837.1,938.0 838.6,937.0 840.0,935.9 841.5,934.8 843.0,933.6 844.3,932.2 845.7,930.6 847.1,928.7 848.5,926.7 849.8,924.4 851.2,922.0 852.6,919.5 854.0,917.0 855.3,914.4 856.7,911.5 858.1,908.4 859.5,905.1 860.8,901.7 862.2,898.2 863.6,894.8 865.0,891.3 866.3,887.8 867.7,884.2 869.1,880.6 870.5,876.9 871.8,873.1 873.2,869.4 874.6,865.6 876.0,861.9 877.3,858.2 878.7,854.6 880.1,851.0 881.5,847.3 882.8,843.6 884.2,840.0 885.6,836.3 887.0,832.5 888.3,828.9 889.6,825.2 890.9,821.4 892.2,817.7 893.5,814.0 894.8,810.3 896.1,806.8 897.6,802.9 899.1,799.1 900.5,795.4 902.0,791.8 903.5,788.4 904.9,785.1 906.4,781.7 907.9,778.6 909.3,775.8 910.8,773.7 912.2,772.1 913.5,770.7 914.9,769.6 916.3,768.9 917.5,768.6 918.7,768.3 920.0,768.2 921.3,768.4 922.7,768.8 924.1,769.4 925.5,770.0 926.9,771.0 928.4,772.2 929.9,773.8 931.3,775.5 932.8,777.4 934.3,779.4 935.7,781.8 937.2,784.4 938.7,787.2 940.1,790.3 941.6,793.6 943.1,797.5 944.5,801.6 946.0,806.0 947.5,810.5 948.9,815.2 950.4,820.1 951.9,825.4 953.3,830.7 954.8,836.2 956.3,841.9 957.7,847.9 959.2,853.9 960.7,859.9 962.1,865.6 963.6,871.0 965.1,876.3 966.5,881.5 968.0,886.5 969.5,891.3 970.9,896.1 972.4,900.8 973.8,905.3 975.3,909.6 976.8,913.4 978.2,916.8 979.7,920.0 981.2,923.0 982.6,925.7 984.1,928.1 985.4,930.0 986.7,931.9 988.0,933.7 989.4,935.3 990.7,936.8 992.0,938.1 993.3,939.1 994.7,940.0 996.0,940.9 997.4,941.6 998.8,942.4 1000.2,943.0 1001.5,943.5 1002.9,943.9 1004.3,944.2 1005.7,944.5 1007.2,944.7 1008.7,944.9 1010.1,945.1 1011.6,945.3 1013.1,945.4 1014.5,945.5 1016.0,945.6 1017.5,945.7 1018.9,945.7 1020.4,945.7 1021.9,945.7 1023.4,945.7 1024.9,945.7 1026.4,945.7 1027.9,945.7 1029.4,945.7 1030.9,945.7 1032.4,945.7 1033.9,945.7 1035.4,945.7" stroke="#cc9a0f" stroke-width="3.2"/>
<polyline points="724.6,945.7 726.1,945.6 727.6,945.6 729.0,945.6 730.5,945.5 732.0,945.5 733.5,945.4 735.0,945.4 736.5,945.4 738.0,945.3 739.5,945.2 741.0,945.2 742.5,945.1 744.0,945.0 745.4,944.8 746.7,944.4 748.1,943.9 749.5,943.2 750.9,942.6 752.2,942.0 753.6,941.4 755.0,940.9 756.5,940.5 757.9,940.1 759.4,939.7 760.9,939.3 762.3,939.1 763.6,938.9 764.9,938.9 766.2,938.8 767.6,938.7 768.9,938.6 770.2,938.5 771.5,938.4 773.0,937.9 774.4,937.2 775.9,936.2 777.4,934.9 778.8,933.6 780.3,931.8 781.8,929.5 783.2,926.7 784.7,923.8 786.2,920.7 787.6,917.5 789.1,914.1 790.5,910.4 792.0,906.5 793.5,902.3 794.9,897.8 796.4,893.0 797.9,887.8 799.3,882.3 800.8,876.6 802.3,870.7 803.7,864.4 805.2,857.8 806.7,850.9 808.1,843.5 809.6,835.6 811.1,827.1 812.5,818.2 814.0,808.9 815.5,799.4 816.9,789.7 818.4,779.6 819.9,769.1 821.3,758.6 822.8,748.0 824.2,737.9 825.6,727.6 826.9,717.4 828.3,707.6 829.5,698.6 830.8,689.9 832.0,683.7 833.2,679.6 834.4,676.5 835.6,675.2 836.9,675.9 838.1,677.7 839.3,680.0 840.5,684.0 841.8,690.0 843.0,696.5 844.2,703.3 845.4,710.8 846.6,718.6 848.0,727.5 849.4,736.7 850.8,746.1 852.1,755.3 853.5,764.6 854.9,774.0 856.3,783.2 857.6,792.1 859.0,800.7 860.4,809.1 861.8,817.3 863.1,825.2 864.5,832.8 865.9,840.3 867.3,847.6 868.6,854.6 870.0,861.3 871.4,867.9 872.8,874.2 874.1,880.3 875.5,886.2 876.9,892.0 878.3,897.5 879.6,902.3 881.1,907.0 882.6,911.4 884.0,915.5 885.5,919.2 887.0,922.5 888.4,925.6 889.9,928.6 891.4,931.2 892.8,933.5 894.3,935.4 895.6,936.8 896.9,938.1 898.2,939.3 899.5,940.4 900.8,941.3 902.2,942.1 903.5,942.8 904.8,943.3 906.1,943.8 907.4,944.2 908.7,944.6 910.0,945.0 911.3,945.2 912.6,945.3 914.0,945.4 915.4,945.5 916.8,945.5 918.1,945.6 919.5,945.6 920.9,945.6 922.3,945.7 923.6,945.7" stroke="#cc0000" stroke-width="3.2"/>
<polyline points="758.7,945.7 760.2,945.4 761.7,945.1 763.2,944.9 764.7,944.7 766.2,944.4 767.7,944.2 769.2,944.0 770.7,943.8 772.2,943.6 773.7,943.4 775.2,943.1 776.7,942.9 778.2,942.6 779.7,942.4 781.2,942.1 782.7,941.7 784.2,941.4 785.7,941.0 787.2,940.6 788.7,940.1 790.1,939.6 791.6,939.1 793.1,938.3 794.6,937.2 796.0,935.7 797.5,934.0 799.0,932.1 800.4,929.9 801.9,927.7 803.4,925.4 804.8,923.0 806.3,920.7 807.7,918.5 809.1,916.0 810.4,913.4 811.8,910.7 813.2,907.8 814.6,904.8 815.9,901.8 817.3,898.7 818.7,895.4 820.1,892.0 821.4,888.4 822.8,884.7 824.2,880.9 825.6,877.1 826.9,873.2 828.3,869.3 829.7,865.3 831.1,861.1 832.4,856.8 833.8,852.5 835.2,848.2 836.6,844.0 837.9,840.0 839.3,836.2 840.7,832.6 842.1,829.1 843.4,825.7 844.8,822.4 846.2,819.3 847.6,816.2 848.9,813.3 850.3,810.5 851.8,807.5 853.2,804.6 854.7,801.9 856.2,799.5 857.6,797.6 859.1,795.9 860.6,794.4 862.0,793.0 863.5,792.0 865.0,791.4 866.4,791.0 867.9,790.7 869.4,790.5 870.8,790.3 872.3,790.3 873.8,790.5 875.2,791.0 876.7,791.8 878.2,792.8 879.6,793.9 881.1,795.5 882.6,797.8 884.0,800.6 885.5,803.7 887.0,806.8 888.4,810.0 889.9,813.4 891.4,817.1 892.8,821.0 894.3,825.2 895.8,829.8 897.2,834.8 898.7,840.2 900.2,845.6 901.6,850.9 903.1,856.0 904.6,861.2 906.0,866.3 907.5,871.5 909.0,876.6 910.4,881.9 911.9,887.3 913.4,892.7 914.8,897.7 916.3,902.3 917.8,906.6 919.2,910.6 920.7,914.4 922.2,917.8 923.6,920.7 925.0,923.1 926.4,925.3 927.7,927.4 929.1,929.3 930.5,931.0 931.9,932.7 933.2,934.1 934.6,935.4 936.0,936.6 937.4,937.7 938.7,938.8 940.1,939.8 941.5,940.7 942.9,941.5 944.2,942.2 945.6,942.8 947.0,943.2 948.4,943.7 949.7,944.0 951.1,944.4 952.5,944.7 953.9,945.0 955.2,945.3 956.6,945.7" stroke="#b3b3b3" stroke-width="4" stroke-dasharray="3.7 3.6"/>
<polyline points="769.7,945.7 771.1,945.6 772.6,945.6 774.1,945.5 775.5,945.5 777.0,945.4 778.5,945.4 779.9,945.4 781.4,945.3 782.9,945.3 784.3,945.2 785.8,945.2 787.3,945.1 788.7,945.1 790.2,945.1 791.6,945.0 793.1,945.0 794.6,944.9 796.0,944.9 797.5,944.9 799.0,944.8 800.4,944.8 801.9,944.7 803.4,944.7 804.8,944.6 806.3,944.6 807.8,944.5 809.2,944.5 810.7,944.4 812.2,944.4 813.6,944.3 815.1,944.2 816.6,944.2 818.0,944.1 819.5,944.0 821.0,943.9 822.4,943.9 823.9,943.8 825.4,943.7 826.8,943.6 828.3,943.5 829.7,943.4 831.2,943.3 832.6,943.1 834.0,943.0 835.4,942.8 836.9,942.6 838.3,942.4 839.7,942.1 841.1,941.9 842.6,941.6 844.0,941.4 845.4,941.1 846.8,940.8 848.3,940.5 849.7,940.1 851.1,939.8 852.5,939.4 854.0,939.1 855.4,938.7 856.9,938.2 858.4,937.7 859.8,937.1 861.3,936.5 862.8,935.8 864.2,935.1 865.7,934.4 867.2,933.6 868.6,932.7 870.1,931.9 871.6,930.9 873.0,930.0 874.5,929.1 876.0,928.1 877.4,927.0 878.9,925.8 880.4,924.5 881.8,923.1 883.3,921.7 884.8,920.1 886.2,918.5 887.7,916.8 889.2,915.1 890.6,913.4 892.1,911.5 893.6,909.6 895.0,907.5 896.5,905.3 898.0,903.0 899.4,900.7 900.9,898.4 902.4,896.0 903.8,893.7 905.3,891.3 906.7,889.1 908.0,886.8 909.4,884.5 910.8,882.1 912.2,879.8 913.5,877.4 914.9,875.2 916.3,872.9 917.7,870.7 919.0,868.5 920.4,866.3 921.8,864.1 923.2,862.0 924.5,860.0 925.9,858.1 927.3,856.4 928.7,854.8 930.0,853.2 931.4,851.7 932.8,850.3 934.2,849.0 935.5,847.7 936.9,846.5 938.3,845.4 939.7,844.3 941.0,843.3 942.4,842.3 943.8,841.4 945.2,840.5 946.5,839.6 947.9,838.8 949.3,838.0 950.7,837.2 952.0,836.5 953.4,835.7 954.8,835.0 956.2,834.3 957.5,833.6 958.9,833.0 960.3,832.5 961.7,832.0 963.0,831.5 964.4,831.0 965.8,830.6 967.2,830.2 968.5,829.9 969.9,829.6 971.3,829.6 972.7,829.6 974.0,829.8 975.4,830.1 976.8,830.5 978.2,831.0 979.5,831.5 980.9,832.0 982.3,832.5 983.7,833.1 985.0,833.8 986.4,834.6 987.8,835.5 989.2,836.5 990.5,837.6 991.9,838.7 993.3,839.9 994.7,841.1 996.0,842.5 997.4,844.0 998.8,845.7 1000.2,847.4 1001.5,849.1 1002.9,850.9 1004.3,852.7 1005.7,854.6 1007.0,856.5 1008.4,858.5 1009.8,860.6 1011.2,862.8 1012.5,864.9 1013.9,867.1 1015.3,869.3 1016.6,871.5 1018.0,873.7 1019.4,876.0 1020.8,878.3 1022.1,880.7 1023.5,883.0 1024.9,885.3 1026.3,887.6 1027.6,890.0 1029.0,892.3 1030.4,894.7 1031.8,897.1 1033.1,899.4 1034.5,901.7 1035.9,903.9 1037.3,906.0 1038.6,908.0 1040.0,910.0 1041.4,911.9 1042.8,913.7 1044.1,915.6 1045.5,917.3 1046.9,919.0 1048.3,920.7 1049.7,922.5 1051.2,924.3 1052.7,926.1 1054.1,927.9 1055.6,929.5 1057.1,931.1 1058.5,932.4 1060.0,933.6 1061.4,934.6 1062.9,935.5 1064.4,936.4 1065.8,937.2 1067.3,938.0 1068.8,938.7 1070.2,939.4 1071.7,939.9 1073.2,940.5 1074.6,940.9 1076.1,941.3 1077.5,941.7 1078.9,942.1 1080.3,942.4 1081.7,942.8 1083.1,943.1 1084.5,943.4 1085.9,943.7 1087.3,943.9 1088.7,944.1 1090.2,944.3 1091.6,944.5 1093.0,944.6 1094.4,944.7 1095.9,944.8 1097.4,944.9 1098.8,945.0 1100.3,945.1 1101.8,945.2 1103.2,945.3 1104.7,945.4 1106.2,945.5 1107.6,945.5 1109.1,945.6 1110.6,945.6 1112.0,945.7 1113.5,945.7 1115.0,945.7 1116.4,945.7 1117.9,945.7 1119.4,945.7 1120.8,945.7 1122.3,945.7 1123.8,945.7 1125.2,945.7 1126.7,945.7 1128.2,945.7 1129.6,945.7 1131.1,945.7 1132.6,945.7 1134.0,945.7 1135.5,945.7 1137.0,945.7" stroke="#0f26d9" stroke-width="4" stroke-dasharray="3.7 3.6"/>
<polyline points="724.6,945.7 726.0,945.6 727.5,945.5 728.9,945.4 730.4,945.3 731.8,945.2 733.3,945.2 734.7,945.1 736.2,945.0 737.6,944.9 739.1,944.8 740.5,944.8 741.9,944.7 743.4,944.6 744.8,944.5 746.3,944.4 747.7,944.2 749.2,944.1 750.6,944.0 752.1,943.8 753.5,943.7 755.0,943.5 756.4,943.3 757.8,943.0 759.2,942.7 760.6,942.4 762.0,942.0 763.4,941.5 764.9,941.0 766.3,940.5 767.7,939.9 769.1,939.3 770.5,938.7 771.9,938.0 773.3,937.2 774.7,936.4 776.1,935.3 777.4,934.1 778.8,932.7 780.2,931.1 781.6,929.5 782.9,927.9 784.3,926.2 785.7,924.5 787.1,922.7 788.4,920.8 789.8,918.8 791.2,916.7 792.6,914.5 793.9,912.1 795.3,909.7 796.7,907.0 798.1,904.1 799.4,901.0 800.8,897.7 802.2,894.4 803.6,890.9 804.9,887.4 806.3,884.0 807.7,880.5 809.1,876.9 810.4,873.2 811.8,869.5 813.2,865.8 814.6,862.0 815.9,858.3 817.3,854.6 818.7,850.9 820.1,847.1 821.4,843.4 822.8,839.6 824.2,835.9 825.6,832.2 826.9,828.7 828.3,825.2 829.7,821.7 831.1,818.3 832.4,814.9 833.8,811.6 835.2,808.4 836.6,805.2 837.9,802.3 839.3,799.4 840.8,796.4 842.2,793.4 843.7,790.5 845.2,788.2 846.6,786.6 848.1,785.5 849.6,784.7 851.0,784.0 852.5,783.4 854.0,782.9 855.4,782.4 856.9,781.9 858.4,781.5 859.8,781.2 861.3,781.1 862.8,781.4 864.2,782.3 865.7,783.5 867.2,785.0 868.6,786.6 870.1,788.4 871.6,790.7 873.0,793.3 874.5,796.3 876.0,799.4 877.4,803.1 878.9,807.3 880.4,811.9 881.8,816.7 883.3,821.5 884.8,826.4 886.2,831.5 887.7,836.7 889.2,842.0 890.6,847.2 892.1,852.4 893.6,857.5 895.0,862.6 896.5,867.8 898.0,872.9 899.4,878.2 900.9,883.6 902.4,889.0 903.8,894.1 905.3,898.7 906.8,902.8 908.2,906.8 909.7,910.4 911.2,913.9 912.6,917.0 914.1,920.0 915.6,922.7 917.0,925.3 918.5,927.7 920.0,929.9 921.4,932.1 922.9,934.2 924.4,936.1 925.8,937.8 927.3,939.1 928.7,940.1 930.0,941.0 931.4,941.9 932.8,942.6 934.2,943.3 935.5,943.9 936.9,944.3 938.3,944.6 939.7,944.8 941.0,945.0 942.4,945.1 943.8,945.2 945.2,945.4 946.5,945.5 947.9,945.6 949.3,945.7" stroke="#1acccc" stroke-width="4" stroke-dasharray="3.7 3.6"/>
<polyline points="883.3,945.7 884.8,945.6 886.2,945.5 887.7,945.4 889.2,945.4 890.6,945.3 892.1,945.2 893.6,945.1 895.0,945.1 896.5,945.0 898.0,944.9 899.4,944.9 900.9,944.8 902.4,944.7 903.8,944.7 905.3,944.6 906.8,944.5 908.2,944.5 909.7,944.4 911.2,944.3 912.6,944.2 914.1,944.1 915.6,944.0 917.0,943.9 918.5,943.7 920.0,943.6 921.4,943.5 922.9,943.3 924.4,943.1 925.8,943.0 927.3,942.8 928.8,942.5 930.2,942.1 931.7,941.5 933.2,940.9 934.6,940.1 936.1,939.3 937.6,938.4 939.0,937.5 940.5,936.4 942.0,935.4 943.4,934.3 944.9,932.9 946.4,931.3 947.8,929.6 949.3,927.8 950.8,925.8 952.2,923.7 953.7,921.5 955.2,919.3 956.6,917.0 958.0,914.8 959.4,912.3 960.7,909.6 962.1,906.8 963.5,903.9 964.9,901.0 966.2,898.0 967.6,895.0 969.0,892.0 970.4,888.9 971.7,885.8 973.1,882.6 974.5,879.3 975.9,876.0 977.2,872.7 978.6,869.3 980.0,865.7 981.4,862.1 982.7,858.4 984.1,854.6 985.5,850.8 986.9,847.0 988.2,843.4 989.6,839.9 991.0,836.5 992.4,833.1 993.7,829.8 995.1,826.5 996.5,823.3 997.9,820.2 999.2,817.1 1000.6,814.1 1002.0,811.1 1003.4,808.1 1004.7,805.1 1006.1,802.2 1007.5,799.4 1008.9,796.7 1010.2,794.3 1011.6,792.1 1012.9,790.1 1014.2,788.1 1015.5,786.2 1016.8,784.5 1018.2,783.0 1019.5,781.8 1020.8,781.1 1022.2,780.5 1023.7,780.0 1025.2,779.6 1026.6,779.3 1028.1,779.2 1029.6,779.4 1031.0,780.0 1032.5,780.8 1034.0,781.8 1035.4,782.9 1036.7,784.0 1038.1,785.4 1039.4,787.0 1040.7,788.9 1042.0,791.0 1043.3,793.3 1044.6,795.8 1045.8,798.6 1047.1,802.1 1048.3,806.0 1049.6,810.1 1050.8,814.1 1052.3,819.0 1053.7,824.1 1055.2,829.4 1056.7,834.6 1058.1,839.9 1059.6,845.0 1061.1,850.2 1062.5,855.3 1064.0,860.4 1065.5,865.6 1066.9,870.9 1068.4,876.3 1069.9,881.6 1071.3,886.7 1072.8,891.3 1074.3,895.4 1075.7,899.3 1077.2,902.9 1078.7,906.4 1080.1,909.7 1081.5,912.6 1082.8,915.6 1084.1,918.5 1085.4,921.2 1086.7,923.8 1088.0,926.1 1089.3,928.1 1090.7,929.9 1092.1,931.5 1093.4,933.1 1094.8,934.5 1096.2,935.8 1097.6,937.0 1098.9,938.1 1100.3,939.1 1101.7,940.0 1103.1,940.9 1104.4,941.7 1105.8,942.5 1107.2,943.2 1108.6,943.8 1109.9,944.3 1111.3,944.6 1112.7,944.8 1114.1,945.0 1115.4,945.1 1116.8,945.2 1118.2,945.4 1119.6,945.5 1120.9,945.6 1122.3,945.7" stroke="#14602a" stroke-width="4" stroke-dasharray="3.7 3.6"/>
<polyline points="1111.3,945.7 1112.7,945.5 1114.1,945.3 1115.5,945.1 1116.9,945.0 1118.4,944.8 1119.8,944.6 1121.2,944.4 1122.6,944.2 1124.0,944.0 1125.4,943.8 1126.8,943.5 1128.2,943.1 1129.6,942.8 1131.0,942.2 1132.4,941.3 1133.8,940.1 1135.1,938.7 1136.5,937.1 1137.9,935.4 1139.3,933.6 1140.6,931.7 1141.9,929.8 1143.2,927.7 1144.6,925.3 1145.9,922.6 1147.2,919.7 1148.5,916.6 1149.8,913.4 1151.3,909.2 1152.7,904.5 1154.2,899.2 1155.7,893.6 1157.1,887.6 1158.6,881.3 1160.1,874.4 1161.5,867.0 1163.0,859.2 1164.5,850.9 1165.8,842.4 1167.2,833.1 1168.6,823.6 1170.0,814.1 1171.3,804.9 1172.7,795.5 1174.1,786.3 1175.5,777.4 1176.8,768.4 1178.2,759.5 1179.6,751.2 1181.0,744.3 1182.3,738.6 1183.7,733.4 1185.1,729.1 1186.5,725.9 1187.8,723.6 1189.2,721.6 1190.6,720.1 1192.0,719.3 1193.3,719.0 1194.7,718.8 1196.1,718.6 1197.5,718.6 1198.8,719.1 1200.2,720.3 1201.6,722.1 1203.0,724.1 1204.3,726.9 1205.7,730.9 1207.1,735.6 1208.5,740.6 1209.8,746.1 1211.2,752.2 1212.6,759.0 1214.0,766.4 1215.3,774.6 1216.7,783.9 1218.1,793.6 1219.5,803.1 1220.8,812.4 1222.2,821.7 1223.6,830.9 1224.9,839.9 1226.3,848.6 1227.7,857.1 1229.1,865.3 1230.4,872.9 1231.8,880.1 1233.2,886.9 1234.6,893.1 1235.9,898.7 1237.4,903.9 1238.9,908.8 1240.3,913.3 1241.8,917.3 1243.3,920.7 1244.6,923.4 1245.9,926.0 1247.2,928.4 1248.5,930.6 1249.8,932.6 1251.1,934.2 1252.4,935.4 1253.9,936.5 1255.3,937.5 1256.7,938.4 1258.1,939.2 1259.6,939.9 1261.0,940.6 1262.4,941.1 1263.8,941.6 1265.3,942.0 1266.7,942.4 1268.2,942.7 1269.7,943.1 1271.1,943.3 1272.6,943.6 1274.1,943.8 1275.5,944.1 1277.0,944.3 1278.5,944.4 1279.9,944.6 1281.3,944.7 1282.7,944.9 1284.0,945.0 1285.4,945.1 1286.8,945.2 1288.1,945.3 1289.5,945.3 1290.9,945.4 1292.2,945.5 1293.6,945.6 1295.0,945.7" stroke="#99cc14" stroke-width="4" stroke-dasharray="3.7 3.6"/>
<polyline points="784.3,945.7 785.8,945.6 787.3,945.5 788.7,945.4 790.2,945.3 791.6,945.2 793.1,945.1 794.6,945.0 796.0,944.9 797.5,944.8 799.0,944.7 800.4,944.7 801.9,944.6 803.4,944.5 804.8,944.4 806.3,944.3 807.8,944.2 809.2,944.0 810.7,943.9 812.2,943.8 813.6,943.6 815.1,943.5 816.6,943.3 818.0,943.2 819.5,943.0 821.0,942.8 822.4,942.5 823.8,942.2 825.2,941.9 826.6,941.5 828.0,941.0 829.4,940.5 830.8,939.9 832.3,939.3 833.7,938.6 835.1,937.9 836.5,937.1 837.9,936.3 839.3,935.4 840.7,934.3 842.1,932.9 843.4,931.3 844.8,929.4 846.2,927.3 847.6,925.2 848.9,922.9 850.3,920.7 851.7,918.4 853.1,915.9 854.4,913.2 855.8,910.4 857.2,907.6 858.6,904.6 859.9,901.6 861.3,898.7 862.7,895.7 864.1,892.6 865.4,889.5 866.8,886.3 868.2,883.0 869.6,879.7 870.9,876.3 872.3,872.9 873.7,869.5 875.1,865.9 876.4,862.4 877.8,858.7 879.2,855.0 880.5,851.2 881.9,847.4 883.3,843.5 884.7,839.5 886.0,835.4 887.4,831.1 888.8,826.8 890.2,822.5 891.5,818.3 892.9,814.3 894.3,810.5 895.6,807.0 896.9,803.6 898.2,800.3 899.5,797.1 900.8,794.1 902.2,791.1 903.5,788.4 904.9,785.3 906.4,782.1 907.9,779.2 909.3,776.9 910.8,775.6 912.2,774.8 913.5,774.3 914.9,773.9 916.3,773.7 917.7,774.4 919.0,776.2 920.4,778.6 921.8,781.1 923.3,783.9 924.7,787.4 926.2,791.3 927.7,795.4 929.1,799.4 930.6,803.5 932.1,807.8 933.5,812.2 935.0,816.8 936.5,821.5 937.9,826.4 939.4,831.5 940.9,836.7 942.3,842.0 943.8,847.2 945.1,852.0 946.4,856.8 947.7,861.8 949.0,866.6 950.3,871.4 951.6,876.0 953.0,880.3 954.3,884.4 955.6,888.4 956.9,892.2 958.2,895.9 959.5,899.5 960.8,902.8 962.1,906.0 963.4,909.0 964.7,912.0 966.0,914.8 967.4,917.5 968.7,920.0 970.0,922.3 971.3,924.4 972.7,926.4 974.0,928.3 975.4,930.2 976.8,931.9 978.2,933.5 979.5,934.9 980.9,936.2 982.3,937.2 983.7,938.2 985.0,939.1 986.4,939.9 987.8,940.6 989.2,941.3 990.5,941.9 991.9,942.4 993.3,942.8 994.7,943.1 996.1,943.4 997.5,943.7 998.9,943.9 1000.3,944.1 1001.7,944.3 1003.1,944.5 1004.6,944.7 1006.0,944.9 1007.4,945.1 1008.8,945.3 1010.2,945.5 1011.6,945.7" stroke="#cc9a0f" stroke-width="4" stroke-dasharray="3.7 3.6"/>
<polyline points="744.0,945.7 745.5,945.5 746.9,945.2 748.4,945.0 749.9,944.8 751.3,944.6 752.8,944.4 754.3,944.2 755.7,944.1 757.2,943.9 758.7,943.7 760.1,943.4 761.6,943.2 763.1,943.0 764.5,942.8 766.0,942.5 767.5,942.2 768.9,941.9 770.4,941.6 771.9,941.3 773.3,940.9 774.7,940.5 776.1,940.0 777.5,939.5 779.0,938.9 780.4,938.2 781.8,937.5 783.2,936.8 784.6,936.0 786.0,935.2 787.4,934.3 788.8,933.5 790.2,932.6 791.6,931.7 793.1,930.8 794.5,929.9 795.9,928.9 797.3,927.8 798.7,926.7 800.1,925.6 801.5,924.4 802.9,923.2 804.3,922.0 805.7,920.8 807.2,919.6 808.6,918.3 810.0,917.0 811.4,915.7 812.9,914.4 814.4,913.0 815.8,911.5 817.3,910.1 818.8,908.6 820.2,907.1 821.7,905.5 823.2,904.0 824.6,902.3 826.1,900.7 827.6,899.0 829.0,897.2 830.5,895.4 832.0,893.6 833.4,891.7 834.9,889.8 836.4,887.9 837.8,886.0 839.3,884.0 840.8,881.9 842.2,879.9 843.7,877.8 845.2,875.7 846.6,873.6 848.1,871.4 849.6,869.1 851.0,866.8 852.5,864.4 854.0,861.9 855.4,859.3 856.9,856.6 858.4,853.7 859.8,850.8 861.3,847.7 862.8,844.7 864.2,841.6 865.7,838.5 867.2,835.5 868.6,832.5 870.0,829.7 871.4,826.9 872.8,824.0 874.1,821.2 875.5,818.4 876.9,815.6 878.3,813.0 879.6,810.5 880.9,808.1 882.3,805.6 883.6,803.2 884.9,800.9 886.2,798.9 887.5,797.1 888.8,795.8 890.3,794.5 891.7,793.3 893.2,792.3 894.7,791.6 896.1,791.4 897.6,791.4 899.1,791.6 900.5,791.9 902.0,792.3 903.5,792.8 904.9,793.8 906.4,795.5 907.9,797.7 909.3,800.3 910.8,803.1 912.3,806.4 913.7,810.6 915.2,815.3 916.7,820.3 918.1,825.2 919.6,830.1 921.1,835.2 922.5,840.4 924.0,845.7 925.5,850.9 926.9,856.1 928.4,861.4 929.9,866.6 931.3,871.7 932.8,876.6 934.3,881.3 935.7,885.9 937.2,890.3 938.7,894.6 940.1,898.7 941.4,902.2 942.7,905.6 944.1,909.0 945.4,912.2 946.7,915.3 948.0,918.1 949.3,920.7 950.7,923.3 952.0,925.8 953.4,928.1 954.8,930.4 956.2,932.5 957.5,934.3 958.9,935.9 960.3,937.2 961.7,938.4 963.0,939.4 964.4,940.4 965.8,941.3 967.2,942.0 968.5,942.7 969.9,943.2 971.3,943.5 972.7,943.8 974.2,944.0 975.7,944.2 977.1,944.3 978.6,944.5 980.1,944.6 981.5,944.8 983.0,944.9 984.5,945.0 985.9,945.1 987.4,945.2 988.9,945.3 990.3,945.4 991.8,945.6 993.3,945.7" stroke="#cc0000" stroke-width="4" stroke-dasharray="3.7 3.6"/>
</g>
<text x="724.5" y="973.5" font-size="21" text-anchor="middle">0</text>
<line x1="838.66" y1="945.7" x2="838.66" y2="939.7" stroke="#3c3c3c" stroke-width="1.2"/>
<line x1="838.66" y1="603.2" x2="838.66" y2="609.2" stroke="#3c3c3c" stroke-width="1.2"/>
<text x="838.7" y="973.5" font-size="21" text-anchor="middle">0.2</text>
<line x1="952.8199999999999" y1="945.7" x2="952.8199999999999" y2="939.7" stroke="#3c3c3c" stroke-width="1.2"/>
<line x1="952.8199999999999" y1="603.2" x2="952.8199999999999" y2="609.2" stroke="#3c3c3c" stroke-width="1.2"/>
<text x="952.8" y="973.5" font-size="21" text-anchor="middle">0.4</text>
<line x1="1066.98" y1="945.7" x2="1066.98" y2="939.7" stroke="#3c3c3c" stroke-width="1.2"/>
<line x1="1066.98" y1="603.2" x2="1066.98" y2="609.2" stroke="#3c3c3c" stroke-width="1.2"/>
<text x="1067.0" y="973.5" font-size="21" text-anchor="middle">0.6</text>
<line x1="1181.1399999999999" y1="945.7" x2="1181.1399999999999" y2="939.7" stroke="#3c3c3c" stroke-width="1.2"/>
<line x1="1181.1399999999999" y1="603.2" x2="1181.1399999999999" y2="609.2" stroke="#3c3c3c" stroke-width="1.2"/>
<text x="1181.1" y="973.5" font-size="21" text-anchor="middle">0.8</text>
<text x="1295.3" y="973.5" font-size="21" text-anchor="middle">1</text>
<text x="716.5" y="953.0" font-size="21" text-anchor="end">0</text>
<line x1="724.5" y1="823.3785714285715" x2="730.5" y2="823.3785714285715" stroke="#3c3c3c" stroke-width="1.2"/>
<line x1="1295.3" y1="823.3785714285715" x2="1289.3" y2="823.3785714285715" stroke="#3c3c3c" stroke-width="1.2"/>
<text x="716.5" y="830.7" font-size="21" text-anchor="end">5</text>
<line x1="724.5" y1="701.0571428571429" x2="730.5" y2="701.0571428571429" stroke="#3c3c3c" stroke-width="1.2"/>
<line x1="1295.3" y1="701.0571428571429" x2="1289.3" y2="701.0571428571429" stroke="#3c3c3c" stroke-width="1.2"/>
<text x="716.5" y="708.4" font-size="21" text-anchor="end">10</text>
<text transform="translate(683.5,774.5) rotate(-90)" font-size="21" text-anchor="middle">Probability density</text>
<text x="1009.5" y="1000" font-size="21" text-anchor="middle">Slope of linear regression</text>
<rect x="734.5" y="558.5" width="278" height="83" fill="#fbfbfb" stroke="#3c3c3c" stroke-width="1.3"/>
<line x1="742.5" y1="574.4" x2="799" y2="574.4" stroke="#000" stroke-width="3.1"/>
<line x1="742.5" y1="612.4" x2="798.5" y2="612.4" stroke="#000" stroke-width="4" stroke-dasharray="3.7 3.6"/>
<text x="805" y="582" font-size="21">All discharge stations</text>
<text x="805" y="608" font-size="21">Only stations close</text>
<text x="805" y="632.5" font-size="21">to river mouth</text>
<text x="736.5" y="663.5" font-size="30" font-weight="bold">c</text>
</g>
<g id="panel-d">
<rect x="1390.3" y="603.2" width="570.5" height="342.5" fill="#fff" stroke="none" stroke-width="1"/>
<rect x="1390.3" y="928.5" width="101.2" height="17.200000000000045" fill="#e8e8e8" stroke="none" stroke-width="1"/>
<rect x="1491.5" y="928.5" width="36.8" height="17.200000000000045" fill="#b3c0f0" stroke="none" stroke-width="1"/>
<rect x="1528.3" y="928.5" width="193.2" height="17.200000000000045" fill="#b9f0f0" stroke="none" stroke-width="1"/>
<rect x="1721.6" y="928.5" width="36.8" height="17.200000000000045" fill="#b9d1c3" stroke="none" stroke-width="1"/>
<rect x="1758.4" y="928.5" width="64.4" height="17.200000000000045" fill="#e0f0b8" stroke="none" stroke-width="1"/>
<rect x="1822.8" y="928.5" width="101.2" height="17.200000000000045" fill="#f2e0b0" stroke="none" stroke-width="1"/>
<rect x="1924.0" y="928.5" width="36.8" height="17.200000000000045" fill="#f2b3b3" stroke="none" stroke-width="1"/>
<line x1="1390.3" y1="928.5" x2="1960.8" y2="928.5" stroke="#3c3c3c" stroke-width="1"/>
<line x1="1491.5" y1="603.2" x2="1491.5" y2="945.7" stroke="#000" stroke-width="1.8" stroke-dasharray="1.6 2.07"/>
<line x1="1528.3" y1="603.2" x2="1528.3" y2="945.7" stroke="#000" stroke-width="1.8" stroke-dasharray="1.6 2.07"/>
<line x1="1721.6" y1="603.2" x2="1721.6" y2="945.7" stroke="#000" stroke-width="1.8" stroke-dasharray="1.6 2.07"/>
<line x1="1758.4" y1="603.2" x2="1758.4" y2="945.7" stroke="#000" stroke-width="1.8" stroke-dasharray="1.6 2.07"/>
<line x1="1822.8" y1="603.2" x2="1822.8" y2="945.7" stroke="#000" stroke-width="1.8" stroke-dasharray="1.6 2.07"/>
<line x1="1924.0" y1="603.2" x2="1924.0" y2="945.7" stroke="#000" stroke-width="1.8" stroke-dasharray="1.6 2.07"/>
<polyline points="1664.0,782.7 1719.8,794.7 1811.4,699.9 1866.2,714.8 1912.3,630.2 1930.4,636.7 1939.7,680.9 1958.3,686.4" fill="none" stroke="#33cc33" stroke-width="2.9" stroke-linejoin="round"/>
<polyline points="1535.2,850.1 1544.5,846.8 1553.8,849.1 1563.1,848.7 1572.4,850.1 1581.7,848.2 1591.0,847.3 1600.3,848.7 1609.6,849.1 1618.9,850.1 1628.2,850.1 1637.5,848.7 1645.9,845.0 1655.2,850.1 1664.5,847.7 1673.8,848.7 1683.1,848.2 1691.4,843.6 1700.7,849.6 1710.0,849.1 1721.2,848.7 1728.6,843.1 1737.5,844.5 1747.2,843.1 1758.4,842.6 1774.7,842.2 1783.9,839.8 1793.2,845.0 1802.5,843.1 1811.8,841.7 1821.1,831.9 1830.4,823.1 1839.7,821.7 1847.6,821.7 1856.9,817.5 1930.4,797.1 1940.6,797.1 1949.9,807.8 1958.3,807.8" fill="none" stroke="#3b78d8" stroke-width="2.9" stroke-linejoin="round"/>
<polyline points="1507.4,944.9 1525.9,944.9 1535.2,895.6 1618.9,895.2 1628.2,894.2 1758.4,893.8 1765.4,893.3 1774.7,888.2 1802.5,887.7 1811.8,882.1 1821.1,879.8 1838.3,879.4 1847.6,866.8 1856.9,864.0 1875.5,863.5 1884.8,843.6 1894.1,831.9 1903.4,823.6 1939.7,823.1 1949.0,818.9" fill="none" stroke="#000" stroke-width="3.1" stroke-linejoin="round"/>
<rect x="1390.3" y="603.2" width="570.5" height="342.5" fill="none" stroke="#3c3c3c" stroke-width="1.5"/>
<text x="1382.5" y="953.0" font-size="21" text-anchor="end">0</text>
<line x1="1390.3" y1="888.6166666666667" x2="1396.3" y2="888.6166666666667" stroke="#3c3c3c" stroke-width="1.2"/>
<line x1="1960.8" y1="888.6166666666667" x2="1954.8" y2="888.6166666666667" stroke="#3c3c3c" stroke-width="1.2"/>
<text x="1382.5" y="895.9" font-size="21" text-anchor="end">1</text>
<line x1="1390.3" y1="831.5333333333334" x2="1396.3" y2="831.5333333333334" stroke="#3c3c3c" stroke-width="1.2"/>
<line x1="1960.8" y1="831.5333333333334" x2="1954.8" y2="831.5333333333334" stroke="#3c3c3c" stroke-width="1.2"/>
<text x="1382.5" y="838.8" font-size="21" text-anchor="end">2</text>
<line x1="1390.3" y1="774.45" x2="1396.3" y2="774.45" stroke="#3c3c3c" stroke-width="1.2"/>
<line x1="1960.8" y1="774.45" x2="1954.8" y2="774.45" stroke="#3c3c3c" stroke-width="1.2"/>
<text x="1382.5" y="781.8" font-size="21" text-anchor="end">3</text>
<line x1="1390.3" y1="717.3666666666667" x2="1396.3" y2="717.3666666666667" stroke="#3c3c3c" stroke-width="1.2"/>
<line x1="1960.8" y1="717.3666666666667" x2="1954.8" y2="717.3666666666667" stroke="#3c3c3c" stroke-width="1.2"/>
<text x="1382.5" y="724.7" font-size="21" text-anchor="end">4</text>
<line x1="1390.3" y1="660.2833333333333" x2="1396.3" y2="660.2833333333333" stroke="#3c3c3c" stroke-width="1.2"/>
<line x1="1960.8" y1="660.2833333333333" x2="1954.8" y2="660.2833333333333" stroke="#3c3c3c" stroke-width="1.2"/>
<text x="1382.5" y="667.6" font-size="21" text-anchor="end">5</text>
<text x="1382.5" y="610.5" font-size="21" text-anchor="end">6</text>
<text x="1390.3" y="973.5" font-size="21" text-anchor="middle">Oct 54</text>
<text x="1491.5" y="973.5" font-size="21" text-anchor="middle">Oct 65</text>
<text x="1721.6" y="973.5" font-size="21" text-anchor="middle">Oct 90</text>
<text x="1822.8" y="973.5" font-size="21" text-anchor="middle">Oct 01</text>
<text x="1960.8" y="973.5" font-size="21" text-anchor="middle">Oct 16</text>
<rect x="1402.5" y="558.5" width="402.5" height="126" fill="#fbfbfb" stroke="#3c3c3c" stroke-width="1.3"/>
<line x1="1410" y1="576.3" x2="1466.5" y2="576.3" stroke="#000" stroke-width="2.8"/>
<line x1="1410" y1="609.7" x2="1466.5" y2="609.7" stroke="#33cc33" stroke-width="2.6"/>
<line x1="1410" y1="653" x2="1466.5" y2="653" stroke="#3b78d8" stroke-width="2.6"/>
<text x="1473" y="588" font-size="21">Reservoir capacity [km<tspan dy="-9" font-size="17">3</tspan><tspan dy="9">]</tspan></text>
<text x="1473" y="620" font-size="21">Irrigated area [10<tspan dy="-9" font-size="17">3</tspan><tspan dy="9"> km</tspan><tspan dy="-9" font-size="17">2</tspan><tspan dy="9">]</tspan></text>
<text x="1473" y="646" font-size="21" textLength="325" lengthAdjust="spacingAndGlyphs">Annual surface water consumption</text>
<text x="1473" y="676.5" font-size="21">for irrigation [km<tspan dy="-9" font-size="17">3</tspan><tspan dy="9">]</tspan></text>
<text x="1402.5" y="718" font-size="30" font-weight="bold">d</text>
</g>
</svg>
</body>
</html>
